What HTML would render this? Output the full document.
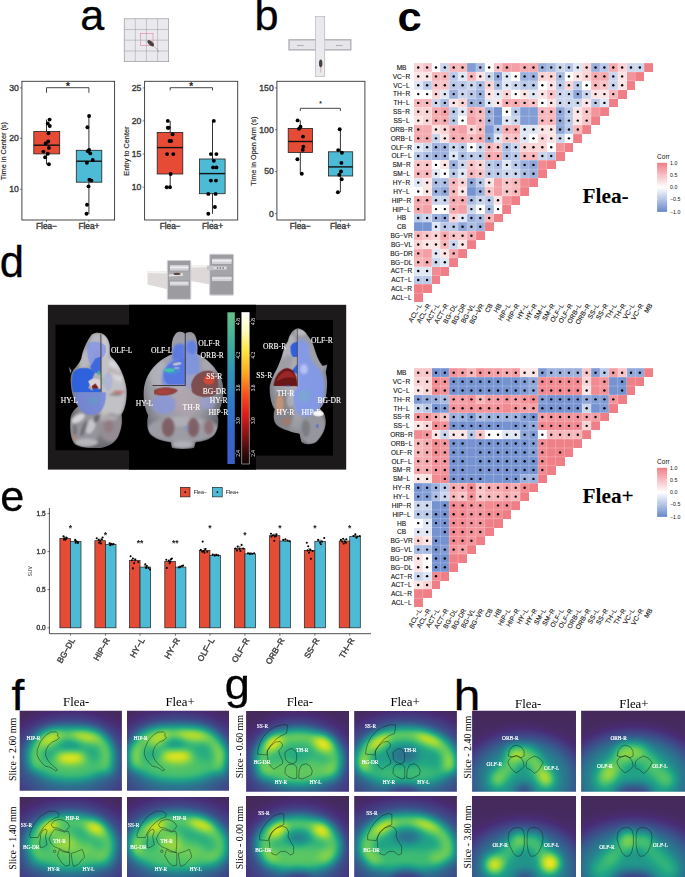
<!DOCTYPE html>
<html lang="en"><head><meta charset="utf-8"><title>Figure</title>
<style>
html,body{margin:0;padding:0;background:#fff;}
body{width:685px;height:877px;overflow:hidden;font-family:"Liberation Sans",Arial,sans-serif;}
svg{display:block;}
</style></head><body>
<svg width="685" height="877" viewBox="0 0 685 877">
<rect x="0" y="0" width="685" height="877" fill="#fff"/>
<g font-family='"Liberation Sans", Arial, sans-serif'>
<text x="80.3" y="30.2" font-size="43.2" fill="#000" stroke="#000" stroke-width="0.3">a</text>
<text x="254.6" y="30.2" font-size="43.2" fill="#000" stroke="#000" stroke-width="0.3">b</text>
<g>
<rect x="124.2" y="18.8" width="44.5" height="42.9" fill="#e9e9ee" stroke="#8a8a8e" stroke-width="0.6"/>
<line x1="135.3" x2="135.3" y1="18.8" y2="61.7" stroke="#9a9a9e" stroke-width="0.5"/>
<line x1="124.2" x2="168.7" y1="29.5" y2="29.5" stroke="#9a9a9e" stroke-width="0.5"/>
<line x1="146.4" x2="146.4" y1="18.8" y2="61.7" stroke="#9a9a9e" stroke-width="0.5"/>
<line x1="124.2" x2="168.7" y1="40.2" y2="40.2" stroke="#9a9a9e" stroke-width="0.5"/>
<line x1="157.6" x2="157.6" y1="18.8" y2="61.7" stroke="#9a9a9e" stroke-width="0.5"/>
<line x1="124.2" x2="168.7" y1="51.0" y2="51.0" stroke="#9a9a9e" stroke-width="0.5"/>
<rect x="140.3" y="33.3" width="12.7" height="12.1" fill="none" stroke="#e0708a" stroke-width="0.5"/>
<path d="M153.5 46 Q157.5 48.5 159 52.3" fill="none" stroke="#a06a6a" stroke-width="0.4"/>
<ellipse cx="150.7" cy="43.2" rx="4" ry="2" transform="rotate(42 150.7 43.2)" fill="#4a4040"/>
</g>
<g>
<rect x="289" y="39.8" width="61.8" height="10.1" fill="#e6e6ea" stroke="#adadb2" stroke-width="1.3"/>
<rect x="315.6" y="16.4" width="9.2" height="60.2" fill="#e9e9ee" stroke="#a0a0a4" stroke-width="0.5"/>
<rect x="316.1" y="40" width="8.2" height="9.8" fill="#e9e9ee"/>
<text x="300.3" y="45.6" text-anchor="middle" font-size="2.2" fill="#444">Closed</text>
<text x="339.1" y="45.6" text-anchor="middle" font-size="2.2" fill="#444">Closed</text>
<line x1="320.6" x2="320.8" y1="66" y2="72.5" stroke="#a06a6a" stroke-width="0.4"/>
<ellipse cx="320.7" cy="63.4" rx="1.7" ry="3.8" fill="#4a4040"/>
</g>
<rect x="21.9" y="81.3" width="92.69999999999999" height="138.7" fill="#fff" stroke="#333" stroke-width="0.9"/>
<line x1="19.9" x2="21.9" y1="87.9" y2="87.9" stroke="#333" stroke-width="0.6"/>
<text x="18.7" y="90.80000000000001" text-anchor="end" font-size="8.6" fill="#404040" stroke="#404040" stroke-width="0.4">30</text>
<line x1="19.9" x2="21.9" y1="138.4" y2="138.4" stroke="#333" stroke-width="0.6"/>
<text x="18.7" y="141.3" text-anchor="end" font-size="8.6" fill="#404040" stroke="#404040" stroke-width="0.4">20</text>
<line x1="19.9" x2="21.9" y1="189.2" y2="189.2" stroke="#333" stroke-width="0.6"/>
<text x="18.7" y="192.1" text-anchor="end" font-size="8.6" fill="#404040" stroke="#404040" stroke-width="0.4">10</text>
<line x1="46.5" x2="46.5" y1="220" y2="222" stroke="#333" stroke-width="0.6"/>
<text x="46.5" y="229.4" text-anchor="middle" font-size="8.3" fill="#404040" stroke="#404040" stroke-width="0.4">Flea−</text>
<line x1="88.9" x2="88.9" y1="220" y2="222" stroke="#333" stroke-width="0.6"/>
<text x="88.9" y="229.4" text-anchor="middle" font-size="8.3" fill="#404040" stroke="#404040" stroke-width="0.4">Flea+</text>
<text transform="translate(5.6,151.15) rotate(-90)" text-anchor="middle" font-size="7.3" fill="#222" stroke="#222" stroke-width="0.15">Time in Center (s)</text>
<line x1="46.5" x2="46.5" y1="119.6" y2="164.3" stroke="#333" stroke-width="1"/>
<rect x="33.8" y="131.5" width="25.900000000000006" height="22.400000000000006" fill="#E64B35" stroke="#222" stroke-width="0.8"/>
<line x1="33.8" x2="59.7" y1="145.2" y2="145.2" stroke="#111" stroke-width="1.4"/>
<line x1="88.9" x2="88.9" y1="115.6" y2="214.2" stroke="#333" stroke-width="1"/>
<rect x="76.3" y="150.3" width="25.5" height="31.899999999999977" fill="#4DBBD5" stroke="#222" stroke-width="0.8"/>
<line x1="76.3" x2="101.8" y1="161.2" y2="161.2" stroke="#111" stroke-width="1.4"/>
<circle cx="49.6" cy="119.6" r="1.95" fill="#000"/>
<circle cx="47.8" cy="123.5" r="1.95" fill="#000"/>
<circle cx="49.8" cy="126.0" r="1.95" fill="#000"/>
<circle cx="48.5" cy="133.3" r="1.95" fill="#000"/>
<circle cx="48.2" cy="141.5" r="1.95" fill="#000"/>
<circle cx="45.6" cy="143.4" r="1.95" fill="#000"/>
<circle cx="48.9" cy="147.9" r="1.95" fill="#000"/>
<circle cx="43.4" cy="151.6" r="1.95" fill="#000"/>
<circle cx="47.8" cy="153.8" r="1.95" fill="#000"/>
<circle cx="45.1" cy="157.2" r="1.95" fill="#000"/>
<circle cx="48.9" cy="164.3" r="1.95" fill="#000"/>
<circle cx="89.1" cy="116.0" r="1.95" fill="#000"/>
<circle cx="87.4" cy="127.3" r="1.95" fill="#000"/>
<circle cx="89.1" cy="149.9" r="1.95" fill="#000"/>
<circle cx="87.8" cy="151.2" r="1.95" fill="#000"/>
<circle cx="90.3" cy="153.4" r="1.95" fill="#000"/>
<circle cx="92.7" cy="160.0" r="1.95" fill="#000"/>
<circle cx="86.9" cy="162.7" r="1.95" fill="#000"/>
<circle cx="89.4" cy="179.7" r="1.95" fill="#000"/>
<circle cx="91.4" cy="180.6" r="1.95" fill="#000"/>
<circle cx="88.5" cy="186.4" r="1.95" fill="#000"/>
<circle cx="87.0" cy="204.7" r="1.95" fill="#000"/>
<circle cx="86.5" cy="213.8" r="1.95" fill="#000"/>
<path d="M46.5 92.8 V87.7 H88.9 V92.8" fill="none" stroke="#333" stroke-width="0.9"/>
<text x="67.9" y="90.3" text-anchor="middle" font-size="11" font-weight="bold" fill="#222">*</text>
<rect x="144.6" y="81.3" width="93.1" height="138.7" fill="#fff" stroke="#333" stroke-width="0.9"/>
<line x1="142.6" x2="144.6" y1="87.9" y2="87.9" stroke="#333" stroke-width="0.6"/>
<text x="141.4" y="90.80000000000001" text-anchor="end" font-size="8.6" fill="#404040" stroke="#404040" stroke-width="0.4">25</text>
<line x1="142.6" x2="144.6" y1="120.9" y2="120.9" stroke="#333" stroke-width="0.6"/>
<text x="141.4" y="123.80000000000001" text-anchor="end" font-size="8.6" fill="#404040" stroke="#404040" stroke-width="0.4">20</text>
<line x1="142.6" x2="144.6" y1="154.1" y2="154.1" stroke="#333" stroke-width="0.6"/>
<text x="141.4" y="157.0" text-anchor="end" font-size="8.6" fill="#404040" stroke="#404040" stroke-width="0.4">15</text>
<line x1="142.6" x2="144.6" y1="187.2" y2="187.2" stroke="#333" stroke-width="0.6"/>
<text x="141.4" y="190.1" text-anchor="end" font-size="8.6" fill="#404040" stroke="#404040" stroke-width="0.4">10</text>
<line x1="170.2" x2="170.2" y1="220" y2="222" stroke="#333" stroke-width="0.6"/>
<text x="170.2" y="229.4" text-anchor="middle" font-size="8.3" fill="#404040" stroke="#404040" stroke-width="0.4">Flea−</text>
<line x1="212.5" x2="212.5" y1="220" y2="222" stroke="#333" stroke-width="0.6"/>
<text x="212.5" y="229.4" text-anchor="middle" font-size="8.3" fill="#404040" stroke="#404040" stroke-width="0.4">Flea+</text>
<text transform="translate(129,151.15) rotate(-90)" text-anchor="middle" font-size="7.3" fill="#222" stroke="#222" stroke-width="0.15">Entry to Center</text>
<line x1="170.2" x2="170.2" y1="120.9" y2="187.2" stroke="#333" stroke-width="1"/>
<rect x="157.2" y="132.4" width="25.600000000000023" height="41.599999999999994" fill="#E64B35" stroke="#222" stroke-width="0.8"/>
<line x1="157.2" x2="182.8" y1="147.6" y2="147.6" stroke="#111" stroke-width="1.4"/>
<line x1="212.5" x2="212.5" y1="120.9" y2="213.8" stroke="#333" stroke-width="1"/>
<rect x="199.4" y="159" width="25.69999999999999" height="34.69999999999999" fill="#4DBBD5" stroke="#222" stroke-width="0.8"/>
<line x1="199.4" x2="225.1" y1="173.6" y2="173.6" stroke="#111" stroke-width="1.4"/>
<circle cx="167.8" cy="120.9" r="1.95" fill="#000"/>
<circle cx="167.8" cy="127.7" r="1.95" fill="#000"/>
<circle cx="168.7" cy="127.7" r="1.95" fill="#000"/>
<circle cx="172.6" cy="134.2" r="1.95" fill="#000"/>
<circle cx="169.6" cy="141.0" r="1.95" fill="#000"/>
<circle cx="171.1" cy="141.0" r="1.95" fill="#000"/>
<circle cx="167.1" cy="154.1" r="1.95" fill="#000"/>
<circle cx="173.3" cy="154.1" r="1.95" fill="#000"/>
<circle cx="170.7" cy="174.0" r="1.95" fill="#000"/>
<circle cx="166.7" cy="187.2" r="1.95" fill="#000"/>
<circle cx="170.0" cy="187.2" r="1.95" fill="#000"/>
<circle cx="213.8" cy="120.9" r="1.95" fill="#000"/>
<circle cx="210.9" cy="154.1" r="1.95" fill="#000"/>
<circle cx="216.4" cy="154.1" r="1.95" fill="#000"/>
<circle cx="213.8" cy="160.7" r="1.95" fill="#000"/>
<circle cx="213.1" cy="167.4" r="1.95" fill="#000"/>
<circle cx="216.4" cy="167.4" r="1.95" fill="#000"/>
<circle cx="210.9" cy="180.6" r="1.95" fill="#000"/>
<circle cx="216.0" cy="180.6" r="1.95" fill="#000"/>
<circle cx="208.3" cy="193.9" r="1.95" fill="#000"/>
<circle cx="215.6" cy="193.9" r="1.95" fill="#000"/>
<circle cx="214.9" cy="207.0" r="1.95" fill="#000"/>
<circle cx="208.3" cy="213.8" r="1.95" fill="#000"/>
<path d="M170.2 90.4 V87.7 H212.5 V90.4" fill="none" stroke="#333" stroke-width="0.9"/>
<text x="191.2" y="90.3" text-anchor="middle" font-size="11" font-weight="bold" fill="#222">*</text>
<rect x="276.9" y="81.3" width="88.0" height="138.7" fill="#fff" stroke="#333" stroke-width="0.9"/>
<line x1="274.9" x2="276.9" y1="87.9" y2="87.9" stroke="#333" stroke-width="0.6"/>
<text x="273.7" y="90.80000000000001" text-anchor="end" font-size="8.6" fill="#404040" stroke="#404040" stroke-width="0.4">150</text>
<line x1="274.9" x2="276.9" y1="129.7" y2="129.7" stroke="#333" stroke-width="0.6"/>
<text x="273.7" y="132.6" text-anchor="end" font-size="8.6" fill="#404040" stroke="#404040" stroke-width="0.4">100</text>
<line x1="274.9" x2="276.9" y1="171.5" y2="171.5" stroke="#333" stroke-width="0.6"/>
<text x="273.7" y="174.4" text-anchor="end" font-size="8.6" fill="#404040" stroke="#404040" stroke-width="0.4">50</text>
<line x1="274.9" x2="276.9" y1="213.6" y2="213.6" stroke="#333" stroke-width="0.6"/>
<text x="273.7" y="216.5" text-anchor="end" font-size="8.6" fill="#404040" stroke="#404040" stroke-width="0.4">0</text>
<line x1="300.3" x2="300.3" y1="220" y2="222" stroke="#333" stroke-width="0.6"/>
<text x="300.3" y="229.4" text-anchor="middle" font-size="8.3" fill="#404040" stroke="#404040" stroke-width="0.4">Flea−</text>
<line x1="340.4" x2="340.4" y1="220" y2="222" stroke="#333" stroke-width="0.6"/>
<text x="340.4" y="229.4" text-anchor="middle" font-size="8.3" fill="#404040" stroke="#404040" stroke-width="0.4">Flea+</text>
<text transform="translate(255.8,151.15) rotate(-90)" text-anchor="middle" font-size="7.3" fill="#222" stroke="#222" stroke-width="0.15">Time in Open Arm (s)</text>
<line x1="300.3" x2="300.3" y1="120.4" y2="173.8" stroke="#333" stroke-width="1"/>
<rect x="288.2" y="128.4" width="24.30000000000001" height="24.099999999999994" fill="#E64B35" stroke="#222" stroke-width="0.8"/>
<line x1="288.2" x2="312.5" y1="141.5" y2="141.5" stroke="#111" stroke-width="1.4"/>
<line x1="340.4" x2="340.4" y1="129.3" y2="192.3" stroke="#333" stroke-width="1"/>
<rect x="328.4" y="151.8" width="24.30000000000001" height="24.19999999999999" fill="#4DBBD5" stroke="#222" stroke-width="0.8"/>
<line x1="328.4" x2="352.7" y1="166.9" y2="166.9" stroke="#111" stroke-width="1.4"/>
<circle cx="297.6" cy="120.4" r="1.95" fill="#000"/>
<circle cx="300.5" cy="126.8" r="1.95" fill="#000"/>
<circle cx="299.0" cy="128.8" r="1.95" fill="#000"/>
<circle cx="303.0" cy="136.6" r="1.95" fill="#000"/>
<circle cx="303.4" cy="146.6" r="1.95" fill="#000"/>
<circle cx="302.7" cy="149.9" r="1.95" fill="#000"/>
<circle cx="297.4" cy="159.2" r="1.95" fill="#000"/>
<circle cx="301.8" cy="173.8" r="1.95" fill="#000"/>
<circle cx="339.7" cy="129.3" r="1.95" fill="#000"/>
<circle cx="338.2" cy="150.1" r="1.95" fill="#000"/>
<circle cx="341.9" cy="152.7" r="1.95" fill="#000"/>
<circle cx="341.4" cy="162.9" r="1.95" fill="#000"/>
<circle cx="341.0" cy="171.5" r="1.95" fill="#000"/>
<circle cx="339.3" cy="174.7" r="1.95" fill="#000"/>
<circle cx="341.7" cy="179.3" r="1.95" fill="#000"/>
<circle cx="337.9" cy="192.3" r="1.95" fill="#000"/>
<path d="M300.3 111 V108.3 H340.4 V111" fill="none" stroke="#333" stroke-width="0.9"/>
<text x="320.4" y="105.6" text-anchor="middle" font-size="6.5" font-weight="bold" fill="#222">*</text>
</g>
<defs><linearGradient id="corrgrad" x1="0" y1="0" x2="0" y2="1"><stop offset="0" stop-color="#f07e86"/><stop offset="0.5" stop-color="#ffffff"/><stop offset="1" stop-color="#6888cc"/></linearGradient></defs>
<text transform="translate(397.6,30.8) scale(1.09,1)" font-family='"Liberation Sans", Arial, sans-serif' font-weight="bold" font-size="40" fill="#000">c</text>
<g shape-rendering="crispEdges">
<rect x="413.80" y="63.10" width="8.92" height="8.90" fill="#fad3d5"/>
<rect x="422.67" y="63.10" width="8.92" height="8.90" fill="#f8c4c8"/>
<rect x="431.53" y="63.10" width="8.92" height="8.90" fill="#ffffff"/>
<rect x="440.39" y="63.10" width="8.92" height="8.90" fill="#cbd6ed"/>
<rect x="449.26" y="63.10" width="8.92" height="8.90" fill="#f7b7bb"/>
<rect x="458.12" y="63.10" width="8.92" height="8.90" fill="#f7b7bb"/>
<rect x="466.99" y="63.10" width="8.92" height="8.90" fill="#829dd5"/>
<rect x="475.86" y="63.10" width="8.92" height="8.90" fill="#abbde3"/>
<rect x="484.72" y="63.10" width="8.92" height="8.90" fill="#ffffff"/>
<rect x="493.59" y="63.10" width="8.92" height="8.90" fill="#f8c4c8"/>
<rect x="502.45" y="63.10" width="8.92" height="8.90" fill="#f49fa5"/>
<rect x="511.31" y="63.10" width="8.92" height="8.90" fill="#f49fa5"/>
<rect x="520.18" y="63.10" width="8.92" height="8.90" fill="#f5abb0"/>
<rect x="529.05" y="63.10" width="8.92" height="8.90" fill="#f5abb0"/>
<rect x="537.91" y="63.10" width="8.92" height="8.90" fill="#9cb1de"/>
<rect x="546.77" y="63.10" width="8.92" height="8.90" fill="#abbde3"/>
<rect x="555.64" y="63.10" width="8.92" height="8.90" fill="#cbd6ed"/>
<rect x="564.50" y="63.10" width="8.92" height="8.90" fill="#bac9e8"/>
<rect x="573.37" y="63.10" width="8.92" height="8.90" fill="#dfe6f4"/>
<rect x="582.24" y="63.10" width="8.92" height="8.90" fill="#fad3d5"/>
<rect x="591.10" y="63.10" width="8.92" height="8.90" fill="#9cb1de"/>
<rect x="599.97" y="63.10" width="8.92" height="8.90" fill="#bac9e8"/>
<rect x="608.83" y="63.10" width="8.92" height="8.90" fill="#f5abb0"/>
<rect x="617.70" y="63.10" width="8.92" height="8.90" fill="#fad3d5"/>
<rect x="626.56" y="63.10" width="8.92" height="8.90" fill="#cbd6ed"/>
<rect x="635.42" y="63.10" width="8.92" height="8.90" fill="#cbd6ed"/>
<rect x="644.29" y="63.10" width="8.92" height="8.90" fill="#f07e86"/>
<rect x="413.80" y="71.95" width="8.92" height="8.90" fill="#fce4e5"/>
<rect x="422.67" y="71.95" width="8.92" height="8.90" fill="#fce4e5"/>
<rect x="431.53" y="71.95" width="8.92" height="8.90" fill="#f7b7bb"/>
<rect x="440.39" y="71.95" width="8.92" height="8.90" fill="#f7b7bb"/>
<rect x="449.26" y="71.95" width="8.92" height="8.90" fill="#bac9e8"/>
<rect x="458.12" y="71.95" width="8.92" height="8.90" fill="#dfe6f4"/>
<rect x="466.99" y="71.95" width="8.92" height="8.90" fill="#f7b7bb"/>
<rect x="475.86" y="71.95" width="8.92" height="8.90" fill="#fce4e5"/>
<rect x="484.72" y="71.95" width="8.92" height="8.90" fill="#cbd6ed"/>
<rect x="493.59" y="71.95" width="8.92" height="8.90" fill="#8fa7d9"/>
<rect x="502.45" y="71.95" width="8.92" height="8.90" fill="#dfe6f4"/>
<rect x="511.31" y="71.95" width="8.92" height="8.90" fill="#ffffff"/>
<rect x="520.18" y="71.95" width="8.92" height="8.90" fill="#9cb1de"/>
<rect x="529.05" y="71.95" width="8.92" height="8.90" fill="#9cb1de"/>
<rect x="537.91" y="71.95" width="8.92" height="8.90" fill="#fad3d5"/>
<rect x="546.77" y="71.95" width="8.92" height="8.90" fill="#fad3d5"/>
<rect x="555.64" y="71.95" width="8.92" height="8.90" fill="#abbde3"/>
<rect x="564.50" y="71.95" width="8.92" height="8.90" fill="#ffffff"/>
<rect x="573.37" y="71.95" width="8.92" height="8.90" fill="#fce4e5"/>
<rect x="582.24" y="71.95" width="8.92" height="8.90" fill="#fad3d5"/>
<rect x="591.10" y="71.95" width="8.92" height="8.90" fill="#f5abb0"/>
<rect x="599.97" y="71.95" width="8.92" height="8.90" fill="#f5abb0"/>
<rect x="608.83" y="71.95" width="8.92" height="8.90" fill="#cbd6ed"/>
<rect x="617.70" y="71.95" width="8.92" height="8.90" fill="#fce4e5"/>
<rect x="626.56" y="71.95" width="8.92" height="8.90" fill="#f3949b"/>
<rect x="635.42" y="71.95" width="8.92" height="8.90" fill="#f07e86"/>
<rect x="413.80" y="80.80" width="8.92" height="8.90" fill="#dfe6f4"/>
<rect x="422.67" y="80.80" width="8.92" height="8.90" fill="#bac9e8"/>
<rect x="431.53" y="80.80" width="8.92" height="8.90" fill="#f8c4c8"/>
<rect x="440.39" y="80.80" width="8.92" height="8.90" fill="#f8c4c8"/>
<rect x="449.26" y="80.80" width="8.92" height="8.90" fill="#bac9e8"/>
<rect x="458.12" y="80.80" width="8.92" height="8.90" fill="#bac9e8"/>
<rect x="466.99" y="80.80" width="8.92" height="8.90" fill="#cbd6ed"/>
<rect x="475.86" y="80.80" width="8.92" height="8.90" fill="#abbde3"/>
<rect x="484.72" y="80.80" width="8.92" height="8.90" fill="#fad3d5"/>
<rect x="493.59" y="80.80" width="8.92" height="8.90" fill="#abbde3"/>
<rect x="502.45" y="80.80" width="8.92" height="8.90" fill="#dfe6f4"/>
<rect x="511.31" y="80.80" width="8.92" height="8.90" fill="#cbd6ed"/>
<rect x="520.18" y="80.80" width="8.92" height="8.90" fill="#bac9e8"/>
<rect x="529.05" y="80.80" width="8.92" height="8.90" fill="#bac9e8"/>
<rect x="537.91" y="80.80" width="8.92" height="8.90" fill="#ffffff"/>
<rect x="546.77" y="80.80" width="8.92" height="8.90" fill="#fce4e5"/>
<rect x="555.64" y="80.80" width="8.92" height="8.90" fill="#bac9e8"/>
<rect x="564.50" y="80.80" width="8.92" height="8.90" fill="#fad3d5"/>
<rect x="573.37" y="80.80" width="8.92" height="8.90" fill="#bac9e8"/>
<rect x="582.24" y="80.80" width="8.92" height="8.90" fill="#ffffff"/>
<rect x="591.10" y="80.80" width="8.92" height="8.90" fill="#f7b7bb"/>
<rect x="599.97" y="80.80" width="8.92" height="8.90" fill="#f8c4c8"/>
<rect x="608.83" y="80.80" width="8.92" height="8.90" fill="#cbd6ed"/>
<rect x="617.70" y="80.80" width="8.92" height="8.90" fill="#fce4e5"/>
<rect x="626.56" y="80.80" width="8.92" height="8.90" fill="#f07e86"/>
<rect x="413.80" y="89.65" width="8.92" height="8.90" fill="#ffffff"/>
<rect x="422.67" y="89.65" width="8.92" height="8.90" fill="#ffffff"/>
<rect x="431.53" y="89.65" width="8.92" height="8.90" fill="#fad3d5"/>
<rect x="440.39" y="89.65" width="8.92" height="8.90" fill="#dfe6f4"/>
<rect x="449.26" y="89.65" width="8.92" height="8.90" fill="#9cb1de"/>
<rect x="458.12" y="89.65" width="8.92" height="8.90" fill="#cbd6ed"/>
<rect x="466.99" y="89.65" width="8.92" height="8.90" fill="#bac9e8"/>
<rect x="475.86" y="89.65" width="8.92" height="8.90" fill="#9cb1de"/>
<rect x="484.72" y="89.65" width="8.92" height="8.90" fill="#fce4e5"/>
<rect x="493.59" y="89.65" width="8.92" height="8.90" fill="#dfe6f4"/>
<rect x="502.45" y="89.65" width="8.92" height="8.90" fill="#fad3d5"/>
<rect x="511.31" y="89.65" width="8.92" height="8.90" fill="#ffffff"/>
<rect x="520.18" y="89.65" width="8.92" height="8.90" fill="#fce4e5"/>
<rect x="529.05" y="89.65" width="8.92" height="8.90" fill="#dfe6f4"/>
<rect x="537.91" y="89.65" width="8.92" height="8.90" fill="#fce4e5"/>
<rect x="546.77" y="89.65" width="8.92" height="8.90" fill="#f8c4c8"/>
<rect x="555.64" y="89.65" width="8.92" height="8.90" fill="#cbd6ed"/>
<rect x="564.50" y="89.65" width="8.92" height="8.90" fill="#cbd6ed"/>
<rect x="573.37" y="89.65" width="8.92" height="8.90" fill="#8fa7d9"/>
<rect x="582.24" y="89.65" width="8.92" height="8.90" fill="#cbd6ed"/>
<rect x="591.10" y="89.65" width="8.92" height="8.90" fill="#fce4e5"/>
<rect x="599.97" y="89.65" width="8.92" height="8.90" fill="#fce4e5"/>
<rect x="608.83" y="89.65" width="8.92" height="8.90" fill="#f7b7bb"/>
<rect x="617.70" y="89.65" width="8.92" height="8.90" fill="#f07e86"/>
<rect x="413.80" y="98.50" width="8.92" height="8.90" fill="#f7b7bb"/>
<rect x="422.67" y="98.50" width="8.92" height="8.90" fill="#f7b7bb"/>
<rect x="431.53" y="98.50" width="8.92" height="8.90" fill="#cbd6ed"/>
<rect x="440.39" y="98.50" width="8.92" height="8.90" fill="#abbde3"/>
<rect x="449.26" y="98.50" width="8.92" height="8.90" fill="#fce4e5"/>
<rect x="458.12" y="98.50" width="8.92" height="8.90" fill="#fad3d5"/>
<rect x="466.99" y="98.50" width="8.92" height="8.90" fill="#9cb1de"/>
<rect x="475.86" y="98.50" width="8.92" height="8.90" fill="#9cb1de"/>
<rect x="484.72" y="98.50" width="8.92" height="8.90" fill="#dfe6f4"/>
<rect x="493.59" y="98.50" width="8.92" height="8.90" fill="#fce4e5"/>
<rect x="502.45" y="98.50" width="8.92" height="8.90" fill="#f5abb0"/>
<rect x="511.31" y="98.50" width="8.92" height="8.90" fill="#f5abb0"/>
<rect x="520.18" y="98.50" width="8.92" height="8.90" fill="#f7b7bb"/>
<rect x="529.05" y="98.50" width="8.92" height="8.90" fill="#f8c4c8"/>
<rect x="537.91" y="98.50" width="8.92" height="8.90" fill="#ffffff"/>
<rect x="546.77" y="98.50" width="8.92" height="8.90" fill="#fce4e5"/>
<rect x="555.64" y="98.50" width="8.92" height="8.90" fill="#cbd6ed"/>
<rect x="564.50" y="98.50" width="8.92" height="8.90" fill="#cbd6ed"/>
<rect x="573.37" y="98.50" width="8.92" height="8.90" fill="#cbd6ed"/>
<rect x="582.24" y="98.50" width="8.92" height="8.90" fill="#fce4e5"/>
<rect x="591.10" y="98.50" width="8.92" height="8.90" fill="#bac9e8"/>
<rect x="599.97" y="98.50" width="8.92" height="8.90" fill="#dfe6f4"/>
<rect x="608.83" y="98.50" width="8.92" height="8.90" fill="#f07e86"/>
<rect x="413.80" y="107.35" width="8.92" height="8.90" fill="#fad3d5"/>
<rect x="422.67" y="107.35" width="8.92" height="8.90" fill="#fad3d5"/>
<rect x="431.53" y="107.35" width="8.92" height="8.90" fill="#f5abb0"/>
<rect x="440.39" y="107.35" width="8.92" height="8.90" fill="#f49fa5"/>
<rect x="449.26" y="107.35" width="8.92" height="8.90" fill="#bac9e8"/>
<rect x="458.12" y="107.35" width="8.92" height="8.90" fill="#dfe6f4"/>
<rect x="466.99" y="107.35" width="8.92" height="8.90" fill="#f5abb0"/>
<rect x="475.86" y="107.35" width="8.92" height="8.90" fill="#f7b7bb"/>
<rect x="484.72" y="107.35" width="8.92" height="8.90" fill="#9cb1de"/>
<rect x="493.59" y="107.35" width="8.92" height="8.90" fill="#7693d1"/>
<rect x="502.45" y="107.35" width="8.92" height="8.90" fill="#ffffff"/>
<rect x="511.31" y="107.35" width="8.92" height="8.90" fill="#bac9e8"/>
<rect x="520.18" y="107.35" width="8.92" height="8.90" fill="#829dd5"/>
<rect x="529.05" y="107.35" width="8.92" height="8.90" fill="#829dd5"/>
<rect x="537.91" y="107.35" width="8.92" height="8.90" fill="#f7b7bb"/>
<rect x="546.77" y="107.35" width="8.92" height="8.90" fill="#f7b7bb"/>
<rect x="555.64" y="107.35" width="8.92" height="8.90" fill="#8fa7d9"/>
<rect x="564.50" y="107.35" width="8.92" height="8.90" fill="#bac9e8"/>
<rect x="573.37" y="107.35" width="8.92" height="8.90" fill="#fce4e5"/>
<rect x="582.24" y="107.35" width="8.92" height="8.90" fill="#f8c4c8"/>
<rect x="591.10" y="107.35" width="8.92" height="8.90" fill="#f3949b"/>
<rect x="599.97" y="107.35" width="8.92" height="8.90" fill="#f07e86"/>
<rect x="413.80" y="116.20" width="8.92" height="8.90" fill="#fce4e5"/>
<rect x="422.67" y="116.20" width="8.92" height="8.90" fill="#fad3d5"/>
<rect x="431.53" y="116.20" width="8.92" height="8.90" fill="#f5abb0"/>
<rect x="440.39" y="116.20" width="8.92" height="8.90" fill="#f5abb0"/>
<rect x="449.26" y="116.20" width="8.92" height="8.90" fill="#bac9e8"/>
<rect x="458.12" y="116.20" width="8.92" height="8.90" fill="#ffffff"/>
<rect x="466.99" y="116.20" width="8.92" height="8.90" fill="#f49fa5"/>
<rect x="475.86" y="116.20" width="8.92" height="8.90" fill="#f7b7bb"/>
<rect x="484.72" y="116.20" width="8.92" height="8.90" fill="#9cb1de"/>
<rect x="493.59" y="116.20" width="8.92" height="8.90" fill="#7693d1"/>
<rect x="502.45" y="116.20" width="8.92" height="8.90" fill="#dfe6f4"/>
<rect x="511.31" y="116.20" width="8.92" height="8.90" fill="#cbd6ed"/>
<rect x="520.18" y="116.20" width="8.92" height="8.90" fill="#829dd5"/>
<rect x="529.05" y="116.20" width="8.92" height="8.90" fill="#829dd5"/>
<rect x="537.91" y="116.20" width="8.92" height="8.90" fill="#f7b7bb"/>
<rect x="546.77" y="116.20" width="8.92" height="8.90" fill="#f7b7bb"/>
<rect x="555.64" y="116.20" width="8.92" height="8.90" fill="#8fa7d9"/>
<rect x="564.50" y="116.20" width="8.92" height="8.90" fill="#bac9e8"/>
<rect x="573.37" y="116.20" width="8.92" height="8.90" fill="#fce4e5"/>
<rect x="582.24" y="116.20" width="8.92" height="8.90" fill="#f8c4c8"/>
<rect x="591.10" y="116.20" width="8.92" height="8.90" fill="#f07e86"/>
<rect x="413.80" y="125.05" width="8.92" height="8.90" fill="#f5abb0"/>
<rect x="422.67" y="125.05" width="8.92" height="8.90" fill="#f5abb0"/>
<rect x="431.53" y="125.05" width="8.92" height="8.90" fill="#fce4e5"/>
<rect x="440.39" y="125.05" width="8.92" height="8.90" fill="#fad3d5"/>
<rect x="449.26" y="125.05" width="8.92" height="8.90" fill="#f5abb0"/>
<rect x="458.12" y="125.05" width="8.92" height="8.90" fill="#f49fa5"/>
<rect x="466.99" y="125.05" width="8.92" height="8.90" fill="#fad3d5"/>
<rect x="475.86" y="125.05" width="8.92" height="8.90" fill="#f7b7bb"/>
<rect x="484.72" y="125.05" width="8.92" height="8.90" fill="#829dd5"/>
<rect x="493.59" y="125.05" width="8.92" height="8.90" fill="#bac9e8"/>
<rect x="502.45" y="125.05" width="8.92" height="8.90" fill="#f5abb0"/>
<rect x="511.31" y="125.05" width="8.92" height="8.90" fill="#f5abb0"/>
<rect x="520.18" y="125.05" width="8.92" height="8.90" fill="#dfe6f4"/>
<rect x="529.05" y="125.05" width="8.92" height="8.90" fill="#dfe6f4"/>
<rect x="537.91" y="125.05" width="8.92" height="8.90" fill="#fce4e5"/>
<rect x="546.77" y="125.05" width="8.92" height="8.90" fill="#fce4e5"/>
<rect x="555.64" y="125.05" width="8.92" height="8.90" fill="#8fa7d9"/>
<rect x="564.50" y="125.05" width="8.92" height="8.90" fill="#bac9e8"/>
<rect x="573.37" y="125.05" width="8.92" height="8.90" fill="#f7b7bb"/>
<rect x="582.24" y="125.05" width="8.92" height="8.90" fill="#f07e86"/>
<rect x="413.80" y="133.90" width="8.92" height="8.90" fill="#f5abb0"/>
<rect x="422.67" y="133.90" width="8.92" height="8.90" fill="#f5abb0"/>
<rect x="431.53" y="133.90" width="8.92" height="8.90" fill="#cbd6ed"/>
<rect x="440.39" y="133.90" width="8.92" height="8.90" fill="#fce4e5"/>
<rect x="449.26" y="133.90" width="8.92" height="8.90" fill="#f5abb0"/>
<rect x="458.12" y="133.90" width="8.92" height="8.90" fill="#f5abb0"/>
<rect x="466.99" y="133.90" width="8.92" height="8.90" fill="#f7b7bb"/>
<rect x="475.86" y="133.90" width="8.92" height="8.90" fill="#f5abb0"/>
<rect x="484.72" y="133.90" width="8.92" height="8.90" fill="#8fa7d9"/>
<rect x="493.59" y="133.90" width="8.92" height="8.90" fill="#dfe6f4"/>
<rect x="502.45" y="133.90" width="8.92" height="8.90" fill="#f8c4c8"/>
<rect x="511.31" y="133.90" width="8.92" height="8.90" fill="#f8c4c8"/>
<rect x="520.18" y="133.90" width="8.92" height="8.90" fill="#dfe6f4"/>
<rect x="529.05" y="133.90" width="8.92" height="8.90" fill="#ffffff"/>
<rect x="537.91" y="133.90" width="8.92" height="8.90" fill="#fad3d5"/>
<rect x="546.77" y="133.90" width="8.92" height="8.90" fill="#fce4e5"/>
<rect x="555.64" y="133.90" width="8.92" height="8.90" fill="#cbd6ed"/>
<rect x="564.50" y="133.90" width="8.92" height="8.90" fill="#ffffff"/>
<rect x="573.37" y="133.90" width="8.92" height="8.90" fill="#f07e86"/>
<rect x="413.80" y="142.75" width="8.92" height="8.90" fill="#dfe6f4"/>
<rect x="422.67" y="142.75" width="8.92" height="8.90" fill="#cbd6ed"/>
<rect x="431.53" y="142.75" width="8.92" height="8.90" fill="#9cb1de"/>
<rect x="440.39" y="142.75" width="8.92" height="8.90" fill="#9cb1de"/>
<rect x="449.26" y="142.75" width="8.92" height="8.90" fill="#cbd6ed"/>
<rect x="458.12" y="142.75" width="8.92" height="8.90" fill="#bac9e8"/>
<rect x="466.99" y="142.75" width="8.92" height="8.90" fill="#ffffff"/>
<rect x="475.86" y="142.75" width="8.92" height="8.90" fill="#cbd6ed"/>
<rect x="484.72" y="142.75" width="8.92" height="8.90" fill="#f7b7bb"/>
<rect x="493.59" y="142.75" width="8.92" height="8.90" fill="#f8c4c8"/>
<rect x="502.45" y="142.75" width="8.92" height="8.90" fill="#abbde3"/>
<rect x="511.31" y="142.75" width="8.92" height="8.90" fill="#cbd6ed"/>
<rect x="520.18" y="142.75" width="8.92" height="8.90" fill="#fad3d5"/>
<rect x="529.05" y="142.75" width="8.92" height="8.90" fill="#fad3d5"/>
<rect x="537.91" y="142.75" width="8.92" height="8.90" fill="#fad3d5"/>
<rect x="546.77" y="142.75" width="8.92" height="8.90" fill="#ffffff"/>
<rect x="555.64" y="142.75" width="8.92" height="8.90" fill="#f3949b"/>
<rect x="564.50" y="142.75" width="8.92" height="8.90" fill="#f07e86"/>
<rect x="413.80" y="151.60" width="8.92" height="8.90" fill="#bac9e8"/>
<rect x="422.67" y="151.60" width="8.92" height="8.90" fill="#abbde3"/>
<rect x="431.53" y="151.60" width="8.92" height="8.90" fill="#9cb1de"/>
<rect x="440.39" y="151.60" width="8.92" height="8.90" fill="#9cb1de"/>
<rect x="449.26" y="151.60" width="8.92" height="8.90" fill="#dfe6f4"/>
<rect x="458.12" y="151.60" width="8.92" height="8.90" fill="#abbde3"/>
<rect x="466.99" y="151.60" width="8.92" height="8.90" fill="#bac9e8"/>
<rect x="475.86" y="151.60" width="8.92" height="8.90" fill="#bac9e8"/>
<rect x="484.72" y="151.60" width="8.92" height="8.90" fill="#f5abb0"/>
<rect x="493.59" y="151.60" width="8.92" height="8.90" fill="#f5abb0"/>
<rect x="502.45" y="151.60" width="8.92" height="8.90" fill="#abbde3"/>
<rect x="511.31" y="151.60" width="8.92" height="8.90" fill="#bac9e8"/>
<rect x="520.18" y="151.60" width="8.92" height="8.90" fill="#f7b7bb"/>
<rect x="529.05" y="151.60" width="8.92" height="8.90" fill="#f7b7bb"/>
<rect x="537.91" y="151.60" width="8.92" height="8.90" fill="#cbd6ed"/>
<rect x="546.77" y="151.60" width="8.92" height="8.90" fill="#bac9e8"/>
<rect x="555.64" y="151.60" width="8.92" height="8.90" fill="#f07e86"/>
<rect x="413.80" y="160.45" width="8.92" height="8.90" fill="#f8c4c8"/>
<rect x="422.67" y="160.45" width="8.92" height="8.90" fill="#f8c4c8"/>
<rect x="431.53" y="160.45" width="8.92" height="8.90" fill="#ffffff"/>
<rect x="440.39" y="160.45" width="8.92" height="8.90" fill="#fce4e5"/>
<rect x="449.26" y="160.45" width="8.92" height="8.90" fill="#9cb1de"/>
<rect x="458.12" y="160.45" width="8.92" height="8.90" fill="#cbd6ed"/>
<rect x="466.99" y="160.45" width="8.92" height="8.90" fill="#f8c4c8"/>
<rect x="475.86" y="160.45" width="8.92" height="8.90" fill="#fad3d5"/>
<rect x="484.72" y="160.45" width="8.92" height="8.90" fill="#bac9e8"/>
<rect x="493.59" y="160.45" width="8.92" height="8.90" fill="#abbde3"/>
<rect x="502.45" y="160.45" width="8.92" height="8.90" fill="#dfe6f4"/>
<rect x="511.31" y="160.45" width="8.92" height="8.90" fill="#bac9e8"/>
<rect x="520.18" y="160.45" width="8.92" height="8.90" fill="#9cb1de"/>
<rect x="529.05" y="160.45" width="8.92" height="8.90" fill="#8fa7d9"/>
<rect x="537.91" y="160.45" width="8.92" height="8.90" fill="#f18a91"/>
<rect x="546.77" y="160.45" width="8.92" height="8.90" fill="#f07e86"/>
<rect x="413.80" y="169.30" width="8.92" height="8.90" fill="#f7b7bb"/>
<rect x="422.67" y="169.30" width="8.92" height="8.90" fill="#f7b7bb"/>
<rect x="431.53" y="169.30" width="8.92" height="8.90" fill="#dfe6f4"/>
<rect x="440.39" y="169.30" width="8.92" height="8.90" fill="#ffffff"/>
<rect x="449.26" y="169.30" width="8.92" height="8.90" fill="#bac9e8"/>
<rect x="458.12" y="169.30" width="8.92" height="8.90" fill="#dfe6f4"/>
<rect x="466.99" y="169.30" width="8.92" height="8.90" fill="#f7b7bb"/>
<rect x="475.86" y="169.30" width="8.92" height="8.90" fill="#f8c4c8"/>
<rect x="484.72" y="169.30" width="8.92" height="8.90" fill="#bac9e8"/>
<rect x="493.59" y="169.30" width="8.92" height="8.90" fill="#bac9e8"/>
<rect x="502.45" y="169.30" width="8.92" height="8.90" fill="#cbd6ed"/>
<rect x="511.31" y="169.30" width="8.92" height="8.90" fill="#cbd6ed"/>
<rect x="520.18" y="169.30" width="8.92" height="8.90" fill="#abbde3"/>
<rect x="529.05" y="169.30" width="8.92" height="8.90" fill="#9cb1de"/>
<rect x="537.91" y="169.30" width="8.92" height="8.90" fill="#f07e86"/>
<rect x="413.80" y="178.15" width="8.92" height="8.90" fill="#dfe6f4"/>
<rect x="422.67" y="178.15" width="8.92" height="8.90" fill="#fce4e5"/>
<rect x="431.53" y="178.15" width="8.92" height="8.90" fill="#abbde3"/>
<rect x="440.39" y="178.15" width="8.92" height="8.90" fill="#abbde3"/>
<rect x="449.26" y="178.15" width="8.92" height="8.90" fill="#f7b7bb"/>
<rect x="458.12" y="178.15" width="8.92" height="8.90" fill="#fad3d5"/>
<rect x="466.99" y="178.15" width="8.92" height="8.90" fill="#8fa7d9"/>
<rect x="475.86" y="178.15" width="8.92" height="8.90" fill="#bac9e8"/>
<rect x="484.72" y="178.15" width="8.92" height="8.90" fill="#fce4e5"/>
<rect x="493.59" y="178.15" width="8.92" height="8.90" fill="#f49fa5"/>
<rect x="502.45" y="178.15" width="8.92" height="8.90" fill="#f8c4c8"/>
<rect x="511.31" y="178.15" width="8.92" height="8.90" fill="#f7b7bb"/>
<rect x="520.18" y="178.15" width="8.92" height="8.90" fill="#f18a91"/>
<rect x="529.05" y="178.15" width="8.92" height="8.90" fill="#f07e86"/>
<rect x="413.80" y="187.00" width="8.92" height="8.90" fill="#ffffff"/>
<rect x="422.67" y="187.00" width="8.92" height="8.90" fill="#fce4e5"/>
<rect x="431.53" y="187.00" width="8.92" height="8.90" fill="#9cb1de"/>
<rect x="440.39" y="187.00" width="8.92" height="8.90" fill="#8fa7d9"/>
<rect x="449.26" y="187.00" width="8.92" height="8.90" fill="#f7b7bb"/>
<rect x="458.12" y="187.00" width="8.92" height="8.90" fill="#fce4e5"/>
<rect x="466.99" y="187.00" width="8.92" height="8.90" fill="#7693d1"/>
<rect x="475.86" y="187.00" width="8.92" height="8.90" fill="#9cb1de"/>
<rect x="484.72" y="187.00" width="8.92" height="8.90" fill="#f8c4c8"/>
<rect x="493.59" y="187.00" width="8.92" height="8.90" fill="#f49fa5"/>
<rect x="502.45" y="187.00" width="8.92" height="8.90" fill="#f8c4c8"/>
<rect x="511.31" y="187.00" width="8.92" height="8.90" fill="#f7b7bb"/>
<rect x="520.18" y="187.00" width="8.92" height="8.90" fill="#f07e86"/>
<rect x="413.80" y="195.85" width="8.92" height="8.90" fill="#f5abb0"/>
<rect x="422.67" y="195.85" width="8.92" height="8.90" fill="#f5abb0"/>
<rect x="431.53" y="195.85" width="8.92" height="8.90" fill="#cbd6ed"/>
<rect x="440.39" y="195.85" width="8.92" height="8.90" fill="#cbd6ed"/>
<rect x="449.26" y="195.85" width="8.92" height="8.90" fill="#f5abb0"/>
<rect x="458.12" y="195.85" width="8.92" height="8.90" fill="#f5abb0"/>
<rect x="466.99" y="195.85" width="8.92" height="8.90" fill="#abbde3"/>
<rect x="475.86" y="195.85" width="8.92" height="8.90" fill="#cbd6ed"/>
<rect x="484.72" y="195.85" width="8.92" height="8.90" fill="#bac9e8"/>
<rect x="493.59" y="195.85" width="8.92" height="8.90" fill="#fce4e5"/>
<rect x="502.45" y="195.85" width="8.92" height="8.90" fill="#f3949b"/>
<rect x="511.31" y="195.85" width="8.92" height="8.90" fill="#f07e86"/>
<rect x="413.80" y="204.70" width="8.92" height="8.90" fill="#f5abb0"/>
<rect x="422.67" y="204.70" width="8.92" height="8.90" fill="#f49fa5"/>
<rect x="431.53" y="204.70" width="8.92" height="8.90" fill="#ffffff"/>
<rect x="440.39" y="204.70" width="8.92" height="8.90" fill="#ffffff"/>
<rect x="449.26" y="204.70" width="8.92" height="8.90" fill="#f5abb0"/>
<rect x="458.12" y="204.70" width="8.92" height="8.90" fill="#f49fa5"/>
<rect x="466.99" y="204.70" width="8.92" height="8.90" fill="#cbd6ed"/>
<rect x="475.86" y="204.70" width="8.92" height="8.90" fill="#ffffff"/>
<rect x="484.72" y="204.70" width="8.92" height="8.90" fill="#abbde3"/>
<rect x="493.59" y="204.70" width="8.92" height="8.90" fill="#ffffff"/>
<rect x="502.45" y="204.70" width="8.92" height="8.90" fill="#f07e86"/>
<rect x="413.80" y="213.55" width="8.92" height="8.90" fill="#bac9e8"/>
<rect x="422.67" y="213.55" width="8.92" height="8.90" fill="#cbd6ed"/>
<rect x="431.53" y="213.55" width="8.92" height="8.90" fill="#9cb1de"/>
<rect x="440.39" y="213.55" width="8.92" height="8.90" fill="#8fa7d9"/>
<rect x="449.26" y="213.55" width="8.92" height="8.90" fill="#fad3d5"/>
<rect x="458.12" y="213.55" width="8.92" height="8.90" fill="#dfe6f4"/>
<rect x="466.99" y="213.55" width="8.92" height="8.90" fill="#9cb1de"/>
<rect x="475.86" y="213.55" width="8.92" height="8.90" fill="#abbde3"/>
<rect x="484.72" y="213.55" width="8.92" height="8.90" fill="#f7b7bb"/>
<rect x="493.59" y="213.55" width="8.92" height="8.90" fill="#f07e86"/>
<rect x="413.80" y="222.40" width="8.92" height="8.90" fill="#7693d1"/>
<rect x="422.67" y="222.40" width="8.92" height="8.90" fill="#7693d1"/>
<rect x="431.53" y="222.40" width="8.92" height="8.90" fill="#dfe6f4"/>
<rect x="440.39" y="222.40" width="8.92" height="8.90" fill="#bac9e8"/>
<rect x="449.26" y="222.40" width="8.92" height="8.90" fill="#bac9e8"/>
<rect x="458.12" y="222.40" width="8.92" height="8.90" fill="#8fa7d9"/>
<rect x="466.99" y="222.40" width="8.92" height="8.90" fill="#abbde3"/>
<rect x="475.86" y="222.40" width="8.92" height="8.90" fill="#9cb1de"/>
<rect x="484.72" y="222.40" width="8.92" height="8.90" fill="#f07e86"/>
<rect x="413.80" y="231.25" width="8.92" height="8.90" fill="#f7b7bb"/>
<rect x="422.67" y="231.25" width="8.92" height="8.90" fill="#f8c4c8"/>
<rect x="431.53" y="231.25" width="8.92" height="8.90" fill="#fad3d5"/>
<rect x="440.39" y="231.25" width="8.92" height="8.90" fill="#f5abb0"/>
<rect x="449.26" y="231.25" width="8.92" height="8.90" fill="#f8c4c8"/>
<rect x="458.12" y="231.25" width="8.92" height="8.90" fill="#f8c4c8"/>
<rect x="466.99" y="231.25" width="8.92" height="8.90" fill="#f5abb0"/>
<rect x="475.86" y="231.25" width="8.92" height="8.90" fill="#f07e86"/>
<rect x="413.80" y="240.10" width="8.92" height="8.90" fill="#fad3d5"/>
<rect x="422.67" y="240.10" width="8.92" height="8.90" fill="#fce4e5"/>
<rect x="431.53" y="240.10" width="8.92" height="8.90" fill="#fce4e5"/>
<rect x="440.39" y="240.10" width="8.92" height="8.90" fill="#f7b7bb"/>
<rect x="449.26" y="240.10" width="8.92" height="8.90" fill="#cbd6ed"/>
<rect x="458.12" y="240.10" width="8.92" height="8.90" fill="#fce4e5"/>
<rect x="466.99" y="240.10" width="8.92" height="8.90" fill="#f07e86"/>
<rect x="413.80" y="248.95" width="8.92" height="8.90" fill="#f5abb0"/>
<rect x="422.67" y="248.95" width="8.92" height="8.90" fill="#f49fa5"/>
<rect x="431.53" y="248.95" width="8.92" height="8.90" fill="#dfe6f4"/>
<rect x="440.39" y="248.95" width="8.92" height="8.90" fill="#fce4e5"/>
<rect x="449.26" y="248.95" width="8.92" height="8.90" fill="#f5abb0"/>
<rect x="458.12" y="248.95" width="8.92" height="8.90" fill="#f07e86"/>
<rect x="413.80" y="257.80" width="8.92" height="8.90" fill="#f7b7bb"/>
<rect x="422.67" y="257.80" width="8.92" height="8.90" fill="#f5abb0"/>
<rect x="431.53" y="257.80" width="8.92" height="8.90" fill="#cbd6ed"/>
<rect x="440.39" y="257.80" width="8.92" height="8.90" fill="#dfe6f4"/>
<rect x="449.26" y="257.80" width="8.92" height="8.90" fill="#f07e86"/>
<rect x="413.80" y="266.65" width="8.92" height="8.90" fill="#dfe6f4"/>
<rect x="422.67" y="266.65" width="8.92" height="8.90" fill="#dfe6f4"/>
<rect x="431.53" y="266.65" width="8.92" height="8.90" fill="#f18a91"/>
<rect x="440.39" y="266.65" width="8.92" height="8.90" fill="#f07e86"/>
<rect x="413.80" y="275.50" width="8.92" height="8.90" fill="#bac9e8"/>
<rect x="422.67" y="275.50" width="8.92" height="8.90" fill="#bac9e8"/>
<rect x="431.53" y="275.50" width="8.92" height="8.90" fill="#f07e86"/>
<rect x="413.80" y="284.35" width="8.92" height="8.90" fill="#f08088"/>
<rect x="422.67" y="284.35" width="8.92" height="8.90" fill="#f07e86"/>
<rect x="413.80" y="293.20" width="8.92" height="8.90" fill="#f07e86"/>
</g>
<g stroke="#fff" stroke-opacity="0.5" stroke-width="0.45">
<line x1="413.8" x2="653.15" y1="63.10" y2="63.10"/>
<line x1="413.8" x2="644.29" y1="71.95" y2="71.95"/>
<line x1="413.8" x2="635.42" y1="80.80" y2="80.80"/>
<line x1="413.8" x2="626.56" y1="89.65" y2="89.65"/>
<line x1="413.8" x2="617.70" y1="98.50" y2="98.50"/>
<line x1="413.8" x2="608.83" y1="107.35" y2="107.35"/>
<line x1="413.8" x2="599.97" y1="116.20" y2="116.20"/>
<line x1="413.8" x2="591.10" y1="125.05" y2="125.05"/>
<line x1="413.8" x2="582.24" y1="133.90" y2="133.90"/>
<line x1="413.8" x2="573.37" y1="142.75" y2="142.75"/>
<line x1="413.8" x2="564.50" y1="151.60" y2="151.60"/>
<line x1="413.8" x2="555.64" y1="160.45" y2="160.45"/>
<line x1="413.8" x2="546.77" y1="169.30" y2="169.30"/>
<line x1="413.8" x2="537.91" y1="178.15" y2="178.15"/>
<line x1="413.8" x2="529.05" y1="187.00" y2="187.00"/>
<line x1="413.8" x2="520.18" y1="195.85" y2="195.85"/>
<line x1="413.8" x2="511.31" y1="204.70" y2="204.70"/>
<line x1="413.8" x2="502.45" y1="213.55" y2="213.55"/>
<line x1="413.8" x2="493.59" y1="222.40" y2="222.40"/>
<line x1="413.8" x2="484.72" y1="231.25" y2="231.25"/>
<line x1="413.8" x2="475.86" y1="240.10" y2="240.10"/>
<line x1="413.8" x2="466.99" y1="248.95" y2="248.95"/>
<line x1="413.8" x2="458.12" y1="257.80" y2="257.80"/>
<line x1="413.8" x2="449.26" y1="266.65" y2="266.65"/>
<line x1="413.8" x2="440.39" y1="275.50" y2="275.50"/>
<line x1="413.8" x2="431.53" y1="284.35" y2="284.35"/>
<line x1="413.8" x2="422.67" y1="293.20" y2="293.20"/>
<line x1="413.80" x2="413.80" y1="63.1" y2="302.05"/>
<line x1="422.67" x2="422.67" y1="63.1" y2="293.20"/>
<line x1="431.53" x2="431.53" y1="63.1" y2="284.35"/>
<line x1="440.39" x2="440.39" y1="63.1" y2="275.50"/>
<line x1="449.26" x2="449.26" y1="63.1" y2="266.65"/>
<line x1="458.12" x2="458.12" y1="63.1" y2="257.80"/>
<line x1="466.99" x2="466.99" y1="63.1" y2="248.95"/>
<line x1="475.86" x2="475.86" y1="63.1" y2="240.10"/>
<line x1="484.72" x2="484.72" y1="63.1" y2="231.25"/>
<line x1="493.59" x2="493.59" y1="63.1" y2="222.40"/>
<line x1="502.45" x2="502.45" y1="63.1" y2="213.55"/>
<line x1="511.31" x2="511.31" y1="63.1" y2="204.70"/>
<line x1="520.18" x2="520.18" y1="63.1" y2="195.85"/>
<line x1="529.05" x2="529.05" y1="63.1" y2="187.00"/>
<line x1="537.91" x2="537.91" y1="63.1" y2="178.15"/>
<line x1="546.77" x2="546.77" y1="63.1" y2="169.30"/>
<line x1="555.64" x2="555.64" y1="63.1" y2="160.45"/>
<line x1="564.50" x2="564.50" y1="63.1" y2="151.60"/>
<line x1="573.37" x2="573.37" y1="63.1" y2="142.75"/>
<line x1="582.24" x2="582.24" y1="63.1" y2="133.90"/>
<line x1="591.10" x2="591.10" y1="63.1" y2="125.05"/>
<line x1="599.97" x2="599.97" y1="63.1" y2="116.20"/>
<line x1="608.83" x2="608.83" y1="63.1" y2="107.35"/>
<line x1="617.70" x2="617.70" y1="63.1" y2="98.50"/>
<line x1="626.56" x2="626.56" y1="63.1" y2="89.65"/>
<line x1="635.42" x2="635.42" y1="63.1" y2="80.80"/>
<line x1="644.29" x2="644.29" y1="63.1" y2="71.95"/>
</g>
<g fill="#000">
<circle cx="418.23" cy="67.53" r="1.2"/>
<circle cx="427.10" cy="67.53" r="1.2"/>
<circle cx="435.96" cy="67.53" r="1.2"/>
<circle cx="444.83" cy="67.53" r="1.2"/>
<circle cx="453.69" cy="67.53" r="1.2"/>
<circle cx="462.56" cy="67.53" r="1.2"/>
<circle cx="480.29" cy="67.53" r="1.2"/>
<circle cx="489.15" cy="67.53" r="1.2"/>
<circle cx="498.02" cy="67.53" r="1.2"/>
<circle cx="506.88" cy="67.53" r="1.2"/>
<circle cx="524.61" cy="67.53" r="1.2"/>
<circle cx="533.48" cy="67.53" r="1.2"/>
<circle cx="542.34" cy="67.53" r="1.2"/>
<circle cx="551.21" cy="67.53" r="1.2"/>
<circle cx="560.07" cy="67.53" r="1.2"/>
<circle cx="568.94" cy="67.53" r="1.2"/>
<circle cx="577.80" cy="67.53" r="1.2"/>
<circle cx="586.67" cy="67.53" r="1.2"/>
<circle cx="595.53" cy="67.53" r="1.2"/>
<circle cx="604.40" cy="67.53" r="1.2"/>
<circle cx="613.26" cy="67.53" r="1.2"/>
<circle cx="622.13" cy="67.53" r="1.2"/>
<circle cx="630.99" cy="67.53" r="1.2"/>
<circle cx="639.86" cy="67.53" r="1.2"/>
<circle cx="418.23" cy="76.38" r="1.2"/>
<circle cx="427.10" cy="76.38" r="1.2"/>
<circle cx="435.96" cy="76.38" r="1.2"/>
<circle cx="444.83" cy="76.38" r="1.2"/>
<circle cx="453.69" cy="76.38" r="1.2"/>
<circle cx="462.56" cy="76.38" r="1.2"/>
<circle cx="471.42" cy="76.38" r="1.2"/>
<circle cx="480.29" cy="76.38" r="1.2"/>
<circle cx="489.15" cy="76.38" r="1.2"/>
<circle cx="498.02" cy="76.38" r="1.2"/>
<circle cx="506.88" cy="76.38" r="1.2"/>
<circle cx="515.75" cy="76.38" r="1.2"/>
<circle cx="524.61" cy="76.38" r="1.2"/>
<circle cx="533.48" cy="76.38" r="1.2"/>
<circle cx="542.34" cy="76.38" r="1.2"/>
<circle cx="551.21" cy="76.38" r="1.2"/>
<circle cx="560.07" cy="76.38" r="1.2"/>
<circle cx="568.94" cy="76.38" r="1.2"/>
<circle cx="577.80" cy="76.38" r="1.2"/>
<circle cx="586.67" cy="76.38" r="1.2"/>
<circle cx="595.53" cy="76.38" r="1.2"/>
<circle cx="604.40" cy="76.38" r="1.2"/>
<circle cx="613.26" cy="76.38" r="1.2"/>
<circle cx="622.13" cy="76.38" r="1.2"/>
<circle cx="418.23" cy="85.22" r="1.2"/>
<circle cx="427.10" cy="85.22" r="1.2"/>
<circle cx="435.96" cy="85.22" r="1.2"/>
<circle cx="444.83" cy="85.22" r="1.2"/>
<circle cx="453.69" cy="85.22" r="1.2"/>
<circle cx="462.56" cy="85.22" r="1.2"/>
<circle cx="471.42" cy="85.22" r="1.2"/>
<circle cx="480.29" cy="85.22" r="1.2"/>
<circle cx="489.15" cy="85.22" r="1.2"/>
<circle cx="498.02" cy="85.22" r="1.2"/>
<circle cx="506.88" cy="85.22" r="1.2"/>
<circle cx="515.75" cy="85.22" r="1.2"/>
<circle cx="524.61" cy="85.22" r="1.2"/>
<circle cx="533.48" cy="85.22" r="1.2"/>
<circle cx="542.34" cy="85.22" r="1.2"/>
<circle cx="551.21" cy="85.22" r="1.2"/>
<circle cx="560.07" cy="85.22" r="1.2"/>
<circle cx="568.94" cy="85.22" r="1.2"/>
<circle cx="577.80" cy="85.22" r="1.2"/>
<circle cx="586.67" cy="85.22" r="1.2"/>
<circle cx="595.53" cy="85.22" r="1.2"/>
<circle cx="604.40" cy="85.22" r="1.2"/>
<circle cx="613.26" cy="85.22" r="1.2"/>
<circle cx="622.13" cy="85.22" r="1.2"/>
<circle cx="418.23" cy="94.08" r="1.2"/>
<circle cx="427.10" cy="94.08" r="1.2"/>
<circle cx="435.96" cy="94.08" r="1.2"/>
<circle cx="444.83" cy="94.08" r="1.2"/>
<circle cx="453.69" cy="94.08" r="1.2"/>
<circle cx="462.56" cy="94.08" r="1.2"/>
<circle cx="471.42" cy="94.08" r="1.2"/>
<circle cx="480.29" cy="94.08" r="1.2"/>
<circle cx="489.15" cy="94.08" r="1.2"/>
<circle cx="498.02" cy="94.08" r="1.2"/>
<circle cx="506.88" cy="94.08" r="1.2"/>
<circle cx="515.75" cy="94.08" r="1.2"/>
<circle cx="524.61" cy="94.08" r="1.2"/>
<circle cx="533.48" cy="94.08" r="1.2"/>
<circle cx="542.34" cy="94.08" r="1.2"/>
<circle cx="551.21" cy="94.08" r="1.2"/>
<circle cx="560.07" cy="94.08" r="1.2"/>
<circle cx="568.94" cy="94.08" r="1.2"/>
<circle cx="577.80" cy="94.08" r="1.2"/>
<circle cx="586.67" cy="94.08" r="1.2"/>
<circle cx="595.53" cy="94.08" r="1.2"/>
<circle cx="604.40" cy="94.08" r="1.2"/>
<circle cx="613.26" cy="94.08" r="1.2"/>
<circle cx="418.23" cy="102.92" r="1.2"/>
<circle cx="427.10" cy="102.92" r="1.2"/>
<circle cx="435.96" cy="102.92" r="1.2"/>
<circle cx="444.83" cy="102.92" r="1.2"/>
<circle cx="453.69" cy="102.92" r="1.2"/>
<circle cx="462.56" cy="102.92" r="1.2"/>
<circle cx="471.42" cy="102.92" r="1.2"/>
<circle cx="480.29" cy="102.92" r="1.2"/>
<circle cx="489.15" cy="102.92" r="1.2"/>
<circle cx="498.02" cy="102.92" r="1.2"/>
<circle cx="506.88" cy="102.92" r="1.2"/>
<circle cx="515.75" cy="102.92" r="1.2"/>
<circle cx="524.61" cy="102.92" r="1.2"/>
<circle cx="533.48" cy="102.92" r="1.2"/>
<circle cx="542.34" cy="102.92" r="1.2"/>
<circle cx="551.21" cy="102.92" r="1.2"/>
<circle cx="560.07" cy="102.92" r="1.2"/>
<circle cx="568.94" cy="102.92" r="1.2"/>
<circle cx="577.80" cy="102.92" r="1.2"/>
<circle cx="586.67" cy="102.92" r="1.2"/>
<circle cx="595.53" cy="102.92" r="1.2"/>
<circle cx="604.40" cy="102.92" r="1.2"/>
<circle cx="418.23" cy="111.77" r="1.2"/>
<circle cx="427.10" cy="111.77" r="1.2"/>
<circle cx="435.96" cy="111.77" r="1.2"/>
<circle cx="444.83" cy="111.77" r="1.2"/>
<circle cx="453.69" cy="111.77" r="1.2"/>
<circle cx="462.56" cy="111.77" r="1.2"/>
<circle cx="471.42" cy="111.77" r="1.2"/>
<circle cx="480.29" cy="111.77" r="1.2"/>
<circle cx="489.15" cy="111.77" r="1.2"/>
<circle cx="506.88" cy="111.77" r="1.2"/>
<circle cx="515.75" cy="111.77" r="1.2"/>
<circle cx="542.34" cy="111.77" r="1.2"/>
<circle cx="551.21" cy="111.77" r="1.2"/>
<circle cx="560.07" cy="111.77" r="1.2"/>
<circle cx="568.94" cy="111.77" r="1.2"/>
<circle cx="577.80" cy="111.77" r="1.2"/>
<circle cx="586.67" cy="111.77" r="1.2"/>
<circle cx="418.23" cy="120.62" r="1.2"/>
<circle cx="427.10" cy="120.62" r="1.2"/>
<circle cx="435.96" cy="120.62" r="1.2"/>
<circle cx="444.83" cy="120.62" r="1.2"/>
<circle cx="453.69" cy="120.62" r="1.2"/>
<circle cx="462.56" cy="120.62" r="1.2"/>
<circle cx="480.29" cy="120.62" r="1.2"/>
<circle cx="489.15" cy="120.62" r="1.2"/>
<circle cx="506.88" cy="120.62" r="1.2"/>
<circle cx="515.75" cy="120.62" r="1.2"/>
<circle cx="542.34" cy="120.62" r="1.2"/>
<circle cx="551.21" cy="120.62" r="1.2"/>
<circle cx="560.07" cy="120.62" r="1.2"/>
<circle cx="568.94" cy="120.62" r="1.2"/>
<circle cx="577.80" cy="120.62" r="1.2"/>
<circle cx="586.67" cy="120.62" r="1.2"/>
<circle cx="418.23" cy="129.47" r="1.2"/>
<circle cx="435.96" cy="129.47" r="1.2"/>
<circle cx="444.83" cy="129.47" r="1.2"/>
<circle cx="453.69" cy="129.47" r="1.2"/>
<circle cx="471.42" cy="129.47" r="1.2"/>
<circle cx="480.29" cy="129.47" r="1.2"/>
<circle cx="498.02" cy="129.47" r="1.2"/>
<circle cx="506.88" cy="129.47" r="1.2"/>
<circle cx="515.75" cy="129.47" r="1.2"/>
<circle cx="524.61" cy="129.47" r="1.2"/>
<circle cx="533.48" cy="129.47" r="1.2"/>
<circle cx="542.34" cy="129.47" r="1.2"/>
<circle cx="551.21" cy="129.47" r="1.2"/>
<circle cx="560.07" cy="129.47" r="1.2"/>
<circle cx="568.94" cy="129.47" r="1.2"/>
<circle cx="577.80" cy="129.47" r="1.2"/>
<circle cx="418.23" cy="138.33" r="1.2"/>
<circle cx="427.10" cy="138.33" r="1.2"/>
<circle cx="435.96" cy="138.33" r="1.2"/>
<circle cx="444.83" cy="138.33" r="1.2"/>
<circle cx="453.69" cy="138.33" r="1.2"/>
<circle cx="462.56" cy="138.33" r="1.2"/>
<circle cx="471.42" cy="138.33" r="1.2"/>
<circle cx="480.29" cy="138.33" r="1.2"/>
<circle cx="489.15" cy="138.33" r="1.2"/>
<circle cx="498.02" cy="138.33" r="1.2"/>
<circle cx="506.88" cy="138.33" r="1.2"/>
<circle cx="515.75" cy="138.33" r="1.2"/>
<circle cx="524.61" cy="138.33" r="1.2"/>
<circle cx="533.48" cy="138.33" r="1.2"/>
<circle cx="542.34" cy="138.33" r="1.2"/>
<circle cx="551.21" cy="138.33" r="1.2"/>
<circle cx="560.07" cy="138.33" r="1.2"/>
<circle cx="568.94" cy="138.33" r="1.2"/>
<circle cx="418.23" cy="147.18" r="1.2"/>
<circle cx="427.10" cy="147.18" r="1.2"/>
<circle cx="435.96" cy="147.18" r="1.2"/>
<circle cx="444.83" cy="147.18" r="1.2"/>
<circle cx="453.69" cy="147.18" r="1.2"/>
<circle cx="462.56" cy="147.18" r="1.2"/>
<circle cx="471.42" cy="147.18" r="1.2"/>
<circle cx="480.29" cy="147.18" r="1.2"/>
<circle cx="489.15" cy="147.18" r="1.2"/>
<circle cx="498.02" cy="147.18" r="1.2"/>
<circle cx="506.88" cy="147.18" r="1.2"/>
<circle cx="515.75" cy="147.18" r="1.2"/>
<circle cx="524.61" cy="147.18" r="1.2"/>
<circle cx="533.48" cy="147.18" r="1.2"/>
<circle cx="542.34" cy="147.18" r="1.2"/>
<circle cx="551.21" cy="147.18" r="1.2"/>
<circle cx="418.23" cy="156.03" r="1.2"/>
<circle cx="427.10" cy="156.03" r="1.2"/>
<circle cx="435.96" cy="156.03" r="1.2"/>
<circle cx="444.83" cy="156.03" r="1.2"/>
<circle cx="453.69" cy="156.03" r="1.2"/>
<circle cx="462.56" cy="156.03" r="1.2"/>
<circle cx="471.42" cy="156.03" r="1.2"/>
<circle cx="480.29" cy="156.03" r="1.2"/>
<circle cx="489.15" cy="156.03" r="1.2"/>
<circle cx="498.02" cy="156.03" r="1.2"/>
<circle cx="506.88" cy="156.03" r="1.2"/>
<circle cx="515.75" cy="156.03" r="1.2"/>
<circle cx="524.61" cy="156.03" r="1.2"/>
<circle cx="533.48" cy="156.03" r="1.2"/>
<circle cx="542.34" cy="156.03" r="1.2"/>
<circle cx="551.21" cy="156.03" r="1.2"/>
<circle cx="418.23" cy="164.88" r="1.2"/>
<circle cx="427.10" cy="164.88" r="1.2"/>
<circle cx="435.96" cy="164.88" r="1.2"/>
<circle cx="444.83" cy="164.88" r="1.2"/>
<circle cx="453.69" cy="164.88" r="1.2"/>
<circle cx="462.56" cy="164.88" r="1.2"/>
<circle cx="471.42" cy="164.88" r="1.2"/>
<circle cx="480.29" cy="164.88" r="1.2"/>
<circle cx="489.15" cy="164.88" r="1.2"/>
<circle cx="498.02" cy="164.88" r="1.2"/>
<circle cx="506.88" cy="164.88" r="1.2"/>
<circle cx="515.75" cy="164.88" r="1.2"/>
<circle cx="524.61" cy="164.88" r="1.2"/>
<circle cx="533.48" cy="164.88" r="1.2"/>
<circle cx="418.23" cy="173.72" r="1.2"/>
<circle cx="427.10" cy="173.72" r="1.2"/>
<circle cx="435.96" cy="173.72" r="1.2"/>
<circle cx="444.83" cy="173.72" r="1.2"/>
<circle cx="453.69" cy="173.72" r="1.2"/>
<circle cx="462.56" cy="173.72" r="1.2"/>
<circle cx="471.42" cy="173.72" r="1.2"/>
<circle cx="480.29" cy="173.72" r="1.2"/>
<circle cx="489.15" cy="173.72" r="1.2"/>
<circle cx="498.02" cy="173.72" r="1.2"/>
<circle cx="506.88" cy="173.72" r="1.2"/>
<circle cx="515.75" cy="173.72" r="1.2"/>
<circle cx="524.61" cy="173.72" r="1.2"/>
<circle cx="533.48" cy="173.72" r="1.2"/>
<circle cx="418.23" cy="182.58" r="1.2"/>
<circle cx="427.10" cy="182.58" r="1.2"/>
<circle cx="435.96" cy="182.58" r="1.2"/>
<circle cx="444.83" cy="182.58" r="1.2"/>
<circle cx="453.69" cy="182.58" r="1.2"/>
<circle cx="462.56" cy="182.58" r="1.2"/>
<circle cx="471.42" cy="182.58" r="1.2"/>
<circle cx="480.29" cy="182.58" r="1.2"/>
<circle cx="489.15" cy="182.58" r="1.2"/>
<circle cx="506.88" cy="182.58" r="1.2"/>
<circle cx="515.75" cy="182.58" r="1.2"/>
<circle cx="418.23" cy="191.43" r="1.2"/>
<circle cx="427.10" cy="191.43" r="1.2"/>
<circle cx="435.96" cy="191.43" r="1.2"/>
<circle cx="444.83" cy="191.43" r="1.2"/>
<circle cx="453.69" cy="191.43" r="1.2"/>
<circle cx="462.56" cy="191.43" r="1.2"/>
<circle cx="480.29" cy="191.43" r="1.2"/>
<circle cx="489.15" cy="191.43" r="1.2"/>
<circle cx="506.88" cy="191.43" r="1.2"/>
<circle cx="515.75" cy="191.43" r="1.2"/>
<circle cx="418.23" cy="200.28" r="1.2"/>
<circle cx="427.10" cy="200.28" r="1.2"/>
<circle cx="435.96" cy="200.28" r="1.2"/>
<circle cx="444.83" cy="200.28" r="1.2"/>
<circle cx="453.69" cy="200.28" r="1.2"/>
<circle cx="462.56" cy="200.28" r="1.2"/>
<circle cx="471.42" cy="200.28" r="1.2"/>
<circle cx="480.29" cy="200.28" r="1.2"/>
<circle cx="489.15" cy="200.28" r="1.2"/>
<circle cx="498.02" cy="200.28" r="1.2"/>
<circle cx="418.23" cy="209.12" r="1.2"/>
<circle cx="435.96" cy="209.12" r="1.2"/>
<circle cx="444.83" cy="209.12" r="1.2"/>
<circle cx="453.69" cy="209.12" r="1.2"/>
<circle cx="471.42" cy="209.12" r="1.2"/>
<circle cx="480.29" cy="209.12" r="1.2"/>
<circle cx="489.15" cy="209.12" r="1.2"/>
<circle cx="498.02" cy="209.12" r="1.2"/>
<circle cx="418.23" cy="217.97" r="1.2"/>
<circle cx="427.10" cy="217.97" r="1.2"/>
<circle cx="435.96" cy="217.97" r="1.2"/>
<circle cx="444.83" cy="217.97" r="1.2"/>
<circle cx="453.69" cy="217.97" r="1.2"/>
<circle cx="462.56" cy="217.97" r="1.2"/>
<circle cx="471.42" cy="217.97" r="1.2"/>
<circle cx="480.29" cy="217.97" r="1.2"/>
<circle cx="489.15" cy="217.97" r="1.2"/>
<circle cx="435.96" cy="226.82" r="1.2"/>
<circle cx="444.83" cy="226.82" r="1.2"/>
<circle cx="453.69" cy="226.82" r="1.2"/>
<circle cx="462.56" cy="226.82" r="1.2"/>
<circle cx="471.42" cy="226.82" r="1.2"/>
<circle cx="480.29" cy="226.82" r="1.2"/>
<circle cx="418.23" cy="235.68" r="1.2"/>
<circle cx="427.10" cy="235.68" r="1.2"/>
<circle cx="435.96" cy="235.68" r="1.2"/>
<circle cx="444.83" cy="235.68" r="1.2"/>
<circle cx="453.69" cy="235.68" r="1.2"/>
<circle cx="462.56" cy="235.68" r="1.2"/>
<circle cx="471.42" cy="235.68" r="1.2"/>
<circle cx="418.23" cy="244.53" r="1.2"/>
<circle cx="427.10" cy="244.53" r="1.2"/>
<circle cx="435.96" cy="244.53" r="1.2"/>
<circle cx="444.83" cy="244.53" r="1.2"/>
<circle cx="453.69" cy="244.53" r="1.2"/>
<circle cx="462.56" cy="244.53" r="1.2"/>
<circle cx="418.23" cy="253.38" r="1.2"/>
<circle cx="435.96" cy="253.38" r="1.2"/>
<circle cx="444.83" cy="253.38" r="1.2"/>
<circle cx="453.69" cy="253.38" r="1.2"/>
<circle cx="418.23" cy="262.23" r="1.2"/>
<circle cx="427.10" cy="262.23" r="1.2"/>
<circle cx="435.96" cy="262.23" r="1.2"/>
<circle cx="444.83" cy="262.23" r="1.2"/>
<circle cx="418.23" cy="271.07" r="1.2"/>
<circle cx="427.10" cy="271.07" r="1.2"/>
<circle cx="418.23" cy="279.93" r="1.2"/>
<circle cx="427.10" cy="279.93" r="1.2"/>
</g>
<g font-family='"Liberation Sans", Arial, sans-serif' font-size="6.5" fill="#111" stroke="#111" stroke-width="0.12" text-anchor="middle">
<text x="401.5" y="69.93">MB</text>
<text x="401.5" y="78.78">VC−R</text>
<text x="401.5" y="87.62">VC−L</text>
<text x="401.5" y="96.48">TH−R</text>
<text x="401.5" y="105.33">TH−L</text>
<text x="401.5" y="114.17">SS−R</text>
<text x="401.5" y="123.02">SS−L</text>
<text x="401.5" y="131.88">ORB−R</text>
<text x="401.5" y="140.73">ORB−L</text>
<text x="401.5" y="149.58">OLF−R</text>
<text x="401.5" y="158.43">OLF−L</text>
<text x="401.5" y="167.28">SM−R</text>
<text x="401.5" y="176.12">SM−L</text>
<text x="401.5" y="184.98">HY−R</text>
<text x="401.5" y="193.83">HY−L</text>
<text x="401.5" y="202.68">HIP−R</text>
<text x="401.5" y="211.53">HIP−L</text>
<text x="401.5" y="220.38">HB</text>
<text x="401.5" y="229.22">CB</text>
<text x="401.5" y="238.08">BG−VR</text>
<text x="401.5" y="246.93">BG−VL</text>
<text x="401.5" y="255.78">BG−DR</text>
<text x="401.5" y="264.62">BG−DL</text>
<text x="401.5" y="273.47">ACT−R</text>
<text x="401.5" y="282.32">ACT−L</text>
<text x="401.5" y="291.18">ACL−R</text>
<text x="401.5" y="300.02">ACL−L</text>
</g>
<g font-family='"Liberation Sans", Arial, sans-serif' font-size="6.6" fill="#111" stroke="#111" stroke-width="0.12" text-anchor="end">
<text transform="translate(422.13,305.25) rotate(-60)">ACL−L</text>
<text transform="translate(431.00,305.25) rotate(-60)">ACL−R</text>
<text transform="translate(439.86,305.25) rotate(-60)">ACT−L</text>
<text transform="translate(448.73,305.25) rotate(-60)">ACT−R</text>
<text transform="translate(457.59,305.25) rotate(-60)">BG−DL</text>
<text transform="translate(466.46,305.25) rotate(-60)">BG−DR</text>
<text transform="translate(475.32,305.25) rotate(-60)">BG−VL</text>
<text transform="translate(484.19,305.25) rotate(-60)">BG−VR</text>
<text transform="translate(493.05,305.25) rotate(-60)">CB</text>
<text transform="translate(501.92,305.25) rotate(-60)">HB</text>
<text transform="translate(510.78,305.25) rotate(-60)">HIP−L</text>
<text transform="translate(519.65,305.25) rotate(-60)">HIP−R</text>
<text transform="translate(528.51,305.25) rotate(-60)">HY−L</text>
<text transform="translate(537.38,305.25) rotate(-60)">HY−R</text>
<text transform="translate(546.24,305.25) rotate(-60)">SM−L</text>
<text transform="translate(555.11,305.25) rotate(-60)">SM−R</text>
<text transform="translate(563.97,305.25) rotate(-60)">OLF−L</text>
<text transform="translate(572.84,305.25) rotate(-60)">OLF−R</text>
<text transform="translate(581.70,305.25) rotate(-60)">ORB−L</text>
<text transform="translate(590.57,305.25) rotate(-60)">ORB−R</text>
<text transform="translate(599.43,305.25) rotate(-60)">SS−L</text>
<text transform="translate(608.30,305.25) rotate(-60)">SS−R</text>
<text transform="translate(617.16,305.25) rotate(-60)">TH−L</text>
<text transform="translate(626.03,305.25) rotate(-60)">TH−R</text>
<text transform="translate(634.89,305.25) rotate(-60)">VC−L</text>
<text transform="translate(643.76,305.25) rotate(-60)">VC−R</text>
<text transform="translate(652.62,305.25) rotate(-60)">MB</text>
</g>
<text x="582.4" y="202.7" font-family='"Liberation Serif", "Times New Roman", serif' font-weight="bold" font-size="21.4" fill="#000">Flea-</text>
<text x="657.1" y="158.9" font-family='"Liberation Sans", Arial, sans-serif' font-size="6.5" fill="#111">Corr</text>
<rect x="657.1" y="162.8" width="10" height="49.1" fill="url(#corrgrad)"/>
<g font-family='"Liberation Sans", Arial, sans-serif' font-size="5.2" fill="#111">
<text x="670.1" y="164.6">1.0</text>
<text x="670.1" y="176.9">0.5</text>
<text x="670.1" y="189.1">0.0</text>
<text x="670.1" y="201.4">−0.5</text>
<text x="670.1" y="213.7">−1.0</text>
</g>
<line x1="657.1" x2="659" y1="175.1" y2="175.1" stroke="#fff" stroke-width="0.3"/><line x1="665.2" x2="667.1" y1="175.1" y2="175.1" stroke="#fff" stroke-width="0.3"/>
<line x1="657.1" x2="659" y1="187.3" y2="187.3" stroke="#fff" stroke-width="0.3"/><line x1="665.2" x2="667.1" y1="187.3" y2="187.3" stroke="#fff" stroke-width="0.3"/>
<line x1="657.1" x2="659" y1="199.6" y2="199.6" stroke="#fff" stroke-width="0.3"/><line x1="665.2" x2="667.1" y1="199.6" y2="199.6" stroke="#fff" stroke-width="0.3"/>
<g shape-rendering="crispEdges">
<rect x="413.80" y="368.40" width="8.92" height="8.89" fill="#f8c4c8"/>
<rect x="422.67" y="368.40" width="8.92" height="8.89" fill="#f8c4c8"/>
<rect x="431.53" y="368.40" width="8.92" height="8.89" fill="#7693d1"/>
<rect x="440.39" y="368.40" width="8.92" height="8.89" fill="#7693d1"/>
<rect x="449.26" y="368.40" width="8.92" height="8.89" fill="#f3949b"/>
<rect x="458.12" y="368.40" width="8.92" height="8.89" fill="#f49fa5"/>
<rect x="466.99" y="368.40" width="8.92" height="8.89" fill="#f7b7bb"/>
<rect x="475.86" y="368.40" width="8.92" height="8.89" fill="#f3949b"/>
<rect x="484.72" y="368.40" width="8.92" height="8.89" fill="#f49fa5"/>
<rect x="493.59" y="368.40" width="8.92" height="8.89" fill="#f49fa5"/>
<rect x="502.45" y="368.40" width="8.92" height="8.89" fill="#f5abb0"/>
<rect x="511.31" y="368.40" width="8.92" height="8.89" fill="#f49fa5"/>
<rect x="520.18" y="368.40" width="8.92" height="8.89" fill="#fce4e5"/>
<rect x="529.05" y="368.40" width="8.92" height="8.89" fill="#fce4e5"/>
<rect x="537.91" y="368.40" width="8.92" height="8.89" fill="#829dd5"/>
<rect x="546.77" y="368.40" width="8.92" height="8.89" fill="#9cb1de"/>
<rect x="555.64" y="368.40" width="8.92" height="8.89" fill="#9cb1de"/>
<rect x="564.50" y="368.40" width="8.92" height="8.89" fill="#9cb1de"/>
<rect x="573.37" y="368.40" width="8.92" height="8.89" fill="#9cb1de"/>
<rect x="582.24" y="368.40" width="8.92" height="8.89" fill="#f8c4c8"/>
<rect x="591.10" y="368.40" width="8.92" height="8.89" fill="#829dd5"/>
<rect x="599.97" y="368.40" width="8.92" height="8.89" fill="#bac9e8"/>
<rect x="608.83" y="368.40" width="8.92" height="8.89" fill="#f49fa5"/>
<rect x="617.70" y="368.40" width="8.92" height="8.89" fill="#f8c4c8"/>
<rect x="626.56" y="368.40" width="8.92" height="8.89" fill="#8fa7d9"/>
<rect x="635.42" y="368.40" width="8.92" height="8.89" fill="#8fa7d9"/>
<rect x="644.29" y="368.40" width="8.92" height="8.89" fill="#f07e86"/>
<rect x="413.80" y="377.24" width="8.92" height="8.89" fill="#fad3d5"/>
<rect x="422.67" y="377.24" width="8.92" height="8.89" fill="#fad3d5"/>
<rect x="431.53" y="377.24" width="8.92" height="8.89" fill="#f18a91"/>
<rect x="440.39" y="377.24" width="8.92" height="8.89" fill="#f3949b"/>
<rect x="449.26" y="377.24" width="8.92" height="8.89" fill="#7693d1"/>
<rect x="458.12" y="377.24" width="8.92" height="8.89" fill="#7693d1"/>
<rect x="466.99" y="377.24" width="8.92" height="8.89" fill="#7693d1"/>
<rect x="475.86" y="377.24" width="8.92" height="8.89" fill="#7693d1"/>
<rect x="484.72" y="377.24" width="8.92" height="8.89" fill="#7693d1"/>
<rect x="493.59" y="377.24" width="8.92" height="8.89" fill="#7693d1"/>
<rect x="502.45" y="377.24" width="8.92" height="8.89" fill="#7693d1"/>
<rect x="511.31" y="377.24" width="8.92" height="8.89" fill="#7693d1"/>
<rect x="520.18" y="377.24" width="8.92" height="8.89" fill="#829dd5"/>
<rect x="529.05" y="377.24" width="8.92" height="8.89" fill="#8fa7d9"/>
<rect x="537.91" y="377.24" width="8.92" height="8.89" fill="#f18a91"/>
<rect x="546.77" y="377.24" width="8.92" height="8.89" fill="#f18a91"/>
<rect x="555.64" y="377.24" width="8.92" height="8.89" fill="#f18a91"/>
<rect x="564.50" y="377.24" width="8.92" height="8.89" fill="#f18a91"/>
<rect x="573.37" y="377.24" width="8.92" height="8.89" fill="#f18a91"/>
<rect x="582.24" y="377.24" width="8.92" height="8.89" fill="#fad3d5"/>
<rect x="591.10" y="377.24" width="8.92" height="8.89" fill="#f18a91"/>
<rect x="599.97" y="377.24" width="8.92" height="8.89" fill="#f3949b"/>
<rect x="608.83" y="377.24" width="8.92" height="8.89" fill="#7693d1"/>
<rect x="617.70" y="377.24" width="8.92" height="8.89" fill="#7693d1"/>
<rect x="626.56" y="377.24" width="8.92" height="8.89" fill="#f08088"/>
<rect x="635.42" y="377.24" width="8.92" height="8.89" fill="#f07e86"/>
<rect x="413.80" y="386.08" width="8.92" height="8.89" fill="#fce4e5"/>
<rect x="422.67" y="386.08" width="8.92" height="8.89" fill="#fad3d5"/>
<rect x="431.53" y="386.08" width="8.92" height="8.89" fill="#f18a91"/>
<rect x="440.39" y="386.08" width="8.92" height="8.89" fill="#f3949b"/>
<rect x="449.26" y="386.08" width="8.92" height="8.89" fill="#7693d1"/>
<rect x="458.12" y="386.08" width="8.92" height="8.89" fill="#7693d1"/>
<rect x="466.99" y="386.08" width="8.92" height="8.89" fill="#7693d1"/>
<rect x="475.86" y="386.08" width="8.92" height="8.89" fill="#7693d1"/>
<rect x="484.72" y="386.08" width="8.92" height="8.89" fill="#7693d1"/>
<rect x="493.59" y="386.08" width="8.92" height="8.89" fill="#7693d1"/>
<rect x="502.45" y="386.08" width="8.92" height="8.89" fill="#7693d1"/>
<rect x="511.31" y="386.08" width="8.92" height="8.89" fill="#7693d1"/>
<rect x="520.18" y="386.08" width="8.92" height="8.89" fill="#829dd5"/>
<rect x="529.05" y="386.08" width="8.92" height="8.89" fill="#8fa7d9"/>
<rect x="537.91" y="386.08" width="8.92" height="8.89" fill="#f18a91"/>
<rect x="546.77" y="386.08" width="8.92" height="8.89" fill="#f18a91"/>
<rect x="555.64" y="386.08" width="8.92" height="8.89" fill="#f18a91"/>
<rect x="564.50" y="386.08" width="8.92" height="8.89" fill="#f18a91"/>
<rect x="573.37" y="386.08" width="8.92" height="8.89" fill="#f18a91"/>
<rect x="582.24" y="386.08" width="8.92" height="8.89" fill="#fce4e5"/>
<rect x="591.10" y="386.08" width="8.92" height="8.89" fill="#f18a91"/>
<rect x="599.97" y="386.08" width="8.92" height="8.89" fill="#f3949b"/>
<rect x="608.83" y="386.08" width="8.92" height="8.89" fill="#7693d1"/>
<rect x="617.70" y="386.08" width="8.92" height="8.89" fill="#7693d1"/>
<rect x="626.56" y="386.08" width="8.92" height="8.89" fill="#f07e86"/>
<rect x="413.80" y="394.92" width="8.92" height="8.89" fill="#829dd5"/>
<rect x="422.67" y="394.92" width="8.92" height="8.89" fill="#8fa7d9"/>
<rect x="431.53" y="394.92" width="8.92" height="8.89" fill="#9cb1de"/>
<rect x="440.39" y="394.92" width="8.92" height="8.89" fill="#abbde3"/>
<rect x="449.26" y="394.92" width="8.92" height="8.89" fill="#f49fa5"/>
<rect x="458.12" y="394.92" width="8.92" height="8.89" fill="#f49fa5"/>
<rect x="466.99" y="394.92" width="8.92" height="8.89" fill="#f3949b"/>
<rect x="475.86" y="394.92" width="8.92" height="8.89" fill="#f7b7bb"/>
<rect x="484.72" y="394.92" width="8.92" height="8.89" fill="#f49fa5"/>
<rect x="493.59" y="394.92" width="8.92" height="8.89" fill="#f49fa5"/>
<rect x="502.45" y="394.92" width="8.92" height="8.89" fill="#f3949b"/>
<rect x="511.31" y="394.92" width="8.92" height="8.89" fill="#f49fa5"/>
<rect x="520.18" y="394.92" width="8.92" height="8.89" fill="#f3949b"/>
<rect x="529.05" y="394.92" width="8.92" height="8.89" fill="#f18a91"/>
<rect x="537.91" y="394.92" width="8.92" height="8.89" fill="#829dd5"/>
<rect x="546.77" y="394.92" width="8.92" height="8.89" fill="#7693d1"/>
<rect x="555.64" y="394.92" width="8.92" height="8.89" fill="#7693d1"/>
<rect x="564.50" y="394.92" width="8.92" height="8.89" fill="#7693d1"/>
<rect x="573.37" y="394.92" width="8.92" height="8.89" fill="#7693d1"/>
<rect x="582.24" y="394.92" width="8.92" height="8.89" fill="#8fa7d9"/>
<rect x="591.10" y="394.92" width="8.92" height="8.89" fill="#829dd5"/>
<rect x="599.97" y="394.92" width="8.92" height="8.89" fill="#829dd5"/>
<rect x="608.83" y="394.92" width="8.92" height="8.89" fill="#f3949b"/>
<rect x="617.70" y="394.92" width="8.92" height="8.89" fill="#f07e86"/>
<rect x="413.80" y="403.76" width="8.92" height="8.89" fill="#cbd6ed"/>
<rect x="422.67" y="403.76" width="8.92" height="8.89" fill="#bac9e8"/>
<rect x="431.53" y="403.76" width="8.92" height="8.89" fill="#7693d1"/>
<rect x="440.39" y="403.76" width="8.92" height="8.89" fill="#829dd5"/>
<rect x="449.26" y="403.76" width="8.92" height="8.89" fill="#f3949b"/>
<rect x="458.12" y="403.76" width="8.92" height="8.89" fill="#f3949b"/>
<rect x="466.99" y="403.76" width="8.92" height="8.89" fill="#f3949b"/>
<rect x="475.86" y="403.76" width="8.92" height="8.89" fill="#f3949b"/>
<rect x="484.72" y="403.76" width="8.92" height="8.89" fill="#f3949b"/>
<rect x="493.59" y="403.76" width="8.92" height="8.89" fill="#f3949b"/>
<rect x="502.45" y="403.76" width="8.92" height="8.89" fill="#f18a91"/>
<rect x="511.31" y="403.76" width="8.92" height="8.89" fill="#f3949b"/>
<rect x="520.18" y="403.76" width="8.92" height="8.89" fill="#f49fa5"/>
<rect x="529.05" y="403.76" width="8.92" height="8.89" fill="#f49fa5"/>
<rect x="537.91" y="403.76" width="8.92" height="8.89" fill="#7693d1"/>
<rect x="546.77" y="403.76" width="8.92" height="8.89" fill="#7693d1"/>
<rect x="555.64" y="403.76" width="8.92" height="8.89" fill="#7693d1"/>
<rect x="564.50" y="403.76" width="8.92" height="8.89" fill="#7693d1"/>
<rect x="573.37" y="403.76" width="8.92" height="8.89" fill="#7693d1"/>
<rect x="582.24" y="403.76" width="8.92" height="8.89" fill="#cbd6ed"/>
<rect x="591.10" y="403.76" width="8.92" height="8.89" fill="#7693d1"/>
<rect x="599.97" y="403.76" width="8.92" height="8.89" fill="#829dd5"/>
<rect x="608.83" y="403.76" width="8.92" height="8.89" fill="#f07e86"/>
<rect x="413.80" y="412.60" width="8.92" height="8.89" fill="#f3949b"/>
<rect x="422.67" y="412.60" width="8.92" height="8.89" fill="#f3949b"/>
<rect x="431.53" y="412.60" width="8.92" height="8.89" fill="#f5abb0"/>
<rect x="440.39" y="412.60" width="8.92" height="8.89" fill="#f8c4c8"/>
<rect x="449.26" y="412.60" width="8.92" height="8.89" fill="#9cb1de"/>
<rect x="458.12" y="412.60" width="8.92" height="8.89" fill="#9cb1de"/>
<rect x="466.99" y="412.60" width="8.92" height="8.89" fill="#829dd5"/>
<rect x="475.86" y="412.60" width="8.92" height="8.89" fill="#abbde3"/>
<rect x="484.72" y="412.60" width="8.92" height="8.89" fill="#9cb1de"/>
<rect x="493.59" y="412.60" width="8.92" height="8.89" fill="#9cb1de"/>
<rect x="502.45" y="412.60" width="8.92" height="8.89" fill="#9cb1de"/>
<rect x="511.31" y="412.60" width="8.92" height="8.89" fill="#9cb1de"/>
<rect x="520.18" y="412.60" width="8.92" height="8.89" fill="#829dd5"/>
<rect x="529.05" y="412.60" width="8.92" height="8.89" fill="#7693d1"/>
<rect x="537.91" y="412.60" width="8.92" height="8.89" fill="#f49fa5"/>
<rect x="546.77" y="412.60" width="8.92" height="8.89" fill="#f3949b"/>
<rect x="555.64" y="412.60" width="8.92" height="8.89" fill="#f3949b"/>
<rect x="564.50" y="412.60" width="8.92" height="8.89" fill="#f3949b"/>
<rect x="573.37" y="412.60" width="8.92" height="8.89" fill="#f3949b"/>
<rect x="582.24" y="412.60" width="8.92" height="8.89" fill="#f49fa5"/>
<rect x="591.10" y="412.60" width="8.92" height="8.89" fill="#f49fa5"/>
<rect x="599.97" y="412.60" width="8.92" height="8.89" fill="#f07e86"/>
<rect x="413.80" y="421.44" width="8.92" height="8.89" fill="#fce4e5"/>
<rect x="422.67" y="421.44" width="8.92" height="8.89" fill="#fad3d5"/>
<rect x="431.53" y="421.44" width="8.92" height="8.89" fill="#f18a91"/>
<rect x="440.39" y="421.44" width="8.92" height="8.89" fill="#f3949b"/>
<rect x="449.26" y="421.44" width="8.92" height="8.89" fill="#7693d1"/>
<rect x="458.12" y="421.44" width="8.92" height="8.89" fill="#7693d1"/>
<rect x="466.99" y="421.44" width="8.92" height="8.89" fill="#7693d1"/>
<rect x="475.86" y="421.44" width="8.92" height="8.89" fill="#7693d1"/>
<rect x="484.72" y="421.44" width="8.92" height="8.89" fill="#7693d1"/>
<rect x="493.59" y="421.44" width="8.92" height="8.89" fill="#7693d1"/>
<rect x="502.45" y="421.44" width="8.92" height="8.89" fill="#7693d1"/>
<rect x="511.31" y="421.44" width="8.92" height="8.89" fill="#7693d1"/>
<rect x="520.18" y="421.44" width="8.92" height="8.89" fill="#829dd5"/>
<rect x="529.05" y="421.44" width="8.92" height="8.89" fill="#8fa7d9"/>
<rect x="537.91" y="421.44" width="8.92" height="8.89" fill="#f18a91"/>
<rect x="546.77" y="421.44" width="8.92" height="8.89" fill="#f18a91"/>
<rect x="555.64" y="421.44" width="8.92" height="8.89" fill="#f18a91"/>
<rect x="564.50" y="421.44" width="8.92" height="8.89" fill="#f18a91"/>
<rect x="573.37" y="421.44" width="8.92" height="8.89" fill="#f18a91"/>
<rect x="582.24" y="421.44" width="8.92" height="8.89" fill="#fad3d5"/>
<rect x="591.10" y="421.44" width="8.92" height="8.89" fill="#f07e86"/>
<rect x="413.80" y="430.28" width="8.92" height="8.89" fill="#f18a91"/>
<rect x="422.67" y="430.28" width="8.92" height="8.89" fill="#f3949b"/>
<rect x="431.53" y="430.28" width="8.92" height="8.89" fill="#fce4e5"/>
<rect x="440.39" y="430.28" width="8.92" height="8.89" fill="#cbd6ed"/>
<rect x="449.26" y="430.28" width="8.92" height="8.89" fill="#fce4e5"/>
<rect x="458.12" y="430.28" width="8.92" height="8.89" fill="#fce4e5"/>
<rect x="466.99" y="430.28" width="8.92" height="8.89" fill="#bac9e8"/>
<rect x="475.86" y="430.28" width="8.92" height="8.89" fill="#f8c4c8"/>
<rect x="484.72" y="430.28" width="8.92" height="8.89" fill="#ffffff"/>
<rect x="493.59" y="430.28" width="8.92" height="8.89" fill="#ffffff"/>
<rect x="502.45" y="430.28" width="8.92" height="8.89" fill="#dfe6f4"/>
<rect x="511.31" y="430.28" width="8.92" height="8.89" fill="#dfe6f4"/>
<rect x="520.18" y="430.28" width="8.92" height="8.89" fill="#8fa7d9"/>
<rect x="529.05" y="430.28" width="8.92" height="8.89" fill="#829dd5"/>
<rect x="537.91" y="430.28" width="8.92" height="8.89" fill="#ffffff"/>
<rect x="546.77" y="430.28" width="8.92" height="8.89" fill="#f7b7bb"/>
<rect x="555.64" y="430.28" width="8.92" height="8.89" fill="#f7b7bb"/>
<rect x="564.50" y="430.28" width="8.92" height="8.89" fill="#f7b7bb"/>
<rect x="573.37" y="430.28" width="8.92" height="8.89" fill="#f7b7bb"/>
<rect x="582.24" y="430.28" width="8.92" height="8.89" fill="#f07e86"/>
<rect x="413.80" y="439.12" width="8.92" height="8.89" fill="#f7b7bb"/>
<rect x="422.67" y="439.12" width="8.92" height="8.89" fill="#f5abb0"/>
<rect x="431.53" y="439.12" width="8.92" height="8.89" fill="#f18a91"/>
<rect x="440.39" y="439.12" width="8.92" height="8.89" fill="#f3949b"/>
<rect x="449.26" y="439.12" width="8.92" height="8.89" fill="#7693d1"/>
<rect x="458.12" y="439.12" width="8.92" height="8.89" fill="#7693d1"/>
<rect x="466.99" y="439.12" width="8.92" height="8.89" fill="#7693d1"/>
<rect x="475.86" y="439.12" width="8.92" height="8.89" fill="#7693d1"/>
<rect x="484.72" y="439.12" width="8.92" height="8.89" fill="#7693d1"/>
<rect x="493.59" y="439.12" width="8.92" height="8.89" fill="#7693d1"/>
<rect x="502.45" y="439.12" width="8.92" height="8.89" fill="#7693d1"/>
<rect x="511.31" y="439.12" width="8.92" height="8.89" fill="#7693d1"/>
<rect x="520.18" y="439.12" width="8.92" height="8.89" fill="#7693d1"/>
<rect x="529.05" y="439.12" width="8.92" height="8.89" fill="#829dd5"/>
<rect x="537.91" y="439.12" width="8.92" height="8.89" fill="#f18a91"/>
<rect x="546.77" y="439.12" width="8.92" height="8.89" fill="#f08088"/>
<rect x="555.64" y="439.12" width="8.92" height="8.89" fill="#f08088"/>
<rect x="564.50" y="439.12" width="8.92" height="8.89" fill="#f08088"/>
<rect x="573.37" y="439.12" width="8.92" height="8.89" fill="#f07e86"/>
<rect x="413.80" y="447.96" width="8.92" height="8.89" fill="#f7b7bb"/>
<rect x="422.67" y="447.96" width="8.92" height="8.89" fill="#f5abb0"/>
<rect x="431.53" y="447.96" width="8.92" height="8.89" fill="#f18a91"/>
<rect x="440.39" y="447.96" width="8.92" height="8.89" fill="#f3949b"/>
<rect x="449.26" y="447.96" width="8.92" height="8.89" fill="#7693d1"/>
<rect x="458.12" y="447.96" width="8.92" height="8.89" fill="#7693d1"/>
<rect x="466.99" y="447.96" width="8.92" height="8.89" fill="#7693d1"/>
<rect x="475.86" y="447.96" width="8.92" height="8.89" fill="#7693d1"/>
<rect x="484.72" y="447.96" width="8.92" height="8.89" fill="#7693d1"/>
<rect x="493.59" y="447.96" width="8.92" height="8.89" fill="#7693d1"/>
<rect x="502.45" y="447.96" width="8.92" height="8.89" fill="#7693d1"/>
<rect x="511.31" y="447.96" width="8.92" height="8.89" fill="#7693d1"/>
<rect x="520.18" y="447.96" width="8.92" height="8.89" fill="#7693d1"/>
<rect x="529.05" y="447.96" width="8.92" height="8.89" fill="#829dd5"/>
<rect x="537.91" y="447.96" width="8.92" height="8.89" fill="#f18a91"/>
<rect x="546.77" y="447.96" width="8.92" height="8.89" fill="#f08088"/>
<rect x="555.64" y="447.96" width="8.92" height="8.89" fill="#f08088"/>
<rect x="564.50" y="447.96" width="8.92" height="8.89" fill="#f07e86"/>
<rect x="413.80" y="456.80" width="8.92" height="8.89" fill="#f5abb0"/>
<rect x="422.67" y="456.80" width="8.92" height="8.89" fill="#f5abb0"/>
<rect x="431.53" y="456.80" width="8.92" height="8.89" fill="#f3949b"/>
<rect x="440.39" y="456.80" width="8.92" height="8.89" fill="#f3949b"/>
<rect x="449.26" y="456.80" width="8.92" height="8.89" fill="#7693d1"/>
<rect x="458.12" y="456.80" width="8.92" height="8.89" fill="#7693d1"/>
<rect x="466.99" y="456.80" width="8.92" height="8.89" fill="#7693d1"/>
<rect x="475.86" y="456.80" width="8.92" height="8.89" fill="#7693d1"/>
<rect x="484.72" y="456.80" width="8.92" height="8.89" fill="#7693d1"/>
<rect x="493.59" y="456.80" width="8.92" height="8.89" fill="#7693d1"/>
<rect x="502.45" y="456.80" width="8.92" height="8.89" fill="#7693d1"/>
<rect x="511.31" y="456.80" width="8.92" height="8.89" fill="#7693d1"/>
<rect x="520.18" y="456.80" width="8.92" height="8.89" fill="#7693d1"/>
<rect x="529.05" y="456.80" width="8.92" height="8.89" fill="#7693d1"/>
<rect x="537.91" y="456.80" width="8.92" height="8.89" fill="#f18a91"/>
<rect x="546.77" y="456.80" width="8.92" height="8.89" fill="#f08088"/>
<rect x="555.64" y="456.80" width="8.92" height="8.89" fill="#f07e86"/>
<rect x="413.80" y="465.64" width="8.92" height="8.89" fill="#f5abb0"/>
<rect x="422.67" y="465.64" width="8.92" height="8.89" fill="#f5abb0"/>
<rect x="431.53" y="465.64" width="8.92" height="8.89" fill="#f3949b"/>
<rect x="440.39" y="465.64" width="8.92" height="8.89" fill="#f3949b"/>
<rect x="449.26" y="465.64" width="8.92" height="8.89" fill="#7693d1"/>
<rect x="458.12" y="465.64" width="8.92" height="8.89" fill="#7693d1"/>
<rect x="466.99" y="465.64" width="8.92" height="8.89" fill="#7693d1"/>
<rect x="475.86" y="465.64" width="8.92" height="8.89" fill="#7693d1"/>
<rect x="484.72" y="465.64" width="8.92" height="8.89" fill="#7693d1"/>
<rect x="493.59" y="465.64" width="8.92" height="8.89" fill="#7693d1"/>
<rect x="502.45" y="465.64" width="8.92" height="8.89" fill="#7693d1"/>
<rect x="511.31" y="465.64" width="8.92" height="8.89" fill="#7693d1"/>
<rect x="520.18" y="465.64" width="8.92" height="8.89" fill="#7693d1"/>
<rect x="529.05" y="465.64" width="8.92" height="8.89" fill="#7693d1"/>
<rect x="537.91" y="465.64" width="8.92" height="8.89" fill="#f18a91"/>
<rect x="546.77" y="465.64" width="8.92" height="8.89" fill="#f07e86"/>
<rect x="413.80" y="474.48" width="8.92" height="8.89" fill="#fce4e5"/>
<rect x="422.67" y="474.48" width="8.92" height="8.89" fill="#fce4e5"/>
<rect x="431.53" y="474.48" width="8.92" height="8.89" fill="#f18a91"/>
<rect x="440.39" y="474.48" width="8.92" height="8.89" fill="#f18a91"/>
<rect x="449.26" y="474.48" width="8.92" height="8.89" fill="#7693d1"/>
<rect x="458.12" y="474.48" width="8.92" height="8.89" fill="#7693d1"/>
<rect x="466.99" y="474.48" width="8.92" height="8.89" fill="#7693d1"/>
<rect x="475.86" y="474.48" width="8.92" height="8.89" fill="#7693d1"/>
<rect x="484.72" y="474.48" width="8.92" height="8.89" fill="#7693d1"/>
<rect x="493.59" y="474.48" width="8.92" height="8.89" fill="#7693d1"/>
<rect x="502.45" y="474.48" width="8.92" height="8.89" fill="#7693d1"/>
<rect x="511.31" y="474.48" width="8.92" height="8.89" fill="#7693d1"/>
<rect x="520.18" y="474.48" width="8.92" height="8.89" fill="#9cb1de"/>
<rect x="529.05" y="474.48" width="8.92" height="8.89" fill="#9cb1de"/>
<rect x="537.91" y="474.48" width="8.92" height="8.89" fill="#f07e86"/>
<rect x="413.80" y="483.32" width="8.92" height="8.89" fill="#7693d1"/>
<rect x="422.67" y="483.32" width="8.92" height="8.89" fill="#829dd5"/>
<rect x="431.53" y="483.32" width="8.92" height="8.89" fill="#9cb1de"/>
<rect x="440.39" y="483.32" width="8.92" height="8.89" fill="#bac9e8"/>
<rect x="449.26" y="483.32" width="8.92" height="8.89" fill="#f5abb0"/>
<rect x="458.12" y="483.32" width="8.92" height="8.89" fill="#f5abb0"/>
<rect x="466.99" y="483.32" width="8.92" height="8.89" fill="#f18a91"/>
<rect x="475.86" y="483.32" width="8.92" height="8.89" fill="#f8c4c8"/>
<rect x="484.72" y="483.32" width="8.92" height="8.89" fill="#f5abb0"/>
<rect x="493.59" y="483.32" width="8.92" height="8.89" fill="#f5abb0"/>
<rect x="502.45" y="483.32" width="8.92" height="8.89" fill="#f49fa5"/>
<rect x="511.31" y="483.32" width="8.92" height="8.89" fill="#f5abb0"/>
<rect x="520.18" y="483.32" width="8.92" height="8.89" fill="#f18a91"/>
<rect x="529.05" y="483.32" width="8.92" height="8.89" fill="#f07e86"/>
<rect x="413.80" y="492.16" width="8.92" height="8.89" fill="#829dd5"/>
<rect x="422.67" y="492.16" width="8.92" height="8.89" fill="#829dd5"/>
<rect x="431.53" y="492.16" width="8.92" height="8.89" fill="#abbde3"/>
<rect x="440.39" y="492.16" width="8.92" height="8.89" fill="#cbd6ed"/>
<rect x="449.26" y="492.16" width="8.92" height="8.89" fill="#f7b7bb"/>
<rect x="458.12" y="492.16" width="8.92" height="8.89" fill="#f8c4c8"/>
<rect x="466.99" y="492.16" width="8.92" height="8.89" fill="#f3949b"/>
<rect x="475.86" y="492.16" width="8.92" height="8.89" fill="#f8c4c8"/>
<rect x="484.72" y="492.16" width="8.92" height="8.89" fill="#f7b7bb"/>
<rect x="493.59" y="492.16" width="8.92" height="8.89" fill="#f7b7bb"/>
<rect x="502.45" y="492.16" width="8.92" height="8.89" fill="#f5abb0"/>
<rect x="511.31" y="492.16" width="8.92" height="8.89" fill="#f7b7bb"/>
<rect x="520.18" y="492.16" width="8.92" height="8.89" fill="#f07e86"/>
<rect x="413.80" y="501.00" width="8.92" height="8.89" fill="#cbd6ed"/>
<rect x="422.67" y="501.00" width="8.92" height="8.89" fill="#cbd6ed"/>
<rect x="431.53" y="501.00" width="8.92" height="8.89" fill="#7693d1"/>
<rect x="440.39" y="501.00" width="8.92" height="8.89" fill="#7693d1"/>
<rect x="449.26" y="501.00" width="8.92" height="8.89" fill="#f18a91"/>
<rect x="458.12" y="501.00" width="8.92" height="8.89" fill="#f18a91"/>
<rect x="466.99" y="501.00" width="8.92" height="8.89" fill="#f3949b"/>
<rect x="475.86" y="501.00" width="8.92" height="8.89" fill="#f3949b"/>
<rect x="484.72" y="501.00" width="8.92" height="8.89" fill="#f18a91"/>
<rect x="493.59" y="501.00" width="8.92" height="8.89" fill="#f18a91"/>
<rect x="502.45" y="501.00" width="8.92" height="8.89" fill="#f18a91"/>
<rect x="511.31" y="501.00" width="8.92" height="8.89" fill="#f07e86"/>
<rect x="413.80" y="509.84" width="8.92" height="8.89" fill="#bac9e8"/>
<rect x="422.67" y="509.84" width="8.92" height="8.89" fill="#bac9e8"/>
<rect x="431.53" y="509.84" width="8.92" height="8.89" fill="#7693d1"/>
<rect x="440.39" y="509.84" width="8.92" height="8.89" fill="#7693d1"/>
<rect x="449.26" y="509.84" width="8.92" height="8.89" fill="#f18a91"/>
<rect x="458.12" y="509.84" width="8.92" height="8.89" fill="#f18a91"/>
<rect x="466.99" y="509.84" width="8.92" height="8.89" fill="#f3949b"/>
<rect x="475.86" y="509.84" width="8.92" height="8.89" fill="#f3949b"/>
<rect x="484.72" y="509.84" width="8.92" height="8.89" fill="#f18a91"/>
<rect x="493.59" y="509.84" width="8.92" height="8.89" fill="#f18a91"/>
<rect x="502.45" y="509.84" width="8.92" height="8.89" fill="#f07e86"/>
<rect x="413.80" y="518.68" width="8.92" height="8.89" fill="#ffffff"/>
<rect x="422.67" y="518.68" width="8.92" height="8.89" fill="#dfe6f4"/>
<rect x="431.53" y="518.68" width="8.92" height="8.89" fill="#7693d1"/>
<rect x="440.39" y="518.68" width="8.92" height="8.89" fill="#7693d1"/>
<rect x="449.26" y="518.68" width="8.92" height="8.89" fill="#f18a91"/>
<rect x="458.12" y="518.68" width="8.92" height="8.89" fill="#f18a91"/>
<rect x="466.99" y="518.68" width="8.92" height="8.89" fill="#f3949b"/>
<rect x="475.86" y="518.68" width="8.92" height="8.89" fill="#f3949b"/>
<rect x="484.72" y="518.68" width="8.92" height="8.89" fill="#f08088"/>
<rect x="493.59" y="518.68" width="8.92" height="8.89" fill="#f07e86"/>
<rect x="413.80" y="527.52" width="8.92" height="8.89" fill="#dfe6f4"/>
<rect x="422.67" y="527.52" width="8.92" height="8.89" fill="#dfe6f4"/>
<rect x="431.53" y="527.52" width="8.92" height="8.89" fill="#7693d1"/>
<rect x="440.39" y="527.52" width="8.92" height="8.89" fill="#7693d1"/>
<rect x="449.26" y="527.52" width="8.92" height="8.89" fill="#f18a91"/>
<rect x="458.12" y="527.52" width="8.92" height="8.89" fill="#f18a91"/>
<rect x="466.99" y="527.52" width="8.92" height="8.89" fill="#f3949b"/>
<rect x="475.86" y="527.52" width="8.92" height="8.89" fill="#f3949b"/>
<rect x="484.72" y="527.52" width="8.92" height="8.89" fill="#f07e86"/>
<rect x="413.80" y="536.36" width="8.92" height="8.89" fill="#fad3d5"/>
<rect x="422.67" y="536.36" width="8.92" height="8.89" fill="#fce4e5"/>
<rect x="431.53" y="536.36" width="8.92" height="8.89" fill="#7693d1"/>
<rect x="440.39" y="536.36" width="8.92" height="8.89" fill="#7693d1"/>
<rect x="449.26" y="536.36" width="8.92" height="8.89" fill="#f18a91"/>
<rect x="458.12" y="536.36" width="8.92" height="8.89" fill="#f18a91"/>
<rect x="466.99" y="536.36" width="8.92" height="8.89" fill="#f3949b"/>
<rect x="475.86" y="536.36" width="8.92" height="8.89" fill="#f07e86"/>
<rect x="413.80" y="545.20" width="8.92" height="8.89" fill="#abbde3"/>
<rect x="422.67" y="545.20" width="8.92" height="8.89" fill="#abbde3"/>
<rect x="431.53" y="545.20" width="8.92" height="8.89" fill="#7693d1"/>
<rect x="440.39" y="545.20" width="8.92" height="8.89" fill="#829dd5"/>
<rect x="449.26" y="545.20" width="8.92" height="8.89" fill="#f3949b"/>
<rect x="458.12" y="545.20" width="8.92" height="8.89" fill="#f49fa5"/>
<rect x="466.99" y="545.20" width="8.92" height="8.89" fill="#f07e86"/>
<rect x="413.80" y="554.04" width="8.92" height="8.89" fill="#fce4e5"/>
<rect x="422.67" y="554.04" width="8.92" height="8.89" fill="#ffffff"/>
<rect x="431.53" y="554.04" width="8.92" height="8.89" fill="#7693d1"/>
<rect x="440.39" y="554.04" width="8.92" height="8.89" fill="#7693d1"/>
<rect x="449.26" y="554.04" width="8.92" height="8.89" fill="#f08088"/>
<rect x="458.12" y="554.04" width="8.92" height="8.89" fill="#f07e86"/>
<rect x="413.80" y="562.88" width="8.92" height="8.89" fill="#fce4e5"/>
<rect x="422.67" y="562.88" width="8.92" height="8.89" fill="#ffffff"/>
<rect x="431.53" y="562.88" width="8.92" height="8.89" fill="#7693d1"/>
<rect x="440.39" y="562.88" width="8.92" height="8.89" fill="#7693d1"/>
<rect x="449.26" y="562.88" width="8.92" height="8.89" fill="#f07e86"/>
<rect x="413.80" y="571.72" width="8.92" height="8.89" fill="#cbd6ed"/>
<rect x="422.67" y="571.72" width="8.92" height="8.89" fill="#dfe6f4"/>
<rect x="431.53" y="571.72" width="8.92" height="8.89" fill="#f18a91"/>
<rect x="440.39" y="571.72" width="8.92" height="8.89" fill="#f07e86"/>
<rect x="413.80" y="580.56" width="8.92" height="8.89" fill="#fce4e5"/>
<rect x="422.67" y="580.56" width="8.92" height="8.89" fill="#fad3d5"/>
<rect x="431.53" y="580.56" width="8.92" height="8.89" fill="#f07e86"/>
<rect x="413.80" y="589.40" width="8.92" height="8.89" fill="#f08088"/>
<rect x="422.67" y="589.40" width="8.92" height="8.89" fill="#f07e86"/>
<rect x="413.80" y="598.24" width="8.92" height="8.89" fill="#f07e86"/>
</g>
<g stroke="#fff" stroke-opacity="0.5" stroke-width="0.45">
<line x1="413.8" x2="653.15" y1="368.40" y2="368.40"/>
<line x1="413.8" x2="644.29" y1="377.24" y2="377.24"/>
<line x1="413.8" x2="635.42" y1="386.08" y2="386.08"/>
<line x1="413.8" x2="626.56" y1="394.92" y2="394.92"/>
<line x1="413.8" x2="617.70" y1="403.76" y2="403.76"/>
<line x1="413.8" x2="608.83" y1="412.60" y2="412.60"/>
<line x1="413.8" x2="599.97" y1="421.44" y2="421.44"/>
<line x1="413.8" x2="591.10" y1="430.28" y2="430.28"/>
<line x1="413.8" x2="582.24" y1="439.12" y2="439.12"/>
<line x1="413.8" x2="573.37" y1="447.96" y2="447.96"/>
<line x1="413.8" x2="564.50" y1="456.80" y2="456.80"/>
<line x1="413.8" x2="555.64" y1="465.64" y2="465.64"/>
<line x1="413.8" x2="546.77" y1="474.48" y2="474.48"/>
<line x1="413.8" x2="537.91" y1="483.32" y2="483.32"/>
<line x1="413.8" x2="529.05" y1="492.16" y2="492.16"/>
<line x1="413.8" x2="520.18" y1="501.00" y2="501.00"/>
<line x1="413.8" x2="511.31" y1="509.84" y2="509.84"/>
<line x1="413.8" x2="502.45" y1="518.68" y2="518.68"/>
<line x1="413.8" x2="493.59" y1="527.52" y2="527.52"/>
<line x1="413.8" x2="484.72" y1="536.36" y2="536.36"/>
<line x1="413.8" x2="475.86" y1="545.20" y2="545.20"/>
<line x1="413.8" x2="466.99" y1="554.04" y2="554.04"/>
<line x1="413.8" x2="458.12" y1="562.88" y2="562.88"/>
<line x1="413.8" x2="449.26" y1="571.72" y2="571.72"/>
<line x1="413.8" x2="440.39" y1="580.56" y2="580.56"/>
<line x1="413.8" x2="431.53" y1="589.40" y2="589.40"/>
<line x1="413.8" x2="422.67" y1="598.24" y2="598.24"/>
<line x1="413.80" x2="413.80" y1="368.4" y2="607.08"/>
<line x1="422.67" x2="422.67" y1="368.4" y2="598.24"/>
<line x1="431.53" x2="431.53" y1="368.4" y2="589.40"/>
<line x1="440.39" x2="440.39" y1="368.4" y2="580.56"/>
<line x1="449.26" x2="449.26" y1="368.4" y2="571.72"/>
<line x1="458.12" x2="458.12" y1="368.4" y2="562.88"/>
<line x1="466.99" x2="466.99" y1="368.4" y2="554.04"/>
<line x1="475.86" x2="475.86" y1="368.4" y2="545.20"/>
<line x1="484.72" x2="484.72" y1="368.4" y2="536.36"/>
<line x1="493.59" x2="493.59" y1="368.4" y2="527.52"/>
<line x1="502.45" x2="502.45" y1="368.4" y2="518.68"/>
<line x1="511.31" x2="511.31" y1="368.4" y2="509.84"/>
<line x1="520.18" x2="520.18" y1="368.4" y2="501.00"/>
<line x1="529.05" x2="529.05" y1="368.4" y2="492.16"/>
<line x1="537.91" x2="537.91" y1="368.4" y2="483.32"/>
<line x1="546.77" x2="546.77" y1="368.4" y2="474.48"/>
<line x1="555.64" x2="555.64" y1="368.4" y2="465.64"/>
<line x1="564.50" x2="564.50" y1="368.4" y2="456.80"/>
<line x1="573.37" x2="573.37" y1="368.4" y2="447.96"/>
<line x1="582.24" x2="582.24" y1="368.4" y2="439.12"/>
<line x1="591.10" x2="591.10" y1="368.4" y2="430.28"/>
<line x1="599.97" x2="599.97" y1="368.4" y2="421.44"/>
<line x1="608.83" x2="608.83" y1="368.4" y2="412.60"/>
<line x1="617.70" x2="617.70" y1="368.4" y2="403.76"/>
<line x1="626.56" x2="626.56" y1="368.4" y2="394.92"/>
<line x1="635.42" x2="635.42" y1="368.4" y2="386.08"/>
<line x1="644.29" x2="644.29" y1="368.4" y2="377.24"/>
</g>
<g fill="#000">
<circle cx="418.23" cy="372.82" r="1.2"/>
<circle cx="427.10" cy="372.82" r="1.2"/>
<circle cx="435.96" cy="372.82" r="1.2"/>
<circle cx="444.83" cy="372.82" r="1.2"/>
<circle cx="453.69" cy="372.82" r="1.2"/>
<circle cx="462.56" cy="372.82" r="1.2"/>
<circle cx="471.42" cy="372.82" r="1.2"/>
<circle cx="480.29" cy="372.82" r="1.2"/>
<circle cx="489.15" cy="372.82" r="1.2"/>
<circle cx="498.02" cy="372.82" r="1.2"/>
<circle cx="506.88" cy="372.82" r="1.2"/>
<circle cx="515.75" cy="372.82" r="1.2"/>
<circle cx="524.61" cy="372.82" r="1.2"/>
<circle cx="533.48" cy="372.82" r="1.2"/>
<circle cx="542.34" cy="372.82" r="1.2"/>
<circle cx="551.21" cy="372.82" r="1.2"/>
<circle cx="560.07" cy="372.82" r="1.2"/>
<circle cx="568.94" cy="372.82" r="1.2"/>
<circle cx="577.80" cy="372.82" r="1.2"/>
<circle cx="586.67" cy="372.82" r="1.2"/>
<circle cx="595.53" cy="372.82" r="1.2"/>
<circle cx="604.40" cy="372.82" r="1.2"/>
<circle cx="613.26" cy="372.82" r="1.2"/>
<circle cx="622.13" cy="372.82" r="1.2"/>
<circle cx="630.99" cy="372.82" r="1.2"/>
<circle cx="639.86" cy="372.82" r="1.2"/>
<circle cx="418.23" cy="381.66" r="1.2"/>
<circle cx="427.10" cy="381.66" r="1.2"/>
<circle cx="435.96" cy="381.66" r="1.2"/>
<circle cx="444.83" cy="381.66" r="1.2"/>
<circle cx="453.69" cy="381.66" r="1.2"/>
<circle cx="462.56" cy="381.66" r="1.2"/>
<circle cx="471.42" cy="381.66" r="1.2"/>
<circle cx="480.29" cy="381.66" r="1.2"/>
<circle cx="489.15" cy="381.66" r="1.2"/>
<circle cx="498.02" cy="381.66" r="1.2"/>
<circle cx="515.75" cy="381.66" r="1.2"/>
<circle cx="524.61" cy="381.66" r="1.2"/>
<circle cx="533.48" cy="381.66" r="1.2"/>
<circle cx="542.34" cy="381.66" r="1.2"/>
<circle cx="551.21" cy="381.66" r="1.2"/>
<circle cx="560.07" cy="381.66" r="1.2"/>
<circle cx="568.94" cy="381.66" r="1.2"/>
<circle cx="577.80" cy="381.66" r="1.2"/>
<circle cx="586.67" cy="381.66" r="1.2"/>
<circle cx="604.40" cy="381.66" r="1.2"/>
<circle cx="622.13" cy="381.66" r="1.2"/>
<circle cx="418.23" cy="390.50" r="1.2"/>
<circle cx="427.10" cy="390.50" r="1.2"/>
<circle cx="435.96" cy="390.50" r="1.2"/>
<circle cx="444.83" cy="390.50" r="1.2"/>
<circle cx="453.69" cy="390.50" r="1.2"/>
<circle cx="462.56" cy="390.50" r="1.2"/>
<circle cx="471.42" cy="390.50" r="1.2"/>
<circle cx="480.29" cy="390.50" r="1.2"/>
<circle cx="489.15" cy="390.50" r="1.2"/>
<circle cx="498.02" cy="390.50" r="1.2"/>
<circle cx="506.88" cy="390.50" r="1.2"/>
<circle cx="515.75" cy="390.50" r="1.2"/>
<circle cx="524.61" cy="390.50" r="1.2"/>
<circle cx="533.48" cy="390.50" r="1.2"/>
<circle cx="542.34" cy="390.50" r="1.2"/>
<circle cx="551.21" cy="390.50" r="1.2"/>
<circle cx="560.07" cy="390.50" r="1.2"/>
<circle cx="568.94" cy="390.50" r="1.2"/>
<circle cx="577.80" cy="390.50" r="1.2"/>
<circle cx="586.67" cy="390.50" r="1.2"/>
<circle cx="604.40" cy="390.50" r="1.2"/>
<circle cx="622.13" cy="390.50" r="1.2"/>
<circle cx="418.23" cy="399.34" r="1.2"/>
<circle cx="427.10" cy="399.34" r="1.2"/>
<circle cx="435.96" cy="399.34" r="1.2"/>
<circle cx="444.83" cy="399.34" r="1.2"/>
<circle cx="453.69" cy="399.34" r="1.2"/>
<circle cx="462.56" cy="399.34" r="1.2"/>
<circle cx="471.42" cy="399.34" r="1.2"/>
<circle cx="480.29" cy="399.34" r="1.2"/>
<circle cx="489.15" cy="399.34" r="1.2"/>
<circle cx="498.02" cy="399.34" r="1.2"/>
<circle cx="506.88" cy="399.34" r="1.2"/>
<circle cx="515.75" cy="399.34" r="1.2"/>
<circle cx="524.61" cy="399.34" r="1.2"/>
<circle cx="533.48" cy="399.34" r="1.2"/>
<circle cx="542.34" cy="399.34" r="1.2"/>
<circle cx="551.21" cy="399.34" r="1.2"/>
<circle cx="560.07" cy="399.34" r="1.2"/>
<circle cx="568.94" cy="399.34" r="1.2"/>
<circle cx="577.80" cy="399.34" r="1.2"/>
<circle cx="586.67" cy="399.34" r="1.2"/>
<circle cx="595.53" cy="399.34" r="1.2"/>
<circle cx="604.40" cy="399.34" r="1.2"/>
<circle cx="613.26" cy="399.34" r="1.2"/>
<circle cx="418.23" cy="408.18" r="1.2"/>
<circle cx="427.10" cy="408.18" r="1.2"/>
<circle cx="435.96" cy="408.18" r="1.2"/>
<circle cx="444.83" cy="408.18" r="1.2"/>
<circle cx="453.69" cy="408.18" r="1.2"/>
<circle cx="462.56" cy="408.18" r="1.2"/>
<circle cx="471.42" cy="408.18" r="1.2"/>
<circle cx="480.29" cy="408.18" r="1.2"/>
<circle cx="489.15" cy="408.18" r="1.2"/>
<circle cx="498.02" cy="408.18" r="1.2"/>
<circle cx="515.75" cy="408.18" r="1.2"/>
<circle cx="524.61" cy="408.18" r="1.2"/>
<circle cx="533.48" cy="408.18" r="1.2"/>
<circle cx="542.34" cy="408.18" r="1.2"/>
<circle cx="551.21" cy="408.18" r="1.2"/>
<circle cx="560.07" cy="408.18" r="1.2"/>
<circle cx="568.94" cy="408.18" r="1.2"/>
<circle cx="577.80" cy="408.18" r="1.2"/>
<circle cx="586.67" cy="408.18" r="1.2"/>
<circle cx="604.40" cy="408.18" r="1.2"/>
<circle cx="418.23" cy="417.02" r="1.2"/>
<circle cx="427.10" cy="417.02" r="1.2"/>
<circle cx="435.96" cy="417.02" r="1.2"/>
<circle cx="444.83" cy="417.02" r="1.2"/>
<circle cx="453.69" cy="417.02" r="1.2"/>
<circle cx="462.56" cy="417.02" r="1.2"/>
<circle cx="471.42" cy="417.02" r="1.2"/>
<circle cx="480.29" cy="417.02" r="1.2"/>
<circle cx="489.15" cy="417.02" r="1.2"/>
<circle cx="498.02" cy="417.02" r="1.2"/>
<circle cx="506.88" cy="417.02" r="1.2"/>
<circle cx="515.75" cy="417.02" r="1.2"/>
<circle cx="524.61" cy="417.02" r="1.2"/>
<circle cx="533.48" cy="417.02" r="1.2"/>
<circle cx="542.34" cy="417.02" r="1.2"/>
<circle cx="551.21" cy="417.02" r="1.2"/>
<circle cx="560.07" cy="417.02" r="1.2"/>
<circle cx="568.94" cy="417.02" r="1.2"/>
<circle cx="577.80" cy="417.02" r="1.2"/>
<circle cx="586.67" cy="417.02" r="1.2"/>
<circle cx="595.53" cy="417.02" r="1.2"/>
<circle cx="418.23" cy="425.86" r="1.2"/>
<circle cx="427.10" cy="425.86" r="1.2"/>
<circle cx="435.96" cy="425.86" r="1.2"/>
<circle cx="444.83" cy="425.86" r="1.2"/>
<circle cx="453.69" cy="425.86" r="1.2"/>
<circle cx="462.56" cy="425.86" r="1.2"/>
<circle cx="471.42" cy="425.86" r="1.2"/>
<circle cx="480.29" cy="425.86" r="1.2"/>
<circle cx="489.15" cy="425.86" r="1.2"/>
<circle cx="498.02" cy="425.86" r="1.2"/>
<circle cx="515.75" cy="425.86" r="1.2"/>
<circle cx="524.61" cy="425.86" r="1.2"/>
<circle cx="533.48" cy="425.86" r="1.2"/>
<circle cx="542.34" cy="425.86" r="1.2"/>
<circle cx="551.21" cy="425.86" r="1.2"/>
<circle cx="560.07" cy="425.86" r="1.2"/>
<circle cx="568.94" cy="425.86" r="1.2"/>
<circle cx="577.80" cy="425.86" r="1.2"/>
<circle cx="586.67" cy="425.86" r="1.2"/>
<circle cx="427.10" cy="434.70" r="1.2"/>
<circle cx="435.96" cy="434.70" r="1.2"/>
<circle cx="444.83" cy="434.70" r="1.2"/>
<circle cx="453.69" cy="434.70" r="1.2"/>
<circle cx="462.56" cy="434.70" r="1.2"/>
<circle cx="471.42" cy="434.70" r="1.2"/>
<circle cx="480.29" cy="434.70" r="1.2"/>
<circle cx="489.15" cy="434.70" r="1.2"/>
<circle cx="498.02" cy="434.70" r="1.2"/>
<circle cx="506.88" cy="434.70" r="1.2"/>
<circle cx="515.75" cy="434.70" r="1.2"/>
<circle cx="524.61" cy="434.70" r="1.2"/>
<circle cx="533.48" cy="434.70" r="1.2"/>
<circle cx="542.34" cy="434.70" r="1.2"/>
<circle cx="551.21" cy="434.70" r="1.2"/>
<circle cx="560.07" cy="434.70" r="1.2"/>
<circle cx="568.94" cy="434.70" r="1.2"/>
<circle cx="577.80" cy="434.70" r="1.2"/>
<circle cx="418.23" cy="443.54" r="1.2"/>
<circle cx="427.10" cy="443.54" r="1.2"/>
<circle cx="435.96" cy="443.54" r="1.2"/>
<circle cx="444.83" cy="443.54" r="1.2"/>
<circle cx="453.69" cy="443.54" r="1.2"/>
<circle cx="462.56" cy="443.54" r="1.2"/>
<circle cx="480.29" cy="443.54" r="1.2"/>
<circle cx="489.15" cy="443.54" r="1.2"/>
<circle cx="498.02" cy="443.54" r="1.2"/>
<circle cx="506.88" cy="443.54" r="1.2"/>
<circle cx="515.75" cy="443.54" r="1.2"/>
<circle cx="524.61" cy="443.54" r="1.2"/>
<circle cx="533.48" cy="443.54" r="1.2"/>
<circle cx="542.34" cy="443.54" r="1.2"/>
<circle cx="418.23" cy="452.38" r="1.2"/>
<circle cx="427.10" cy="452.38" r="1.2"/>
<circle cx="435.96" cy="452.38" r="1.2"/>
<circle cx="444.83" cy="452.38" r="1.2"/>
<circle cx="453.69" cy="452.38" r="1.2"/>
<circle cx="462.56" cy="452.38" r="1.2"/>
<circle cx="480.29" cy="452.38" r="1.2"/>
<circle cx="489.15" cy="452.38" r="1.2"/>
<circle cx="498.02" cy="452.38" r="1.2"/>
<circle cx="506.88" cy="452.38" r="1.2"/>
<circle cx="515.75" cy="452.38" r="1.2"/>
<circle cx="524.61" cy="452.38" r="1.2"/>
<circle cx="533.48" cy="452.38" r="1.2"/>
<circle cx="542.34" cy="452.38" r="1.2"/>
<circle cx="560.07" cy="452.38" r="1.2"/>
<circle cx="418.23" cy="461.22" r="1.2"/>
<circle cx="427.10" cy="461.22" r="1.2"/>
<circle cx="435.96" cy="461.22" r="1.2"/>
<circle cx="444.83" cy="461.22" r="1.2"/>
<circle cx="453.69" cy="461.22" r="1.2"/>
<circle cx="462.56" cy="461.22" r="1.2"/>
<circle cx="480.29" cy="461.22" r="1.2"/>
<circle cx="489.15" cy="461.22" r="1.2"/>
<circle cx="498.02" cy="461.22" r="1.2"/>
<circle cx="506.88" cy="461.22" r="1.2"/>
<circle cx="515.75" cy="461.22" r="1.2"/>
<circle cx="524.61" cy="461.22" r="1.2"/>
<circle cx="533.48" cy="461.22" r="1.2"/>
<circle cx="542.34" cy="461.22" r="1.2"/>
<circle cx="418.23" cy="470.06" r="1.2"/>
<circle cx="427.10" cy="470.06" r="1.2"/>
<circle cx="435.96" cy="470.06" r="1.2"/>
<circle cx="444.83" cy="470.06" r="1.2"/>
<circle cx="453.69" cy="470.06" r="1.2"/>
<circle cx="462.56" cy="470.06" r="1.2"/>
<circle cx="480.29" cy="470.06" r="1.2"/>
<circle cx="489.15" cy="470.06" r="1.2"/>
<circle cx="498.02" cy="470.06" r="1.2"/>
<circle cx="506.88" cy="470.06" r="1.2"/>
<circle cx="515.75" cy="470.06" r="1.2"/>
<circle cx="524.61" cy="470.06" r="1.2"/>
<circle cx="533.48" cy="470.06" r="1.2"/>
<circle cx="542.34" cy="470.06" r="1.2"/>
<circle cx="418.23" cy="478.90" r="1.2"/>
<circle cx="427.10" cy="478.90" r="1.2"/>
<circle cx="444.83" cy="478.90" r="1.2"/>
<circle cx="453.69" cy="478.90" r="1.2"/>
<circle cx="462.56" cy="478.90" r="1.2"/>
<circle cx="471.42" cy="478.90" r="1.2"/>
<circle cx="480.29" cy="478.90" r="1.2"/>
<circle cx="506.88" cy="478.90" r="1.2"/>
<circle cx="515.75" cy="478.90" r="1.2"/>
<circle cx="524.61" cy="478.90" r="1.2"/>
<circle cx="533.48" cy="478.90" r="1.2"/>
<circle cx="418.23" cy="487.74" r="1.2"/>
<circle cx="427.10" cy="487.74" r="1.2"/>
<circle cx="435.96" cy="487.74" r="1.2"/>
<circle cx="444.83" cy="487.74" r="1.2"/>
<circle cx="453.69" cy="487.74" r="1.2"/>
<circle cx="462.56" cy="487.74" r="1.2"/>
<circle cx="471.42" cy="487.74" r="1.2"/>
<circle cx="480.29" cy="487.74" r="1.2"/>
<circle cx="489.15" cy="487.74" r="1.2"/>
<circle cx="498.02" cy="487.74" r="1.2"/>
<circle cx="506.88" cy="487.74" r="1.2"/>
<circle cx="515.75" cy="487.74" r="1.2"/>
<circle cx="524.61" cy="487.74" r="1.2"/>
<circle cx="418.23" cy="496.58" r="1.2"/>
<circle cx="427.10" cy="496.58" r="1.2"/>
<circle cx="435.96" cy="496.58" r="1.2"/>
<circle cx="444.83" cy="496.58" r="1.2"/>
<circle cx="453.69" cy="496.58" r="1.2"/>
<circle cx="462.56" cy="496.58" r="1.2"/>
<circle cx="471.42" cy="496.58" r="1.2"/>
<circle cx="480.29" cy="496.58" r="1.2"/>
<circle cx="489.15" cy="496.58" r="1.2"/>
<circle cx="498.02" cy="496.58" r="1.2"/>
<circle cx="506.88" cy="496.58" r="1.2"/>
<circle cx="515.75" cy="496.58" r="1.2"/>
<circle cx="418.23" cy="505.42" r="1.2"/>
<circle cx="427.10" cy="505.42" r="1.2"/>
<circle cx="444.83" cy="505.42" r="1.2"/>
<circle cx="453.69" cy="505.42" r="1.2"/>
<circle cx="462.56" cy="505.42" r="1.2"/>
<circle cx="471.42" cy="505.42" r="1.2"/>
<circle cx="480.29" cy="505.42" r="1.2"/>
<circle cx="498.02" cy="505.42" r="1.2"/>
<circle cx="506.88" cy="505.42" r="1.2"/>
<circle cx="418.23" cy="514.26" r="1.2"/>
<circle cx="427.10" cy="514.26" r="1.2"/>
<circle cx="435.96" cy="514.26" r="1.2"/>
<circle cx="444.83" cy="514.26" r="1.2"/>
<circle cx="453.69" cy="514.26" r="1.2"/>
<circle cx="462.56" cy="514.26" r="1.2"/>
<circle cx="471.42" cy="514.26" r="1.2"/>
<circle cx="480.29" cy="514.26" r="1.2"/>
<circle cx="489.15" cy="514.26" r="1.2"/>
<circle cx="498.02" cy="514.26" r="1.2"/>
<circle cx="418.23" cy="523.10" r="1.2"/>
<circle cx="427.10" cy="523.10" r="1.2"/>
<circle cx="435.96" cy="523.10" r="1.2"/>
<circle cx="444.83" cy="523.10" r="1.2"/>
<circle cx="453.69" cy="523.10" r="1.2"/>
<circle cx="462.56" cy="523.10" r="1.2"/>
<circle cx="471.42" cy="523.10" r="1.2"/>
<circle cx="480.29" cy="523.10" r="1.2"/>
<circle cx="418.23" cy="531.94" r="1.2"/>
<circle cx="427.10" cy="531.94" r="1.2"/>
<circle cx="444.83" cy="531.94" r="1.2"/>
<circle cx="453.69" cy="531.94" r="1.2"/>
<circle cx="462.56" cy="531.94" r="1.2"/>
<circle cx="471.42" cy="531.94" r="1.2"/>
<circle cx="480.29" cy="531.94" r="1.2"/>
<circle cx="418.23" cy="540.78" r="1.2"/>
<circle cx="427.10" cy="540.78" r="1.2"/>
<circle cx="435.96" cy="540.78" r="1.2"/>
<circle cx="453.69" cy="540.78" r="1.2"/>
<circle cx="462.56" cy="540.78" r="1.2"/>
<circle cx="471.42" cy="540.78" r="1.2"/>
<circle cx="418.23" cy="549.62" r="1.2"/>
<circle cx="427.10" cy="549.62" r="1.2"/>
<circle cx="435.96" cy="549.62" r="1.2"/>
<circle cx="444.83" cy="549.62" r="1.2"/>
<circle cx="453.69" cy="549.62" r="1.2"/>
<circle cx="462.56" cy="549.62" r="1.2"/>
<circle cx="418.23" cy="558.46" r="1.2"/>
<circle cx="427.10" cy="558.46" r="1.2"/>
<circle cx="435.96" cy="558.46" r="1.2"/>
<circle cx="444.83" cy="558.46" r="1.2"/>
<circle cx="418.23" cy="567.30" r="1.2"/>
<circle cx="427.10" cy="567.30" r="1.2"/>
<circle cx="435.96" cy="567.30" r="1.2"/>
<circle cx="444.83" cy="567.30" r="1.2"/>
<circle cx="418.23" cy="576.14" r="1.2"/>
<circle cx="427.10" cy="576.14" r="1.2"/>
<circle cx="435.96" cy="576.14" r="1.2"/>
<circle cx="418.23" cy="584.98" r="1.2"/>
<circle cx="427.10" cy="584.98" r="1.2"/>
</g>
<g font-family='"Liberation Sans", Arial, sans-serif' font-size="6.5" fill="#111" stroke="#111" stroke-width="0.12" text-anchor="middle">
<text x="401.5" y="375.22">MB</text>
<text x="401.5" y="384.06">VC−R</text>
<text x="401.5" y="392.90">VC−L</text>
<text x="401.5" y="401.74">TH−R</text>
<text x="401.5" y="410.58">TH−L</text>
<text x="401.5" y="419.42">SS−R</text>
<text x="401.5" y="428.26">SS−L</text>
<text x="401.5" y="437.10">ORB−R</text>
<text x="401.5" y="445.94">ORB−L</text>
<text x="401.5" y="454.78">OLF−R</text>
<text x="401.5" y="463.62">OLF−L</text>
<text x="401.5" y="472.46">SM−R</text>
<text x="401.5" y="481.30">SM−L</text>
<text x="401.5" y="490.14">HY−R</text>
<text x="401.5" y="498.98">HY−L</text>
<text x="401.5" y="507.82">HIP−R</text>
<text x="401.5" y="516.66">HIP−L</text>
<text x="401.5" y="525.50">HB</text>
<text x="401.5" y="534.34">CB</text>
<text x="401.5" y="543.18">BG−VR</text>
<text x="401.5" y="552.02">BG−VL</text>
<text x="401.5" y="560.86">BG−DR</text>
<text x="401.5" y="569.70">BG−DL</text>
<text x="401.5" y="578.54">ACT−R</text>
<text x="401.5" y="587.38">ACT−L</text>
<text x="401.5" y="596.22">ACL−R</text>
<text x="401.5" y="605.06">ACL−L</text>
</g>
<g font-family='"Liberation Sans", Arial, sans-serif' font-size="6.6" fill="#111" stroke="#111" stroke-width="0.12" text-anchor="end">
<text transform="translate(422.13,610.28) rotate(-60)">ACL−L</text>
<text transform="translate(431.00,610.28) rotate(-60)">ACL−R</text>
<text transform="translate(439.86,610.28) rotate(-60)">ACT−L</text>
<text transform="translate(448.73,610.28) rotate(-60)">ACT−R</text>
<text transform="translate(457.59,610.28) rotate(-60)">BG−DL</text>
<text transform="translate(466.46,610.28) rotate(-60)">BG−DR</text>
<text transform="translate(475.32,610.28) rotate(-60)">BG−VL</text>
<text transform="translate(484.19,610.28) rotate(-60)">BG−VR</text>
<text transform="translate(493.05,610.28) rotate(-60)">CB</text>
<text transform="translate(501.92,610.28) rotate(-60)">HB</text>
<text transform="translate(510.78,610.28) rotate(-60)">HIP−L</text>
<text transform="translate(519.65,610.28) rotate(-60)">HIP−R</text>
<text transform="translate(528.51,610.28) rotate(-60)">HY−L</text>
<text transform="translate(537.38,610.28) rotate(-60)">HY−R</text>
<text transform="translate(546.24,610.28) rotate(-60)">SM−L</text>
<text transform="translate(555.11,610.28) rotate(-60)">SM−R</text>
<text transform="translate(563.97,610.28) rotate(-60)">OLF−L</text>
<text transform="translate(572.84,610.28) rotate(-60)">OLF−R</text>
<text transform="translate(581.70,610.28) rotate(-60)">ORB−L</text>
<text transform="translate(590.57,610.28) rotate(-60)">ORB−R</text>
<text transform="translate(599.43,610.28) rotate(-60)">SS−L</text>
<text transform="translate(608.30,610.28) rotate(-60)">SS−R</text>
<text transform="translate(617.16,610.28) rotate(-60)">TH−L</text>
<text transform="translate(626.03,610.28) rotate(-60)">TH−R</text>
<text transform="translate(634.89,610.28) rotate(-60)">VC−L</text>
<text transform="translate(643.76,610.28) rotate(-60)">VC−R</text>
<text transform="translate(652.62,610.28) rotate(-60)">MB</text>
</g>
<text x="582.4" y="503.0" font-family='"Liberation Serif", "Times New Roman", serif' font-weight="bold" font-size="21.4" fill="#000">Flea+</text>
<text x="657.1" y="463.9" font-family='"Liberation Sans", Arial, sans-serif' font-size="6.5" fill="#111">Corr</text>
<rect x="657.1" y="467.8" width="10" height="49.1" fill="url(#corrgrad)"/>
<g font-family='"Liberation Sans", Arial, sans-serif' font-size="5.2" fill="#111">
<text x="670.1" y="469.6">1.0</text>
<text x="670.1" y="481.9">0.5</text>
<text x="670.1" y="494.1">0.0</text>
<text x="670.1" y="506.4">−0.5</text>
<text x="670.1" y="518.7">−1.0</text>
</g>
<line x1="657.1" x2="659" y1="480.1" y2="480.1" stroke="#fff" stroke-width="0.3"/><line x1="665.2" x2="667.1" y1="480.1" y2="480.1" stroke="#fff" stroke-width="0.3"/>
<line x1="657.1" x2="659" y1="492.3" y2="492.3" stroke="#fff" stroke-width="0.3"/><line x1="665.2" x2="667.1" y1="492.3" y2="492.3" stroke="#fff" stroke-width="0.3"/>
<line x1="657.1" x2="659" y1="504.6" y2="504.6" stroke="#fff" stroke-width="0.3"/><line x1="665.2" x2="667.1" y1="504.6" y2="504.6" stroke="#fff" stroke-width="0.3"/>
<defs>
<filter id="bl2" x="-20%" y="-20%" width="140%" height="140%"><feGaussianBlur stdDeviation="2"/></filter>
<filter id="bl3" x="-20%" y="-20%" width="140%" height="140%"><feGaussianBlur stdDeviation="3"/></filter>
<filter id="bl4" x="-20%" y="-20%" width="140%" height="140%"><feGaussianBlur stdDeviation="4"/></filter>
<filter id="bl5" x="-20%" y="-20%" width="140%" height="140%"><feGaussianBlur stdDeviation="5"/></filter>
<filter id="bl6" x="-20%" y="-20%" width="140%" height="140%"><feGaussianBlur stdDeviation="6"/></filter>
<filter id="bl8" x="-20%" y="-20%" width="140%" height="140%"><feGaussianBlur stdDeviation="8"/></filter>
<filter id="bl12" x="-20%" y="-20%" width="140%" height="140%"><feGaussianBlur stdDeviation="12"/></filter>
<filter id="bl10" x="-20%" y="-20%" width="140%" height="140%"><feGaussianBlur stdDeviation="10"/></filter>
<radialGradient id="brainL" cx="0.55" cy="0.4" r="0.65"><stop offset="0" stop-color="#b6b6ba"/><stop offset="0.6" stop-color="#9c9ca2"/><stop offset="1" stop-color="#5a5a60"/></radialGradient>
<radialGradient id="brainM" cx="0.45" cy="0.4" r="0.65"><stop offset="0" stop-color="#b2b2ba"/><stop offset="0.6" stop-color="#9a9aa2"/><stop offset="1" stop-color="#54545e"/></radialGradient>
<radialGradient id="brainR" cx="0.5" cy="0.45" r="0.65"><stop offset="0" stop-color="#b6b6be"/><stop offset="0.6" stop-color="#9c9ca4"/><stop offset="1" stop-color="#5a5a62"/></radialGradient>
<linearGradient id="cbBlue" x1="0" y1="0" x2="0" y2="1"><stop offset="0" stop-color="#63c28a"/><stop offset="0.2" stop-color="#3fae9c"/><stop offset="0.4" stop-color="#2f93b8"/><stop offset="0.6" stop-color="#2f78c8"/><stop offset="0.8" stop-color="#3566cc"/><stop offset="1" stop-color="#3a5fc8"/></linearGradient>
<linearGradient id="cbHot" x1="0" y1="0" x2="0" y2="1"><stop offset="0" stop-color="#ffffff"/><stop offset="0.12" stop-color="#fffbc0"/><stop offset="0.25" stop-color="#ffe93a"/><stop offset="0.4" stop-color="#ffa81a"/><stop offset="0.55" stop-color="#fb4a18"/><stop offset="0.68" stop-color="#dc1a1a"/><stop offset="0.8" stop-color="#8c1414"/><stop offset="0.92" stop-color="#3a0c0c"/><stop offset="1" stop-color="#120404"/></linearGradient>
</defs>
<text x="-0.3" y="277.2" font-family='"Liberation Sans", Arial, sans-serif' font-size="43.6" fill="#000" stroke="#000" stroke-width="0.3">d</text>
<g transform="translate(130 245) scale(0.17519)">
<polygon points="100,150 215,150 215,252 100,226" fill="#dedada"/>
<polygon points="100,150 215,150 215,162 100,160" fill="#f4f2f2"/>
<polygon points="345,118 458,114 458,226 345,206" fill="#ded8d8"/>
<polygon points="345,118 458,114 458,126 345,130" fill="#f4f2f2"/>
<rect x="213" y="88" width="134" height="222" rx="6" fill="#9b9ba0" stroke="#cfcfd3" stroke-width="6"/>
<rect x="228" y="114" width="106" height="32" fill="#d2d2d6"/>
<rect x="228" y="124" width="106" height="8" fill="#f0f0f2"/>
<rect x="222" y="150" width="118" height="52" fill="#a9a9ae"/>
<polygon points="222,168 300,160 304,176 222,180" fill="#e2e0e0"/>
<ellipse cx="268" cy="165" rx="20" ry="6" fill="#5a4540"/>
<rect x="228" y="208" width="106" height="24" fill="#d2d2d6"/>
<rect x="228" y="214" width="106" height="7" fill="#e6e6e9"/>
<rect x="455" y="53" width="136" height="233" rx="6" fill="#9b9ba0" stroke="#cfcfd3" stroke-width="6"/>
<rect x="468" y="78" width="112" height="30" fill="#d2d2d6"/>
<rect x="468" y="86" width="112" height="8" fill="#f0f0f2"/>
<rect x="462" y="112" width="122" height="60" fill="#a4a4a9"/>
<rect x="440" y="118" width="40" height="26" fill="#c4c4c8"/>
<rect x="478" y="122" width="74" height="18" fill="#dcdcdf"/>
<rect x="496" y="125" width="8" height="12" fill="#8a8a8f"/><rect x="512" y="125" width="8" height="12" fill="#8a8a8f"/><rect x="528" y="125" width="8" height="12" fill="#8a8a8f"/>
<rect x="468" y="180" width="112" height="26" fill="#d2d2d6"/>
<rect x="468" y="187" width="112" height="7" fill="#e6e6e9"/>
</g>
<rect x="47.9" y="304.8" width="298.3" height="164.8" fill="#1c1a1b"/>
<rect x="129" y="304.8" width="127" height="164.8" fill="#000"/>
<rect x="55.5" y="324.7" width="74" height="125.6" fill="#000"/>
<rect x="255.8" y="320" width="77.2" height="135.6" fill="#000"/>
<g transform="translate(55 320) scale(0.153846)">
<clipPath id="clipL"><path d="M262,85 C300,75 345,100 355,160 C358,200 352,225 365,240 C420,290 455,370 465,450 C470,520 455,580 432,615 C440,660 430,720 405,765 C380,810 320,835 265,832 C215,835 150,825 128,805 C105,780 98,720 100,660 C98,630 105,610 118,595 C125,580 140,570 150,560 C120,520 105,470 102,400 C100,360 110,335 125,318 C150,290 165,270 172,250 C180,200 200,150 225,115 C235,95 248,88 262,85 Z"/></clipPath>
<path d="M262,85 C300,75 345,100 355,160 C358,200 352,225 365,240 C420,290 455,370 465,450 C470,520 455,580 432,615 C440,660 430,720 405,765 C380,810 320,835 265,832 C215,835 150,825 128,805 C105,780 98,720 100,660 C98,630 105,610 118,595 C125,580 140,570 150,560 C120,520 105,470 102,400 C100,360 110,335 125,318 C150,290 165,270 172,250 C180,200 200,150 225,115 C235,95 248,88 262,85 Z" fill="url(#brainL)" filter="url(#bl3)"/>
<g clip-path="url(#clipL)">
<g filter="url(#bl12)">
<path d="M300,235 L365,245 C420,295 452,375 462,455 C465,520 450,580 430,610 L300,640 Z" fill="#c2c2c6"/>
<ellipse cx="395" cy="330" rx="32" ry="75" transform="rotate(-22 395 330)" fill="#e2e2e6" opacity="0.7"/>
<ellipse cx="390" cy="335" rx="50" ry="20" transform="rotate(25 390 335)" fill="#a8969a" opacity="0.5"/>
<path d="M300,90 C335,92 352,130 352,180 C352,215 350,235 340,245 L300,240 Z" fill="#c8c8cc"/>
<path d="M240,95 L297,88 L297,200 L215,200 Z" fill="#b8b8be"/>
<ellipse cx="200" cy="255" rx="35" ry="70" transform="rotate(20 200 255)" fill="#b8b8be"/>
<ellipse cx="365" cy="700" rx="75" ry="95" fill="#948c92"/>
<ellipse cx="340" cy="635" rx="70" ry="22" fill="#b4b0b4" opacity="0.8"/>
<ellipse cx="190" cy="710" rx="100" ry="120" fill="#94949a"/>
</g>
<g filter="url(#bl8)">
<ellipse cx="150" cy="640" rx="48" ry="24" transform="rotate(-30 150 640)" fill="#e6e6ea" opacity="0.8"/>
<ellipse cx="232" cy="690" rx="28" ry="52" transform="rotate(22 232 690)" fill="#d2d2d6" opacity="0.8"/>
<ellipse cx="188" cy="705" rx="14" ry="55" transform="rotate(22 188 705)" fill="#45454a" opacity="0.5"/>
<ellipse cx="128" cy="720" rx="14" ry="50" fill="#505056" opacity="0.45"/>
<ellipse cx="205" cy="795" rx="75" ry="24" fill="#b6b6ba"/>
<ellipse cx="128" cy="765" rx="10" ry="22" fill="#c48a70" opacity="0.7"/>
<ellipse cx="270" cy="640" rx="18" ry="30" transform="rotate(30 270 640)" fill="#3a3a40" opacity="0.55"/>
<ellipse cx="415" cy="468" rx="40" ry="8" fill="#c45c5c" opacity="0.85"/>
<ellipse cx="395" cy="484" rx="42" ry="8" fill="#5e5054" opacity="0.6"/>
<ellipse cx="350" cy="690" rx="28" ry="40" fill="#8e6e72" opacity="0.55"/>
</g>
<g filter="url(#bl5)">
<path d="M215,150 C245,138 300,135 330,170 C335,200 330,235 300,250 L297,340 L235,300 C212,260 198,200 215,150 Z" fill="#8496e8" opacity="0.8"/>
<path d="M125,470 L330,470 C335,520 320,570 290,600 C250,630 200,620 170,590 C140,550 128,510 125,470 Z" fill="#6c82dc" opacity="0.8"/>
<ellipse cx="250" cy="525" rx="32" ry="22" fill="#58a4be" opacity="0.5"/>
<ellipse cx="345" cy="400" rx="28" ry="60" fill="#9aa6e0" opacity="0.45"/>
</g>
<g filter="url(#bl3)">
<path d="M228,305 L262,250 L297,238 L297,348 L250,342 Z" fill="#3f68de"/>
<path d="M120,340 C140,310 200,305 235,320 L258,345 L235,400 L215,440 L255,470 L120,470 C105,430 108,370 120,340 Z" fill="#2f62dc"/>
<path d="M215,400 C235,378 280,372 297,398 L297,442 L240,446 Z" fill="#d8d0d4"/>
<path d="M238,430 L262,412 L282,440 L250,466 Z" fill="#7a1a1a"/>
<path d="M250,442 L297,450 L297,470 L238,470 Z" fill="#2f62dc"/>
<ellipse cx="285" cy="345" rx="11" ry="16" fill="#40b494" opacity="0.85"/>
<ellipse cx="312" cy="395" rx="9" ry="26" fill="#7cc4a4" opacity="0.5"/>
</g>
</g>
<path d="M90,303 L106,330 L100,348 L96,330 Z" fill="#d4d4d8" opacity="0.85"/>
<line x1="298" x2="300" y1="92" y2="470" stroke="#3a2a28" stroke-width="5.5"/>
</g>
<g transform="translate(140 325) scale(0.14828)">
<clipPath id="clipM"><path d="M255,48 C280,40 300,50 305,62 C312,48 340,42 360,55 C385,75 392,140 385,195 C440,215 520,290 550,370 C575,440 560,540 520,600 C535,640 530,700 500,740 C470,775 420,785 375,790 L365,828 C330,838 250,838 215,828 L208,790 C160,785 100,770 70,735 C45,700 45,650 55,610 C20,540 15,440 40,370 C70,290 150,220 218,198 C208,140 215,70 255,48 Z"/></clipPath>
<path d="M255,48 C280,40 300,50 305,62 C312,48 340,42 360,55 C385,75 392,140 385,195 C440,215 520,290 550,370 C575,440 560,540 520,600 C535,640 530,700 500,740 C470,775 420,785 375,790 L365,828 C330,838 250,838 215,828 L208,790 C160,785 100,770 70,735 C45,700 45,650 55,610 C20,540 15,440 40,370 C70,290 150,220 218,198 C208,140 215,70 255,48 Z" fill="url(#brainM)" filter="url(#bl3)"/>
<g clip-path="url(#clipM)">
<g filter="url(#bl10)">
<ellipse cx="130" cy="330" rx="70" ry="90" fill="#c0c0c8" opacity="0.5"/>
<ellipse cx="470" cy="265" rx="50" ry="50" fill="#b8b8c0" opacity="0.4"/>
<ellipse cx="315" cy="520" rx="95" ry="95" fill="#b4a4ac" opacity="0.6"/>
<ellipse cx="290" cy="705" rx="245" ry="88" fill="#9c9ca4"/>
<ellipse cx="290" cy="650" rx="130" ry="35" fill="#c0c0c8" opacity="0.5"/>
<ellipse cx="290" cy="808" rx="78" ry="26" fill="#b0b0b8"/>
</g>
<g filter="url(#bl8)">
<ellipse cx="190" cy="690" rx="42" ry="66" fill="#7a5a5e" opacity="0.9"/>
<ellipse cx="360" cy="690" rx="38" ry="66" fill="#7a5a5e" opacity="0.9"/>
<ellipse cx="465" cy="690" rx="32" ry="50" fill="#886a6e" opacity="0.85"/>
<ellipse cx="315" cy="692" rx="15" ry="12" fill="#7a8cd8" opacity="0.8"/>
<path d="M230,135 C260,120 295,125 303,135 L303,405 L150,405 C140,350 150,280 215,235 C210,200 215,160 230,135 Z" fill="#6f88e2" opacity="0.85"/>
<path d="M307,105 C340,95 385,120 385,195 C400,230 405,290 400,335 L307,335 Z" fill="#7a92e4" opacity="0.85"/>
<ellipse cx="350" cy="150" rx="34" ry="46" fill="#5a7ce2" opacity="0.8"/>
<path d="M232,140 C255,125 290,125 303,135 L303,235 L222,238 C215,200 220,165 232,140 Z" fill="#5676e0" opacity="0.75"/>
<ellipse cx="160" cy="535" rx="82" ry="66" fill="#8896dc" opacity="0.8"/>
<ellipse cx="455" cy="525" rx="55" ry="45" fill="#98a2dc" opacity="0.6"/>
<ellipse cx="330" cy="380" rx="40" ry="50" fill="#8a98dc" opacity="0.5"/>
</g>
<g filter="url(#bl5)">
<path d="M160,330 C165,280 230,230 303,225 L303,400 L190,400 C165,385 158,355 160,330 Z" fill="#5274e0" opacity="0.88"/>
<ellipse cx="215" cy="310" rx="55" ry="24" fill="#3f9ad0" opacity="0.6"/>
<ellipse cx="198" cy="305" rx="34" ry="13" fill="#3fc8a4"/>
<ellipse cx="250" cy="262" rx="30" ry="10" transform="rotate(-10 250 262)" fill="#c8c8d4" opacity="0.92"/>
<ellipse cx="248" cy="290" rx="20" ry="6" fill="#b8bcd8" opacity="0.85"/>
<path d="M95,440 C130,415 220,415 255,440 C240,475 140,485 95,465 Z" fill="#8e3c3a" opacity="0.95"/>
<ellipse cx="160" cy="450" rx="45" ry="13" fill="#b44238" opacity="0.8"/>
<path d="M345,400 C360,330 420,300 480,310 C525,330 540,400 520,460 C480,500 380,490 350,450 Z" fill="#7c4848" opacity="0.95"/>
<ellipse cx="465" cy="370" rx="37" ry="32" fill="#d24a36"/>
</g>
</g>
<path d="M85,408 H305 V58" fill="none" stroke="#2a2022" stroke-width="5.5"/>
</g>
<g transform="translate(255 320) scale(0.153846)">
<clipPath id="clipR"><path d="M275,55 C300,55 325,72 350,110 C370,135 382,165 390,200 C400,240 420,280 440,300 L470,290 L460,340 C470,380 472,420 465,470 C460,520 445,555 420,580 C445,590 458,620 460,660 C458,700 445,740 400,790 C370,812 320,815 300,790 L290,740 C255,735 180,715 140,680 C122,660 118,620 130,580 C105,550 95,490 95,440 C98,400 125,350 150,300 C165,265 175,240 180,220 C190,185 205,150 215,140 C222,110 235,65 275,55 Z"/></clipPath>
<path d="M275,55 C300,55 325,72 350,110 C370,135 382,165 390,200 C400,240 420,280 440,300 L470,290 L460,340 C470,380 472,420 465,470 C460,520 445,555 420,580 C445,590 458,620 460,660 C458,700 445,740 400,790 C370,812 320,815 300,790 L290,740 C255,735 180,715 140,680 C122,660 118,620 130,580 C105,550 95,490 95,440 C98,400 125,350 150,300 C165,265 175,240 180,220 C190,185 205,150 215,140 C222,110 235,65 275,55 Z" fill="url(#brainR)" filter="url(#bl3)"/>
<g clip-path="url(#clipR)">
<g filter="url(#bl8)">
<ellipse cx="215" cy="180" rx="40" ry="90" transform="rotate(15 215 180)" fill="#b6b6be" opacity="0.8"/>
<ellipse cx="205" cy="275" rx="32" ry="50" transform="rotate(20 205 275)" fill="#9c9ca4" opacity="0.8"/>
<ellipse cx="180" cy="590" rx="70" ry="130" fill="#84848a"/>
<ellipse cx="160" cy="545" rx="26" ry="62" fill="#d89870" opacity="0.75"/>
<ellipse cx="205" cy="660" rx="32" ry="26" fill="#b07858" opacity="0.55"/>
<ellipse cx="230" cy="520" rx="25" ry="50" fill="#c4c4c8" opacity="0.6"/>
<ellipse cx="375" cy="700" rx="85" ry="110" fill="#96969e"/>
<ellipse cx="330" cy="705" rx="28" ry="55" fill="#707078" opacity="0.7"/>
<ellipse cx="425" cy="250" rx="45" ry="85" fill="#9e9ea6" opacity="0.95"/>
<ellipse cx="300" cy="80" rx="40" ry="22" fill="#b8b8be"/>
</g>
<g filter="url(#bl8)">
<path d="M278,130 C315,118 345,135 350,180 C350,225 365,265 400,300 C440,330 458,390 452,470 C445,540 410,600 350,625 C320,632 300,625 290,615 C258,595 245,540 250,470 L278,430 Z" fill="#8098ec" opacity="0.9"/>
<ellipse cx="320" cy="495" rx="40" ry="40" fill="#70b4ba" opacity="0.45"/>
<ellipse cx="318" cy="320" rx="24" ry="32" fill="#ccd6f8" opacity="0.7"/>
</g>
<g filter="url(#bl3)">
<path d="M232,170 C240,150 260,142 276,142 L276,240 L245,240 C232,222 228,192 232,170 Z" fill="#2f5fdc"/>
<path d="M276,285 L276,352 L238,330 Z" fill="#2f5fdc"/>
<path d="M120,428 C125,360 170,310 215,312 C255,318 276,370 276,430 Z" fill="#6a1414"/>
<path d="M140,400 C150,355 185,328 218,330 C240,336 255,352 262,380 C225,365 180,375 140,400 Z" fill="#a02a2a" opacity="0.9"/>
<ellipse cx="215" cy="426" rx="10" ry="5" fill="#3050c8"/>
<ellipse cx="412" cy="608" rx="36" ry="18" fill="#f2f2f6"/>
<ellipse cx="405" cy="690" rx="10" ry="13" fill="#5a70d0" opacity="0.8"/>
</g>
</g>
<line x1="275" x2="276" y1="60" y2="432" stroke="#4a3a38" stroke-width="4.5"/>
</g>
<rect x="227.4" y="312.3" width="7.4" height="151.7" fill="url(#cbBlue)"/>
<rect x="241.8" y="312.3" width="7.4" height="151.7" fill="url(#cbHot)" stroke="#f2f2f2" stroke-width="0.5"/>
<g font-family='"Liberation Serif", "Times New Roman", serif' font-size="5.4" fill="#fff" text-anchor="middle">
<text transform="translate(240.2,321.5) rotate(-90)">4.8</text>
<text transform="translate(254.6,321.5) rotate(-90)">4.8</text>
<line x1="234.8" x2="236.2" y1="321.5" y2="321.5" stroke="#fff" stroke-width="0.4"/><line x1="249.4" x2="250.8" y1="321.5" y2="321.5" stroke="#fff" stroke-width="0.4"/>
<text transform="translate(240.2,355.2) rotate(-90)">4.2</text>
<text transform="translate(254.6,355.2) rotate(-90)">4.2</text>
<line x1="234.8" x2="236.2" y1="355.2" y2="355.2" stroke="#fff" stroke-width="0.4"/><line x1="249.4" x2="250.8" y1="355.2" y2="355.2" stroke="#fff" stroke-width="0.4"/>
<text transform="translate(240.2,387.9) rotate(-90)">3.6</text>
<text transform="translate(254.6,387.9) rotate(-90)">3.6</text>
<line x1="234.8" x2="236.2" y1="387.9" y2="387.9" stroke="#fff" stroke-width="0.4"/><line x1="249.4" x2="250.8" y1="387.9" y2="387.9" stroke="#fff" stroke-width="0.4"/>
<text transform="translate(240.2,420.6) rotate(-90)">3.0</text>
<text transform="translate(254.6,420.6) rotate(-90)">3.0</text>
<line x1="234.8" x2="236.2" y1="420.6" y2="420.6" stroke="#fff" stroke-width="0.4"/><line x1="249.4" x2="250.8" y1="420.6" y2="420.6" stroke="#fff" stroke-width="0.4"/>
<text transform="translate(240.2,453.3) rotate(-90)">2.4</text>
<text transform="translate(254.6,453.3) rotate(-90)">2.4</text>
<line x1="234.8" x2="236.2" y1="453.3" y2="453.3" stroke="#fff" stroke-width="0.4"/><line x1="249.4" x2="250.8" y1="453.3" y2="453.3" stroke="#fff" stroke-width="0.4"/>
</g>
<g font-family='"Liberation Serif", "Times New Roman", serif' font-size="7.6" fill="#fff" stroke="#fff" stroke-width="0.1">
<text x="110.9" y="352.8">OLF-L</text>
<text x="60.7" y="402.7">HY-L</text>
<text x="151" y="352.9">OLF-L</text>
<text x="198.2" y="345.8">OLF-R</text>
<text x="200.6" y="357.5">ORB-R</text>
<text x="206.3" y="378.5">SS-R</text>
<text x="202.7" y="393.9">BG-DR</text>
<text x="209.8" y="402.9">HY-R</text>
<text x="182.6" y="409.6">TH-R</text>
<text x="208.4" y="415.3">HIP-R</text>
<text x="135.8" y="406.1">HY-L</text>
<text x="263" y="349.4">ORB-R</text>
<text x="311" y="343.0">OLF-R</text>
<text x="256.2" y="378.1">SS-R</text>
<text x="276.7" y="395.9">TH-R</text>
<text x="317.4" y="403.1">BG-DR</text>
<text x="276.6" y="415.3">HY-R</text>
<text x="301.4" y="415.3">HIP-R</text>
</g>
<g font-family='"Liberation Sans", Arial, sans-serif'>
<text x="0.2" y="510.8" font-size="43.2" fill="#000" stroke="#000" stroke-width="0.3">e</text>
<path d="M49.4 508 V633.7 H371" fill="none" stroke="#222" stroke-width="0.8"/>
<line x1="47.4" x2="49.4" y1="513.6" y2="513.6" stroke="#222" stroke-width="0.6"/>
<text x="45.6" y="515.9" text-anchor="end" font-size="6.5" fill="#404040" stroke="#404040" stroke-width="0.4">1.5</text>
<line x1="47.4" x2="49.4" y1="551.6" y2="551.6" stroke="#222" stroke-width="0.6"/>
<text x="45.6" y="553.9" text-anchor="end" font-size="6.5" fill="#404040" stroke="#404040" stroke-width="0.4">1.0</text>
<line x1="47.4" x2="49.4" y1="589.6" y2="589.6" stroke="#222" stroke-width="0.6"/>
<text x="45.6" y="591.9" text-anchor="end" font-size="6.5" fill="#404040" stroke="#404040" stroke-width="0.4">0.5</text>
<line x1="47.4" x2="49.4" y1="627.8" y2="627.8" stroke="#222" stroke-width="0.6"/>
<text x="45.6" y="630.0999999999999" text-anchor="end" font-size="6.5" fill="#404040" stroke="#404040" stroke-width="0.4">0.0</text>
<text transform="translate(31.6,571.4) rotate(-90)" text-anchor="middle" font-size="5" fill="#222">SUV</text>
<rect x="59.9" y="538.5" width="10.55" height="89.3" fill="#E64B35" stroke="#222" stroke-width="0.7"/>
<rect x="70.45" y="541.6" width="10.55" height="86.2" fill="#4DBBD5" stroke="#222" stroke-width="0.7"/>
<line x1="70.45" x2="70.45" y1="633.7" y2="635.7" stroke="#222" stroke-width="0.6"/>
<text transform="translate(75.35,640.0) rotate(-60)" text-anchor="end" font-size="8.3" fill="#404040" stroke="#404040" stroke-width="0.4">BG−DL</text>
<text x="70.45" y="530.5" text-anchor="middle" font-size="8.5" font-weight="bold" fill="#222">*</text>
<path d="M65.17 536.9 V540.1 M63.57 536.9 h3.2" stroke="#111" stroke-width="0.5" fill="none"/>
<path d="M75.73 540.5 V542.7 M74.13 540.5 h3.2" stroke="#111" stroke-width="0.5" fill="none"/>
<rect x="94.9" y="540.7" width="10.55" height="87.1" fill="#E64B35" stroke="#222" stroke-width="0.7"/>
<rect x="105.45" y="544.3" width="10.55" height="83.5" fill="#4DBBD5" stroke="#222" stroke-width="0.7"/>
<line x1="105.45" x2="105.45" y1="633.7" y2="635.7" stroke="#222" stroke-width="0.6"/>
<text transform="translate(110.35,640.0) rotate(-60)" text-anchor="end" font-size="8.3" fill="#404040" stroke="#404040" stroke-width="0.4">HIP−R</text>
<text x="105.45" y="538.0" text-anchor="middle" font-size="8.5" font-weight="bold" fill="#222">*</text>
<path d="M100.18 539.1 V542.3000000000001 M98.58 539.1 h3.2" stroke="#111" stroke-width="0.5" fill="none"/>
<path d="M110.73 543.1999999999999 V545.4 M109.13 543.1999999999999 h3.2" stroke="#111" stroke-width="0.5" fill="none"/>
<rect x="129.5" y="560.4" width="10.55" height="67.4" fill="#E64B35" stroke="#222" stroke-width="0.7"/>
<rect x="140.05" y="567.1" width="10.55" height="60.7" fill="#4DBBD5" stroke="#222" stroke-width="0.7"/>
<line x1="140.05" x2="140.05" y1="633.7" y2="635.7" stroke="#222" stroke-width="0.6"/>
<text transform="translate(144.95,640.0) rotate(-60)" text-anchor="end" font-size="8.3" fill="#404040" stroke="#404040" stroke-width="0.4">HY−L</text>
<text x="140.05" y="545.7" text-anchor="middle" font-size="8.5" font-weight="bold" fill="#222">**</text>
<path d="M134.78 558.8 V562.0 M133.18 558.8 h3.2" stroke="#111" stroke-width="0.5" fill="none"/>
<path d="M145.33 566.0 V568.2 M143.73 566.0 h3.2" stroke="#111" stroke-width="0.5" fill="none"/>
<rect x="164.8" y="561.5" width="10.55" height="66.3" fill="#E64B35" stroke="#222" stroke-width="0.7"/>
<rect x="175.35" y="567.1" width="10.55" height="60.7" fill="#4DBBD5" stroke="#222" stroke-width="0.7"/>
<line x1="175.35" x2="175.35" y1="633.7" y2="635.7" stroke="#222" stroke-width="0.6"/>
<text transform="translate(180.25,640.0) rotate(-60)" text-anchor="end" font-size="8.3" fill="#404040" stroke="#404040" stroke-width="0.4">HY−R</text>
<text x="175.35" y="545.7" text-anchor="middle" font-size="8.5" font-weight="bold" fill="#222">**</text>
<path d="M170.08 559.9 V563.1 M168.48 559.9 h3.2" stroke="#111" stroke-width="0.5" fill="none"/>
<path d="M180.63 566.0 V568.2 M179.03 566.0 h3.2" stroke="#111" stroke-width="0.5" fill="none"/>
<rect x="199.4" y="550.4" width="10.55" height="77.4" fill="#E64B35" stroke="#222" stroke-width="0.7"/>
<rect x="209.95" y="555.4" width="10.55" height="72.4" fill="#4DBBD5" stroke="#222" stroke-width="0.7"/>
<line x1="209.95" x2="209.95" y1="633.7" y2="635.7" stroke="#222" stroke-width="0.6"/>
<text transform="translate(214.85,640.0) rotate(-60)" text-anchor="end" font-size="8.3" fill="#404040" stroke="#404040" stroke-width="0.4">OLF−L</text>
<text x="209.95" y="530.5" text-anchor="middle" font-size="8.5" font-weight="bold" fill="#222">*</text>
<path d="M204.68 548.8 V552.0 M203.08 548.8 h3.2" stroke="#111" stroke-width="0.5" fill="none"/>
<path d="M215.23 554.3 V556.5 M213.63 554.3 h3.2" stroke="#111" stroke-width="0.5" fill="none"/>
<rect x="234.4" y="548.5" width="10.55" height="79.3" fill="#E64B35" stroke="#222" stroke-width="0.7"/>
<rect x="244.95" y="553.8" width="10.55" height="74.0" fill="#4DBBD5" stroke="#222" stroke-width="0.7"/>
<line x1="244.95" x2="244.95" y1="633.7" y2="635.7" stroke="#222" stroke-width="0.6"/>
<text transform="translate(249.85,640.0) rotate(-60)" text-anchor="end" font-size="8.3" fill="#404040" stroke="#404040" stroke-width="0.4">OLF−R</text>
<text x="244.95" y="538.0" text-anchor="middle" font-size="8.5" font-weight="bold" fill="#222">*</text>
<path d="M239.68 546.9 V550.1 M238.08 546.9 h3.2" stroke="#111" stroke-width="0.5" fill="none"/>
<path d="M250.23 552.6999999999999 V554.9 M248.63 552.6999999999999 h3.2" stroke="#111" stroke-width="0.5" fill="none"/>
<rect x="269.3" y="535.7" width="10.55" height="92.1" fill="#E64B35" stroke="#222" stroke-width="0.7"/>
<rect x="279.85" y="541.0" width="10.55" height="86.8" fill="#4DBBD5" stroke="#222" stroke-width="0.7"/>
<line x1="279.85" x2="279.85" y1="633.7" y2="635.7" stroke="#222" stroke-width="0.6"/>
<text transform="translate(284.75,640.0) rotate(-60)" text-anchor="end" font-size="8.3" fill="#404040" stroke="#404040" stroke-width="0.4">ORB−R</text>
<text x="279.85" y="530.5" text-anchor="middle" font-size="8.5" font-weight="bold" fill="#222">*</text>
<path d="M274.57 534.1 V537.3000000000001 M272.97 534.1 h3.2" stroke="#111" stroke-width="0.5" fill="none"/>
<path d="M285.12 539.9 V542.1 M283.52 539.9 h3.2" stroke="#111" stroke-width="0.5" fill="none"/>
<rect x="304.3" y="550.4" width="10.55" height="77.4" fill="#E64B35" stroke="#222" stroke-width="0.7"/>
<rect x="314.85" y="541.3" width="10.55" height="86.5" fill="#4DBBD5" stroke="#222" stroke-width="0.7"/>
<line x1="314.85" x2="314.85" y1="633.7" y2="635.7" stroke="#222" stroke-width="0.6"/>
<text transform="translate(319.75,640.0) rotate(-60)" text-anchor="end" font-size="8.3" fill="#404040" stroke="#404040" stroke-width="0.4">SS−R</text>
<text x="314.85" y="530.5" text-anchor="middle" font-size="8.5" font-weight="bold" fill="#222">*</text>
<path d="M309.57 548.8 V552.0 M307.97 548.8 h3.2" stroke="#111" stroke-width="0.5" fill="none"/>
<path d="M320.12 540.1999999999999 V542.4 M318.52 540.1999999999999 h3.2" stroke="#111" stroke-width="0.5" fill="none"/>
<rect x="339.2" y="541.0" width="10.55" height="86.8" fill="#E64B35" stroke="#222" stroke-width="0.7"/>
<rect x="349.75" y="536.6" width="10.55" height="91.2" fill="#4DBBD5" stroke="#222" stroke-width="0.7"/>
<line x1="349.75" x2="349.75" y1="633.7" y2="635.7" stroke="#222" stroke-width="0.6"/>
<text transform="translate(354.65,640.0) rotate(-60)" text-anchor="end" font-size="8.3" fill="#404040" stroke="#404040" stroke-width="0.4">TH−R</text>
<text x="349.75" y="530.5" text-anchor="middle" font-size="8.5" font-weight="bold" fill="#222">*</text>
<path d="M344.47 539.4 V542.6 M342.87 539.4 h3.2" stroke="#111" stroke-width="0.5" fill="none"/>
<path d="M355.02 535.5 V537.7 M353.42 535.5 h3.2" stroke="#111" stroke-width="0.5" fill="none"/>
<circle cx="63.5" cy="536.4" r="1.05" fill="#000"/>
<circle cx="64.5" cy="538.2" r="1.05" fill="#000"/>
<circle cx="65.9" cy="538.7" r="1.05" fill="#000"/>
<circle cx="66.8" cy="537.8" r="1.05" fill="#000"/>
<circle cx="64.0" cy="539.6" r="1.05" fill="#000"/>
<circle cx="65.4" cy="539.6" r="1.05" fill="#000"/>
<circle cx="75.2" cy="539.9" r="1.05" fill="#000"/>
<circle cx="76.4" cy="541.5" r="1.05" fill="#000"/>
<circle cx="77.6" cy="542.2" r="1.05" fill="#000"/>
<circle cx="75.7" cy="542.7" r="1.05" fill="#000"/>
<circle cx="78.0" cy="542.9" r="1.05" fill="#000"/>
<circle cx="96.7" cy="538.2" r="1.05" fill="#000"/>
<circle cx="98.6" cy="539.9" r="1.05" fill="#000"/>
<circle cx="100.2" cy="541.0" r="1.05" fill="#000"/>
<circle cx="101.9" cy="539.2" r="1.05" fill="#000"/>
<circle cx="99.1" cy="542.7" r="1.05" fill="#000"/>
<circle cx="100.9" cy="543.4" r="1.05" fill="#000"/>
<circle cx="102.6" cy="537.5" r="1.05" fill="#000"/>
<circle cx="109.6" cy="543.4" r="1.05" fill="#000"/>
<circle cx="111.2" cy="544.1" r="1.05" fill="#000"/>
<circle cx="112.6" cy="544.5" r="1.05" fill="#000"/>
<circle cx="110.3" cy="545.2" r="1.05" fill="#000"/>
<circle cx="113.5" cy="544.1" r="1.05" fill="#000"/>
<circle cx="130.6" cy="556.2" r="1.05" fill="#000"/>
<circle cx="132.9" cy="558.5" r="1.05" fill="#000"/>
<circle cx="135.3" cy="559.7" r="1.05" fill="#000"/>
<circle cx="134.1" cy="563.2" r="1.05" fill="#000"/>
<circle cx="132.9" cy="568.4" r="1.05" fill="#000"/>
<circle cx="138.3" cy="562.0" r="1.05" fill="#000"/>
<circle cx="131.8" cy="560.2" r="1.05" fill="#000"/>
<circle cx="145.3" cy="564.4" r="1.05" fill="#000"/>
<circle cx="146.9" cy="566.0" r="1.05" fill="#000"/>
<circle cx="148.6" cy="567.9" r="1.05" fill="#000"/>
<circle cx="150.0" cy="569.5" r="1.05" fill="#000"/>
<circle cx="146.2" cy="567.9" r="1.05" fill="#000"/>
<circle cx="166.3" cy="559.7" r="1.05" fill="#000"/>
<circle cx="168.7" cy="560.9" r="1.05" fill="#000"/>
<circle cx="171.0" cy="559.2" r="1.05" fill="#000"/>
<circle cx="169.6" cy="563.2" r="1.05" fill="#000"/>
<circle cx="166.8" cy="567.9" r="1.05" fill="#000"/>
<circle cx="171.9" cy="558.5" r="1.05" fill="#000"/>
<circle cx="170.3" cy="561.6" r="1.05" fill="#000"/>
<circle cx="178.9" cy="567.4" r="1.05" fill="#000"/>
<circle cx="180.3" cy="566.7" r="1.05" fill="#000"/>
<circle cx="182.0" cy="566.0" r="1.05" fill="#000"/>
<circle cx="183.1" cy="565.6" r="1.05" fill="#000"/>
<circle cx="202.7" cy="541.6" r="1.05" fill="#000"/>
<circle cx="200.8" cy="549.9" r="1.05" fill="#000"/>
<circle cx="203.6" cy="551.0" r="1.05" fill="#000"/>
<circle cx="205.5" cy="549.1" r="1.05" fill="#000"/>
<circle cx="207.2" cy="551.8" r="1.05" fill="#000"/>
<circle cx="204.4" cy="552.7" r="1.05" fill="#000"/>
<circle cx="202.2" cy="551.8" r="1.05" fill="#000"/>
<circle cx="212.7" cy="554.6" r="1.05" fill="#000"/>
<circle cx="214.7" cy="555.4" r="1.05" fill="#000"/>
<circle cx="216.6" cy="554.9" r="1.05" fill="#000"/>
<circle cx="218.3" cy="555.4" r="1.05" fill="#000"/>
<circle cx="235.5" cy="548.5" r="1.05" fill="#000"/>
<circle cx="237.7" cy="546.6" r="1.05" fill="#000"/>
<circle cx="239.6" cy="549.1" r="1.05" fill="#000"/>
<circle cx="241.6" cy="544.9" r="1.05" fill="#000"/>
<circle cx="240.5" cy="551.0" r="1.05" fill="#000"/>
<circle cx="243.2" cy="548.5" r="1.05" fill="#000"/>
<circle cx="236.9" cy="550.4" r="1.05" fill="#000"/>
<circle cx="248.0" cy="553.2" r="1.05" fill="#000"/>
<circle cx="249.9" cy="554.0" r="1.05" fill="#000"/>
<circle cx="252.1" cy="553.8" r="1.05" fill="#000"/>
<circle cx="254.1" cy="553.2" r="1.05" fill="#000"/>
<circle cx="271.0" cy="533.8" r="1.05" fill="#000"/>
<circle cx="272.9" cy="535.2" r="1.05" fill="#000"/>
<circle cx="274.9" cy="536.6" r="1.05" fill="#000"/>
<circle cx="276.5" cy="534.4" r="1.05" fill="#000"/>
<circle cx="274.3" cy="540.7" r="1.05" fill="#000"/>
<circle cx="271.5" cy="536.6" r="1.05" fill="#000"/>
<circle cx="276.0" cy="536.0" r="1.05" fill="#000"/>
<circle cx="283.2" cy="539.9" r="1.05" fill="#000"/>
<circle cx="285.4" cy="539.3" r="1.05" fill="#000"/>
<circle cx="287.6" cy="540.5" r="1.05" fill="#000"/>
<circle cx="289.6" cy="541.3" r="1.05" fill="#000"/>
<circle cx="306.8" cy="542.7" r="1.05" fill="#000"/>
<circle cx="308.2" cy="546.3" r="1.05" fill="#000"/>
<circle cx="310.4" cy="549.9" r="1.05" fill="#000"/>
<circle cx="309.0" cy="552.7" r="1.05" fill="#000"/>
<circle cx="310.9" cy="558.8" r="1.05" fill="#000"/>
<circle cx="312.6" cy="551.0" r="1.05" fill="#000"/>
<circle cx="307.6" cy="550.4" r="1.05" fill="#000"/>
<circle cx="318.1" cy="539.9" r="1.05" fill="#000"/>
<circle cx="320.1" cy="542.7" r="1.05" fill="#000"/>
<circle cx="322.0" cy="541.6" r="1.05" fill="#000"/>
<circle cx="324.2" cy="538.0" r="1.05" fill="#000"/>
<circle cx="320.9" cy="544.3" r="1.05" fill="#000"/>
<circle cx="340.9" cy="539.9" r="1.05" fill="#000"/>
<circle cx="343.1" cy="538.8" r="1.05" fill="#000"/>
<circle cx="345.0" cy="541.6" r="1.05" fill="#000"/>
<circle cx="346.4" cy="539.3" r="1.05" fill="#000"/>
<circle cx="343.7" cy="543.5" r="1.05" fill="#000"/>
<circle cx="342.3" cy="541.6" r="1.05" fill="#000"/>
<circle cx="345.9" cy="542.7" r="1.05" fill="#000"/>
<circle cx="353.4" cy="536.0" r="1.05" fill="#000"/>
<circle cx="355.3" cy="534.4" r="1.05" fill="#000"/>
<circle cx="357.5" cy="536.6" r="1.05" fill="#000"/>
<circle cx="359.8" cy="536.0" r="1.05" fill="#000"/>
<circle cx="356.4" cy="537.7" r="1.05" fill="#000"/>
<rect x="180.4" y="487.3" width="9.6" height="9.6" fill="#E64B35" stroke="#111" stroke-width="0.6"/><circle cx="185.2" cy="492.1" r="0.9" fill="#000"/>
<rect x="212.6" y="487.3" width="9.6" height="9.6" fill="#4DBBD5" stroke="#111" stroke-width="0.6"/><circle cx="217.4" cy="492.1" r="0.9" fill="#000"/>
<text x="193.7" y="494" font-size="5.2" fill="#111">Flea−</text>
<text x="225.7" y="494" font-size="5.2" fill="#111">Flea+</text>
</g>
<defs>
<clipPath id="petclip"><rect x="0" y="0" width="102.4" height="79.6"/></clipPath>
<clipPath id="gclip"><rect x="220" y="670" width="40" height="35.6"/></clipPath>
<linearGradient id="petbg" x1="0" y1="0" x2="0" y2="1"><stop offset="0.14" stop-color="#040404"/><stop offset="0.5" stop-color="#101010"/><stop offset="0.86" stop-color="#242424"/></linearGradient>
<radialGradient id="rg"><stop offset="0" stop-color="#fff" stop-opacity="1"/><stop offset="0.55" stop-color="#fff" stop-opacity="0.78"/><stop offset="0.8" stop-color="#fff" stop-opacity="0.35"/><stop offset="1" stop-color="#fff" stop-opacity="0"/></radialGradient>
<filter id="viridis" filterUnits="userSpaceOnUse" x="-20" y="-20" width="142.4" height="119.6" color-interpolation-filters="sRGB">
<feGaussianBlur stdDeviation="4.3"/>
<feComponentTransfer><feFuncR type="table" tableValues="0.2667 0.2863 0.2549 0.2078 0.1647 0.1294 0.1333 0.2667 0.4784 0.7412 0.9922"/><feFuncG type="table" tableValues="0.1647 0.1725 0.2667 0.3725 0.4706 0.5686 0.6588 0.7490 0.8196 0.8745 0.9059"/><feFuncB type="table" tableValues="0.3294 0.4627 0.5294 0.5529 0.5569 0.5490 0.5176 0.4392 0.3176 0.1490 0.1451"/><feFuncA type="linear" slope="0" intercept="1"/></feComponentTransfer>
</filter>
</defs>
<g font-family='"Liberation Sans", Arial, sans-serif' font-size="42.6" fill="#000" stroke="#000" stroke-width="0.3">
<text transform="translate(11.6,710.4) scale(1.08,1)">f</text>
<text transform="translate(224.8,698.5) scale(1.06,1)">g</text>
<text transform="translate(453.7,710.2) scale(1.12,1)">h</text>
</g>
<g font-family='"Liberation Serif", "Times New Roman", serif' font-size="12.8" fill="#000" text-anchor="middle">
<text x="76.2" y="706.2">Flea-</text>
<text x="180" y="706.2">Flea+</text>
<text x="299.9" y="706.2">Flea-</text>
<text x="405" y="706.2">Flea+</text>
<text x="528.2" y="707.5">Flea-</text>
<text x="633.9" y="707.5">Flea+</text>
</g>
<g font-family='"Liberation Serif", "Times New Roman", serif' font-size="9.9" fill="#000" text-anchor="middle">
<text transform="translate(15.6,749.4) rotate(-90)">Slice - 2.60 mm</text>
<text transform="translate(15.6,838.2) rotate(-90)">Slice - 1.40 mm</text>
<text transform="translate(243.3,746.6) rotate(-90)">Slice - 0.60 mm</text>
<text transform="translate(243.3,837.7) rotate(-90)">Slice - 0.00 mm</text>
<text transform="translate(471.0,747.3) rotate(-90)">Slice - 2.40 mm</text>
<text transform="translate(471.0,837) rotate(-90)">Slice - 3.80 mm</text>
</g>
<g transform="translate(19.7 710.7) scale(0.9980 1.0050)" clip-path="url(#petclip)">
<g filter="url(#viridis)">
<rect x="-20" y="-20" width="142.4" height="119.6" fill="url(#petbg)"/>
<ellipse cx="51" cy="46" rx="72" ry="52" fill="url(#rg)" opacity="0.36"/>
<ellipse cx="51" cy="43" rx="44" ry="26" fill="#fff" opacity="0.38"/>
<ellipse cx="51" cy="58" rx="34" ry="12" fill="#fff" opacity="0.25"/>
<path d="M15,54 C15,30 22,24 36,23 L68,23 C82,24 88,32 88,58" fill="none" stroke="#fff" stroke-width="12" stroke-linecap="round" opacity="0.48"/>
<ellipse cx="31" cy="28" rx="12" ry="6" fill="#fff" opacity="0.8" transform="rotate(-38 31 28)"/>
<ellipse cx="67" cy="26.5" rx="14" ry="5.5" fill="#fff" opacity="0.75" transform="rotate(10 67 26.5)"/>
<ellipse cx="51" cy="46.5" rx="15" ry="6.2" fill="#fff" opacity="1.0"/>
<ellipse cx="51" cy="35.5" rx="10" ry="3.2" fill="#000" opacity="0.3"/>
</g>
<g transform="scale(0.15765) translate(-18 -20)" fill="none" stroke="#10221f" stroke-width="3.0" stroke-linejoin="round">
<path d="M215,155 L250,153 L262,165 L258,180 L270,190 L255,205 L225,218 L200,240 L185,270 L182,300 L195,330 L215,355 L240,375 L258,395 L245,400 L225,385 L205,375 L180,370 L160,350 L140,325 L128,295 L130,265 L140,240 L150,215 L170,190 L190,170 Z"/>
</g>
<g font-family='"Liberation Serif", "Times New Roman", serif' font-size="5.3" fill="#fff" stroke="#fff" stroke-width="0.18">
<text x="6.9" y="29.6">HIP-R</text>
</g>
</g>
<g transform="translate(127.0 710.7) scale(0.9961 1.0050)" clip-path="url(#petclip)">
<g filter="url(#viridis)">
<rect x="-20" y="-20" width="142.4" height="119.6" fill="url(#petbg)"/>
<ellipse cx="51" cy="46" rx="78" ry="54" fill="url(#rg)" opacity="0.38"/>
<ellipse cx="51" cy="43" rx="50" ry="27" fill="#fff" opacity="0.38"/>
<ellipse cx="51" cy="58" rx="40" ry="12" fill="#fff" opacity="0.25"/>
<path d="M8,54 C8,30 16,23 32,22 L70,22 C86,23 94,32 94,58" fill="none" stroke="#fff" stroke-width="12" stroke-linecap="round" opacity="0.5"/>
<ellipse cx="32" cy="28" rx="12" ry="6" fill="#fff" opacity="0.72" transform="rotate(-38 32 28)"/>
<ellipse cx="66" cy="25" rx="16" ry="5.5" fill="#fff" opacity="0.75" transform="rotate(6 66 25)"/>
<ellipse cx="50" cy="45" rx="16" ry="6.2" fill="#fff" opacity="1.0"/>
<ellipse cx="49" cy="33.5" rx="10" ry="3.5" fill="#000" opacity="0.3"/>
<ellipse cx="7" cy="44" rx="5" ry="10" fill="#fff" opacity="0.3"/>
<ellipse cx="95" cy="44" rx="5" ry="10" fill="#fff" opacity="0.3"/>
</g>
<g transform="scale(0.15765) translate(-18 -20)" fill="none" stroke="#10221f" stroke-width="3.0" stroke-linejoin="round">
<path d="M215,155 L250,153 L262,165 L258,180 L270,190 L255,205 L225,218 L200,240 L185,270 L182,300 L195,330 L215,355 L240,375 L258,395 L245,400 L225,385 L205,375 L180,370 L160,350 L140,325 L128,295 L130,265 L140,240 L150,215 L170,190 L190,170 Z"/>
</g>
<g font-family='"Liberation Serif", "Times New Roman", serif' font-size="5.3" fill="#fff" stroke="#fff" stroke-width="0.18">
<text x="6.9" y="29.6">HIP-R</text>
</g>
</g>
<g transform="translate(19.7 797.1) scale(0.9980 1.0050)" clip-path="url(#petclip)">
<g filter="url(#viridis)">
<rect x="-20" y="-20" width="142.4" height="119.6" fill="url(#petbg)"/>
<ellipse cx="51" cy="46" rx="72" ry="52" fill="url(#rg)" opacity="0.36"/>
<ellipse cx="51" cy="44" rx="45" ry="27" fill="#fff" opacity="0.38"/>
<ellipse cx="51" cy="60" rx="38" ry="13" fill="#fff" opacity="0.28"/>
<path d="M14,52 C14,14 90,14 90,54" fill="none" stroke="#fff" stroke-width="12" stroke-linecap="round" opacity="0.4"/>
<ellipse cx="29" cy="29" rx="10.8" ry="7.15" fill="#fff" opacity="0.92" transform="rotate(-35 29 29)"/>
<ellipse cx="76" cy="30.5" rx="10.26" ry="7.15" fill="#fff" opacity="0.92" transform="rotate(20 76 30.5)"/>
<ellipse cx="44" cy="44" rx="12.96" ry="9.9" fill="#fff" opacity="0.54"/>
<ellipse cx="64" cy="50" rx="14" ry="9" fill="#fff" opacity="0.25"/>
<ellipse cx="85" cy="62" rx="9" ry="8" fill="#fff" opacity="0.35"/>
<ellipse cx="16" cy="62" rx="9" ry="8" fill="#fff" opacity="0.2"/>
</g>
<g transform="scale(0.15765) translate(-18 -30)" fill="none" stroke="#10221f" stroke-width="3.0" stroke-linejoin="round">
<path d="M80,270 L90,240 L110,200 L150,150 L200,120 L240,118 L268,135 L265,155 L235,165 L200,190 L170,220 L150,250 L135,285 L85,285 Z"/>
<path d="M218,205 L235,180 L270,170 L300,178 L325,195 L335,215 L320,235 L305,245 L280,235 L255,225 L230,222 Z"/>
<path d="M150,265 L165,240 L185,232 L192,245 L182,275 L185,300 L192,330 L170,345 L150,350 L145,320 L150,290 Z"/>
<path d="M240,235 L270,240 L300,250 L328,245 L335,270 L335,330 L330,380 L300,370 L270,355 L240,345 L215,320 L205,295 L220,260 Z"/>
<path d="M232,372 a8,8 0 1,0 16,0 a8,8 0 1,0 -16,0 Z"/>
<path d="M270,360 L290,375 L335,380 L335,460 L310,465 L285,445 L270,420 L258,400 Z"/>
<path d="M345,385 L380,375 L415,360 L425,385 L430,410 L410,430 L390,455 L360,468 L352,440 Z"/>
</g>
<g font-family='"Liberation Serif", "Times New Roman", serif' font-size="5.3" fill="#fff" stroke="#fff" stroke-width="0.18">
<text x="1.1" y="29.9">SS-R</text>
<text x="46" y="22.8">HIP-R</text>
<text x="3.2" y="52">BG-DR</text>
<text x="33.7" y="45.6">TH-R</text>
<text x="27.9" y="74">HY-R</text>
<text x="63" y="74">HY-L</text>
</g>
</g>
<g transform="translate(127.0 797.1) scale(0.9961 1.0050)" clip-path="url(#petclip)">
<g filter="url(#viridis)">
<rect x="-20" y="-20" width="142.4" height="119.6" fill="url(#petbg)"/>
<ellipse cx="51" cy="46" rx="78" ry="54" fill="url(#rg)" opacity="0.38"/>
<ellipse cx="51" cy="44" rx="50" ry="28" fill="#fff" opacity="0.38"/>
<ellipse cx="51" cy="60" rx="42" ry="13" fill="#fff" opacity="0.28"/>
<path d="M9,52 C9,12 96,12 96,56" fill="none" stroke="#fff" stroke-width="12" stroke-linecap="round" opacity="0.42"/>
<ellipse cx="29" cy="30" rx="11.88" ry="6.6" fill="#fff" opacity="0.81" transform="rotate(-35 29 30)"/>
<ellipse cx="75" cy="27" rx="12.96" ry="6.05" fill="#fff" opacity="0.92" transform="rotate(18 75 27)"/>
<ellipse cx="44" cy="44" rx="11.88" ry="9.9" fill="#fff" opacity="0.54"/>
<ellipse cx="64" cy="52" rx="14" ry="9" fill="#fff" opacity="0.2"/>
<ellipse cx="88" cy="62" rx="9" ry="8" fill="#fff" opacity="0.32"/>
<ellipse cx="9" cy="52" rx="6" ry="10" fill="#fff" opacity="0.4"/>
</g>
<g transform="scale(0.15765) translate(-18 -30)" fill="none" stroke="#10221f" stroke-width="3.0" stroke-linejoin="round">
<path d="M80,270 L90,240 L110,200 L150,150 L200,120 L240,118 L268,135 L265,155 L235,165 L200,190 L170,220 L150,250 L135,285 L85,285 Z"/>
<path d="M218,205 L235,180 L270,170 L300,178 L325,195 L335,215 L320,235 L305,245 L280,235 L255,225 L230,222 Z"/>
<path d="M150,265 L165,240 L185,232 L192,245 L182,275 L185,300 L192,330 L170,345 L150,350 L145,320 L150,290 Z"/>
<path d="M240,235 L270,240 L300,250 L328,245 L335,270 L335,330 L330,380 L300,370 L270,355 L240,345 L215,320 L205,295 L220,260 Z"/>
<path d="M232,372 a8,8 0 1,0 16,0 a8,8 0 1,0 -16,0 Z"/>
<path d="M270,360 L290,375 L335,380 L335,460 L310,465 L285,445 L270,420 L258,400 Z"/>
<path d="M345,385 L380,375 L415,360 L425,385 L430,410 L410,430 L390,455 L360,468 L352,440 Z"/>
</g>
<g font-family='"Liberation Serif", "Times New Roman", serif' font-size="5.3" fill="#fff" stroke="#fff" stroke-width="0.18">
<text x="1.1" y="29.9">SS-R</text>
<text x="46" y="22.8">HIP-R</text>
<text x="3.2" y="52">BG-DR</text>
<text x="33.7" y="45.6">TH-R</text>
<text x="27.9" y="74">HY-R</text>
<text x="63" y="74">HY-L</text>
</g>
</g>
<g transform="translate(246.1 711.0) scale(1.0049 1.0138)" clip-path="url(#petclip)">
<g filter="url(#viridis)">
<rect x="-20" y="-20" width="142.4" height="119.6" fill="url(#petbg)"/>
<ellipse cx="52" cy="47" rx="64" ry="50" fill="url(#rg)" opacity="0.36"/>
<ellipse cx="52" cy="45" rx="44" ry="27" fill="#fff" opacity="0.42"/>
<ellipse cx="52" cy="60" rx="38" ry="13" fill="#fff" opacity="0.32"/>
<path d="M15,52 C15,16 90,16 90,54" fill="none" stroke="#fff" stroke-width="12" stroke-linecap="round" opacity="0.36"/>
<ellipse cx="27" cy="31" rx="10.8" ry="7.7" fill="#fff" opacity="0.95" transform="rotate(-38 27 31)"/>
<ellipse cx="77" cy="32" rx="10.26" ry="8.25" fill="#fff" opacity="0.95" transform="rotate(25 77 32)"/>
<ellipse cx="17" cy="60" rx="8" ry="8" fill="#fff" opacity="0.35"/>
<ellipse cx="86" cy="60" rx="8" ry="8" fill="#fff" opacity="0.35"/>
<ellipse cx="50" cy="24" rx="22" ry="5" fill="#fff" opacity="0.2"/>
<ellipse cx="52" cy="47" rx="10" ry="6" fill="#000" opacity="0.12"/>
</g>
<g transform="scale(0.15765) translate(-20 -20)" fill="none" stroke="#10221f" stroke-width="3.0" stroke-linejoin="round">
<path d="M92,290 L95,260 L105,225 L125,185 L160,145 L200,120 L250,105 L283,108 L280,130 L275,160 L240,175 L205,200 L175,235 L155,265 L150,295 Z"/>
<path d="M155,270 L175,240 L205,215 L235,210 L250,230 L245,250 L225,270 L235,300 L250,330 L250,350 L225,365 L195,385 L175,365 L160,340 L155,305 Z"/>
<path d="M265,280 L290,260 L310,255 L335,275 L340,305 L335,340 L315,350 L285,340 L268,320 Z"/>
<path d="M268,375 L285,355 L320,352 L340,370 L340,440 L320,445 L285,430 L265,410 Z"/>
<path d="M352,440 L355,390 L370,358 L400,350 L425,365 L438,395 L432,420 L400,435 L375,445 Z"/>
</g>
<g font-family='"Liberation Serif", "Times New Roman", serif' font-size="5.3" fill="#fff" stroke="#fff" stroke-width="0.18">
<text x="10.7" y="16.5">SS-R</text>
<text x="7.6" y="52.7">BG-DR</text>
<text x="49.7" y="40.1">TH-R</text>
<text x="28.4" y="71.7">HY-R</text>
<text x="63" y="71.7">HY-L</text>
</g>
</g>
<g transform="translate(354.2 711.0) scale(1.0029 1.0138)" clip-path="url(#petclip)">
<g filter="url(#viridis)">
<rect x="-20" y="-20" width="142.4" height="119.6" fill="url(#petbg)"/>
<ellipse cx="52" cy="47" rx="80" ry="54" fill="url(#rg)" opacity="0.38"/>
<ellipse cx="52" cy="45" rx="51" ry="28" fill="#fff" opacity="0.3"/>
<ellipse cx="52" cy="63" rx="42" ry="10" fill="#fff" opacity="0.24"/>
<path d="M8,52 C8,12 97,12 97,56" fill="none" stroke="#fff" stroke-width="12" stroke-linecap="round" opacity="0.55"/>
<ellipse cx="25" cy="30" rx="12" ry="6.6" fill="#fff" opacity="0.8" transform="rotate(-38 25 30)"/>
<ellipse cx="74" cy="28" rx="13" ry="6" fill="#fff" opacity="0.8" transform="rotate(22 74 28)"/>
<ellipse cx="10" cy="54" rx="7" ry="9" fill="#fff" opacity="0.55"/>
<ellipse cx="93" cy="52" rx="6" ry="9" fill="#fff" opacity="0.45"/>
<ellipse cx="50" cy="44" rx="14" ry="8" fill="#000" opacity="0.4"/>
<ellipse cx="50" cy="80" rx="16" ry="9" fill="#000" opacity="0.5"/>
</g>
<g transform="scale(0.15765) translate(-20 -20)" fill="none" stroke="#10221f" stroke-width="3.0" stroke-linejoin="round">
<path d="M92,290 L95,260 L105,225 L125,185 L160,145 L200,120 L250,105 L283,108 L280,130 L275,160 L240,175 L205,200 L175,235 L155,265 L150,295 Z"/>
<path d="M155,270 L175,240 L205,215 L235,210 L250,230 L245,250 L225,270 L235,300 L250,330 L250,350 L225,365 L195,385 L175,365 L160,340 L155,305 Z"/>
<path d="M265,280 L290,260 L310,255 L335,275 L340,305 L335,340 L315,350 L285,340 L268,320 Z"/>
<path d="M268,375 L285,355 L320,352 L340,370 L340,440 L320,445 L285,430 L265,410 Z"/>
<path d="M352,440 L355,390 L370,358 L400,350 L425,365 L438,395 L432,420 L400,435 L375,445 Z"/>
</g>
<g font-family='"Liberation Serif", "Times New Roman", serif' font-size="5.3" fill="#fff" stroke="#fff" stroke-width="0.18">
<text x="10.7" y="16.5">SS-R</text>
<text x="7.6" y="52.7">BG-DR</text>
<text x="49.7" y="40.1">TH-R</text>
<text x="28.4" y="71.7">HY-R</text>
<text x="63" y="71.7">HY-L</text>
</g>
</g>
<g transform="translate(246.1 796.1) scale(1.0049 1.0163)" clip-path="url(#petclip)">
<g filter="url(#viridis)">
<rect x="-20" y="-20" width="142.4" height="119.6" fill="url(#petbg)"/>
<ellipse cx="52" cy="49" rx="62" ry="50" fill="url(#rg)" opacity="0.36"/>
<ellipse cx="52" cy="46" rx="43" ry="27" fill="#fff" opacity="0.4"/>
<ellipse cx="52" cy="61" rx="37" ry="13" fill="#fff" opacity="0.3"/>
<path d="M17,54 C17,18 88,18 88,56" fill="none" stroke="#fff" stroke-width="12" stroke-linecap="round" opacity="0.38"/>
<ellipse cx="31" cy="33" rx="10.26" ry="7.15" fill="#fff" opacity="0.97" transform="rotate(-38 31 33)"/>
<ellipse cx="75" cy="33.5" rx="9.18" ry="7.7" fill="#fff" opacity="0.95" transform="rotate(25 75 33.5)"/>
<ellipse cx="52" cy="41" rx="11" ry="7" fill="#000" opacity="0.34"/>
<ellipse cx="24" cy="60" rx="8" ry="9" fill="#fff" opacity="0.36"/>
<ellipse cx="80" cy="60" rx="8" ry="9" fill="#fff" opacity="0.36"/>
<ellipse cx="52" cy="81" rx="13" ry="9" fill="#000" opacity="0.5"/>
</g>
<g transform="scale(0.15765) translate(-20 -27)" fill="none" stroke="#10221f" stroke-width="3.0" stroke-linejoin="round">
<path d="M105,300 L105,270 L125,225 L155,185 L195,150 L235,135 L258,140 L258,205 L230,215 L200,235 L175,265 L160,305 Z"/>
<path d="M165,290 L185,250 L215,225 L250,215 L275,225 L288,250 L285,280 L300,310 L320,340 L320,385 L300,395 L270,372 L240,372 L210,395 L185,388 L170,350 Z"/>
</g>
<g font-family='"Liberation Serif", "Times New Roman", serif' font-size="5.3" fill="#fff" stroke="#fff" stroke-width="0.18">
<text x="12.1" y="18.5">SS-R</text>
<text x="9.1" y="54.8">BG-DR</text>
</g>
</g>
<g transform="translate(354.2 796.1) scale(1.0029 1.0163)" clip-path="url(#petclip)">
<g filter="url(#viridis)">
<rect x="-20" y="-20" width="142.4" height="119.6" fill="url(#petbg)"/>
<ellipse cx="52" cy="48" rx="80" ry="54" fill="url(#rg)" opacity="0.38"/>
<ellipse cx="52" cy="46" rx="49" ry="28" fill="#fff" opacity="0.3"/>
<ellipse cx="52" cy="63" rx="42" ry="11" fill="#fff" opacity="0.24"/>
<path d="M11,56 C11,13 95,13 95,58" fill="none" stroke="#fff" stroke-width="12" stroke-linecap="round" opacity="0.55"/>
<ellipse cx="29" cy="30" rx="12" ry="6.6" fill="#fff" opacity="0.75" transform="rotate(-38 29 30)"/>
<ellipse cx="72" cy="28" rx="13" ry="6" fill="#fff" opacity="0.7" transform="rotate(20 72 28)"/>
<ellipse cx="53" cy="40" rx="13" ry="7" fill="#000" opacity="0.4"/>
<ellipse cx="19" cy="62" rx="8" ry="9" fill="#fff" opacity="0.45"/>
<ellipse cx="83" cy="60" rx="8" ry="9" fill="#fff" opacity="0.4"/>
<ellipse cx="52" cy="81" rx="16" ry="10" fill="#000" opacity="0.55"/>
</g>
<g transform="scale(0.15765) translate(-20 -27)" fill="none" stroke="#10221f" stroke-width="3.0" stroke-linejoin="round">
<path d="M105,300 L105,270 L125,225 L155,185 L195,150 L235,135 L258,140 L258,205 L230,215 L200,235 L175,265 L160,305 Z"/>
<path d="M165,290 L185,250 L215,225 L250,215 L275,225 L288,250 L285,280 L300,310 L320,340 L320,385 L300,395 L270,372 L240,372 L210,395 L185,388 L170,350 Z"/>
</g>
<g font-family='"Liberation Serif", "Times New Roman", serif' font-size="5.3" fill="#fff" stroke="#fff" stroke-width="0.18">
<text x="12.1" y="18.5">SS-R</text>
<text x="9.1" y="54.8">BG-DR</text>
</g>
</g>
<g transform="translate(472.1 710.8) scale(1.0146 1.0176)" clip-path="url(#petclip)">
<g filter="url(#viridis)">
<rect x="-20" y="-20" width="142.4" height="119.6" fill="url(#petbg)"/>
<ellipse cx="51" cy="64" rx="66" ry="50" fill="url(#rg)" opacity="0.5"/>
<path d="M25,68 L46,42 L56,42 L73,68" fill="none" stroke="#fff" stroke-width="15" stroke-linecap="round" opacity="0.5"/>
<ellipse cx="43" cy="42" rx="10" ry="7.5" fill="#fff" opacity="0.62"/>
<ellipse cx="72.5" cy="65.5" rx="7.5" ry="9" fill="#fff" opacity="0.68" transform="rotate(-30 72.5 65.5)"/>
<ellipse cx="24" cy="66" rx="7.5" ry="8.5" fill="#fff" opacity="0.25" transform="rotate(30 24 66)"/>
<ellipse cx="62" cy="50" rx="8" ry="6" fill="#fff" opacity="0.25"/>
<ellipse cx="51" cy="79" rx="9" ry="8" fill="#000" opacity="0.55"/>
</g>
<g transform="scale(0.15765) translate(-15 -18)" fill="none" stroke="#10221f" stroke-width="3.0" stroke-linejoin="round">
<path d="M240,300 L248,265 L270,238 L295,232 L325,245 L340,270 L340,300 L320,312 L295,298 L265,305 Z"/>
<path d="M238,335 L255,310 L290,298 L320,310 L335,335 L340,365 L315,390 L290,405 L265,385 L248,360 Z"/>
<path d="M352,365 L355,335 L375,315 L405,300 L435,312 L460,340 L445,365 L430,390 L405,408 L380,385 L360,378 Z"/>
</g>
<g font-family='"Liberation Serif", "Times New Roman", serif' font-size="5.3" fill="#fff" stroke="#fff" stroke-width="0.18">
<text x="29.6" y="28.6">ORB-R</text>
<text x="14.2" y="53.8">OLF-R</text>
<text x="70.9" y="57.8">OLF-L</text>
</g>
</g>
<g transform="translate(581.1 710.8) scale(1.0146 1.0176)" clip-path="url(#petclip)">
<g filter="url(#viridis)">
<rect x="-20" y="-20" width="142.4" height="119.6" fill="url(#petbg)"/>
<ellipse cx="52" cy="64" rx="74" ry="52" fill="url(#rg)" opacity="0.55"/>
<path d="M22,68 L44,40 L58,40 L84,68" fill="none" stroke="#fff" stroke-width="16" stroke-linecap="round" opacity="0.42"/>
<ellipse cx="27" cy="61" rx="9" ry="9" fill="#fff" opacity="0.5" transform="rotate(35 27 61)"/>
<ellipse cx="47" cy="41" rx="14" ry="9" fill="#fff" opacity="0.45"/>
<ellipse cx="86" cy="66" rx="8" ry="8" fill="#fff" opacity="0.1"/>
<ellipse cx="52" cy="81" rx="18" ry="10" fill="#000" opacity="0.6"/>
</g>
<g transform="scale(0.15765) translate(-15 -18)" fill="none" stroke="#10221f" stroke-width="3.0" stroke-linejoin="round">
<path d="M240,300 L248,265 L270,238 L295,232 L325,245 L340,270 L340,300 L320,312 L295,298 L265,305 Z"/>
<path d="M238,335 L255,310 L290,298 L320,310 L335,335 L340,365 L315,390 L290,405 L265,385 L248,360 Z"/>
<path d="M352,365 L355,335 L375,315 L405,300 L435,312 L460,340 L445,365 L430,390 L405,408 L380,385 L360,378 Z"/>
</g>
<g font-family='"Liberation Serif", "Times New Roman", serif' font-size="5.3" fill="#fff" stroke="#fff" stroke-width="0.18">
<text x="28.9" y="28.6">ORB-R</text>
<text x="15.8" y="55.9">OLF-R</text>
<text x="70.2" y="55.9">OLF-L</text>
</g>
</g>
<g transform="translate(472.1 796.1) scale(1.0146 1.0176)" clip-path="url(#petclip)">
<g filter="url(#viridis)">
<rect x="-20" y="-20" width="142.4" height="119.6" fill="url(#petbg)"/>
<ellipse cx="51" cy="68" rx="66" ry="50" fill="url(#rg)" opacity="0.48"/>
<path d="M24,68 L44,44 L60,44 L77,66" fill="none" stroke="#fff" stroke-width="15" stroke-linecap="round" opacity="0.4"/>
<ellipse cx="21.5" cy="67.5" rx="9.5" ry="9" fill="#fff" opacity="0.85" transform="rotate(35 21.5 67.5)"/>
<ellipse cx="77" cy="66" rx="10" ry="9.5" fill="#fff" opacity="1.0" transform="rotate(-35 77 66)"/>
<ellipse cx="46" cy="43" rx="6.5" ry="9" fill="#fff" opacity="0.45"/>
<ellipse cx="63" cy="44" rx="5" ry="7" fill="#fff" opacity="0.25"/>
<ellipse cx="52" cy="81" rx="10" ry="8" fill="#000" opacity="0.55"/>
</g>
<g transform="scale(0.15765) translate(-18 -27)" fill="none" stroke="#10221f" stroke-width="3.0" stroke-linejoin="round">
<path d="M242,290 L250,250 L275,228 L310,222 L335,235 L345,270 L345,330 L335,375 L320,400 L295,402 L275,380 L255,340 Z"/>
<path d="M362,270 L370,235 L395,222 L430,228 L455,250 L462,285 L455,330 L435,375 L410,400 L385,402 L370,375 L362,330 Z"/>
</g>
<g font-family='"Liberation Serif", "Times New Roman", serif' font-size="5.3" fill="#fff" stroke="#fff" stroke-width="0.18">
<text x="20" y="50.1">OLF-R</text>
<text x="70.9" y="50.1">OLF-L</text>
</g>
</g>
<g transform="translate(581.1 796.1) scale(1.0146 1.0176)" clip-path="url(#petclip)">
<g filter="url(#viridis)">
<rect x="-20" y="-20" width="142.4" height="119.6" fill="url(#petbg)"/>
<ellipse cx="52" cy="68" rx="76" ry="52" fill="url(#rg)" opacity="0.5"/>
<path d="M18,72 L44,44 L62,44 L88,72" fill="none" stroke="#fff" stroke-width="16" stroke-linecap="round" opacity="0.33"/>
<ellipse cx="46" cy="43" rx="7.5" ry="10" fill="#fff" opacity="0.55"/>
<ellipse cx="63" cy="43" rx="6" ry="8" fill="#fff" opacity="0.3"/>
<ellipse cx="30" cy="62" rx="8" ry="8" fill="#fff" opacity="0.15"/>
<ellipse cx="52" cy="84" rx="20" ry="11" fill="#000" opacity="0.65"/>
</g>
<g transform="scale(0.15765) translate(-18 -27)" fill="none" stroke="#10221f" stroke-width="3.0" stroke-linejoin="round">
<path d="M242,290 L250,250 L275,228 L310,222 L335,235 L345,270 L345,330 L335,375 L320,400 L295,402 L275,380 L255,340 Z"/>
<path d="M362,270 L370,235 L395,222 L430,228 L455,250 L462,285 L455,330 L435,375 L410,400 L385,402 L370,375 L362,330 Z"/>
</g>
<g font-family='"Liberation Serif", "Times New Roman", serif' font-size="5.3" fill="#fff" stroke="#fff" stroke-width="0.18">
<text x="17.8" y="51.6">OLF-R</text>
<text x="70.6" y="50.5">OLF-L</text>
</g>
</g>
</svg>
</body></html>
